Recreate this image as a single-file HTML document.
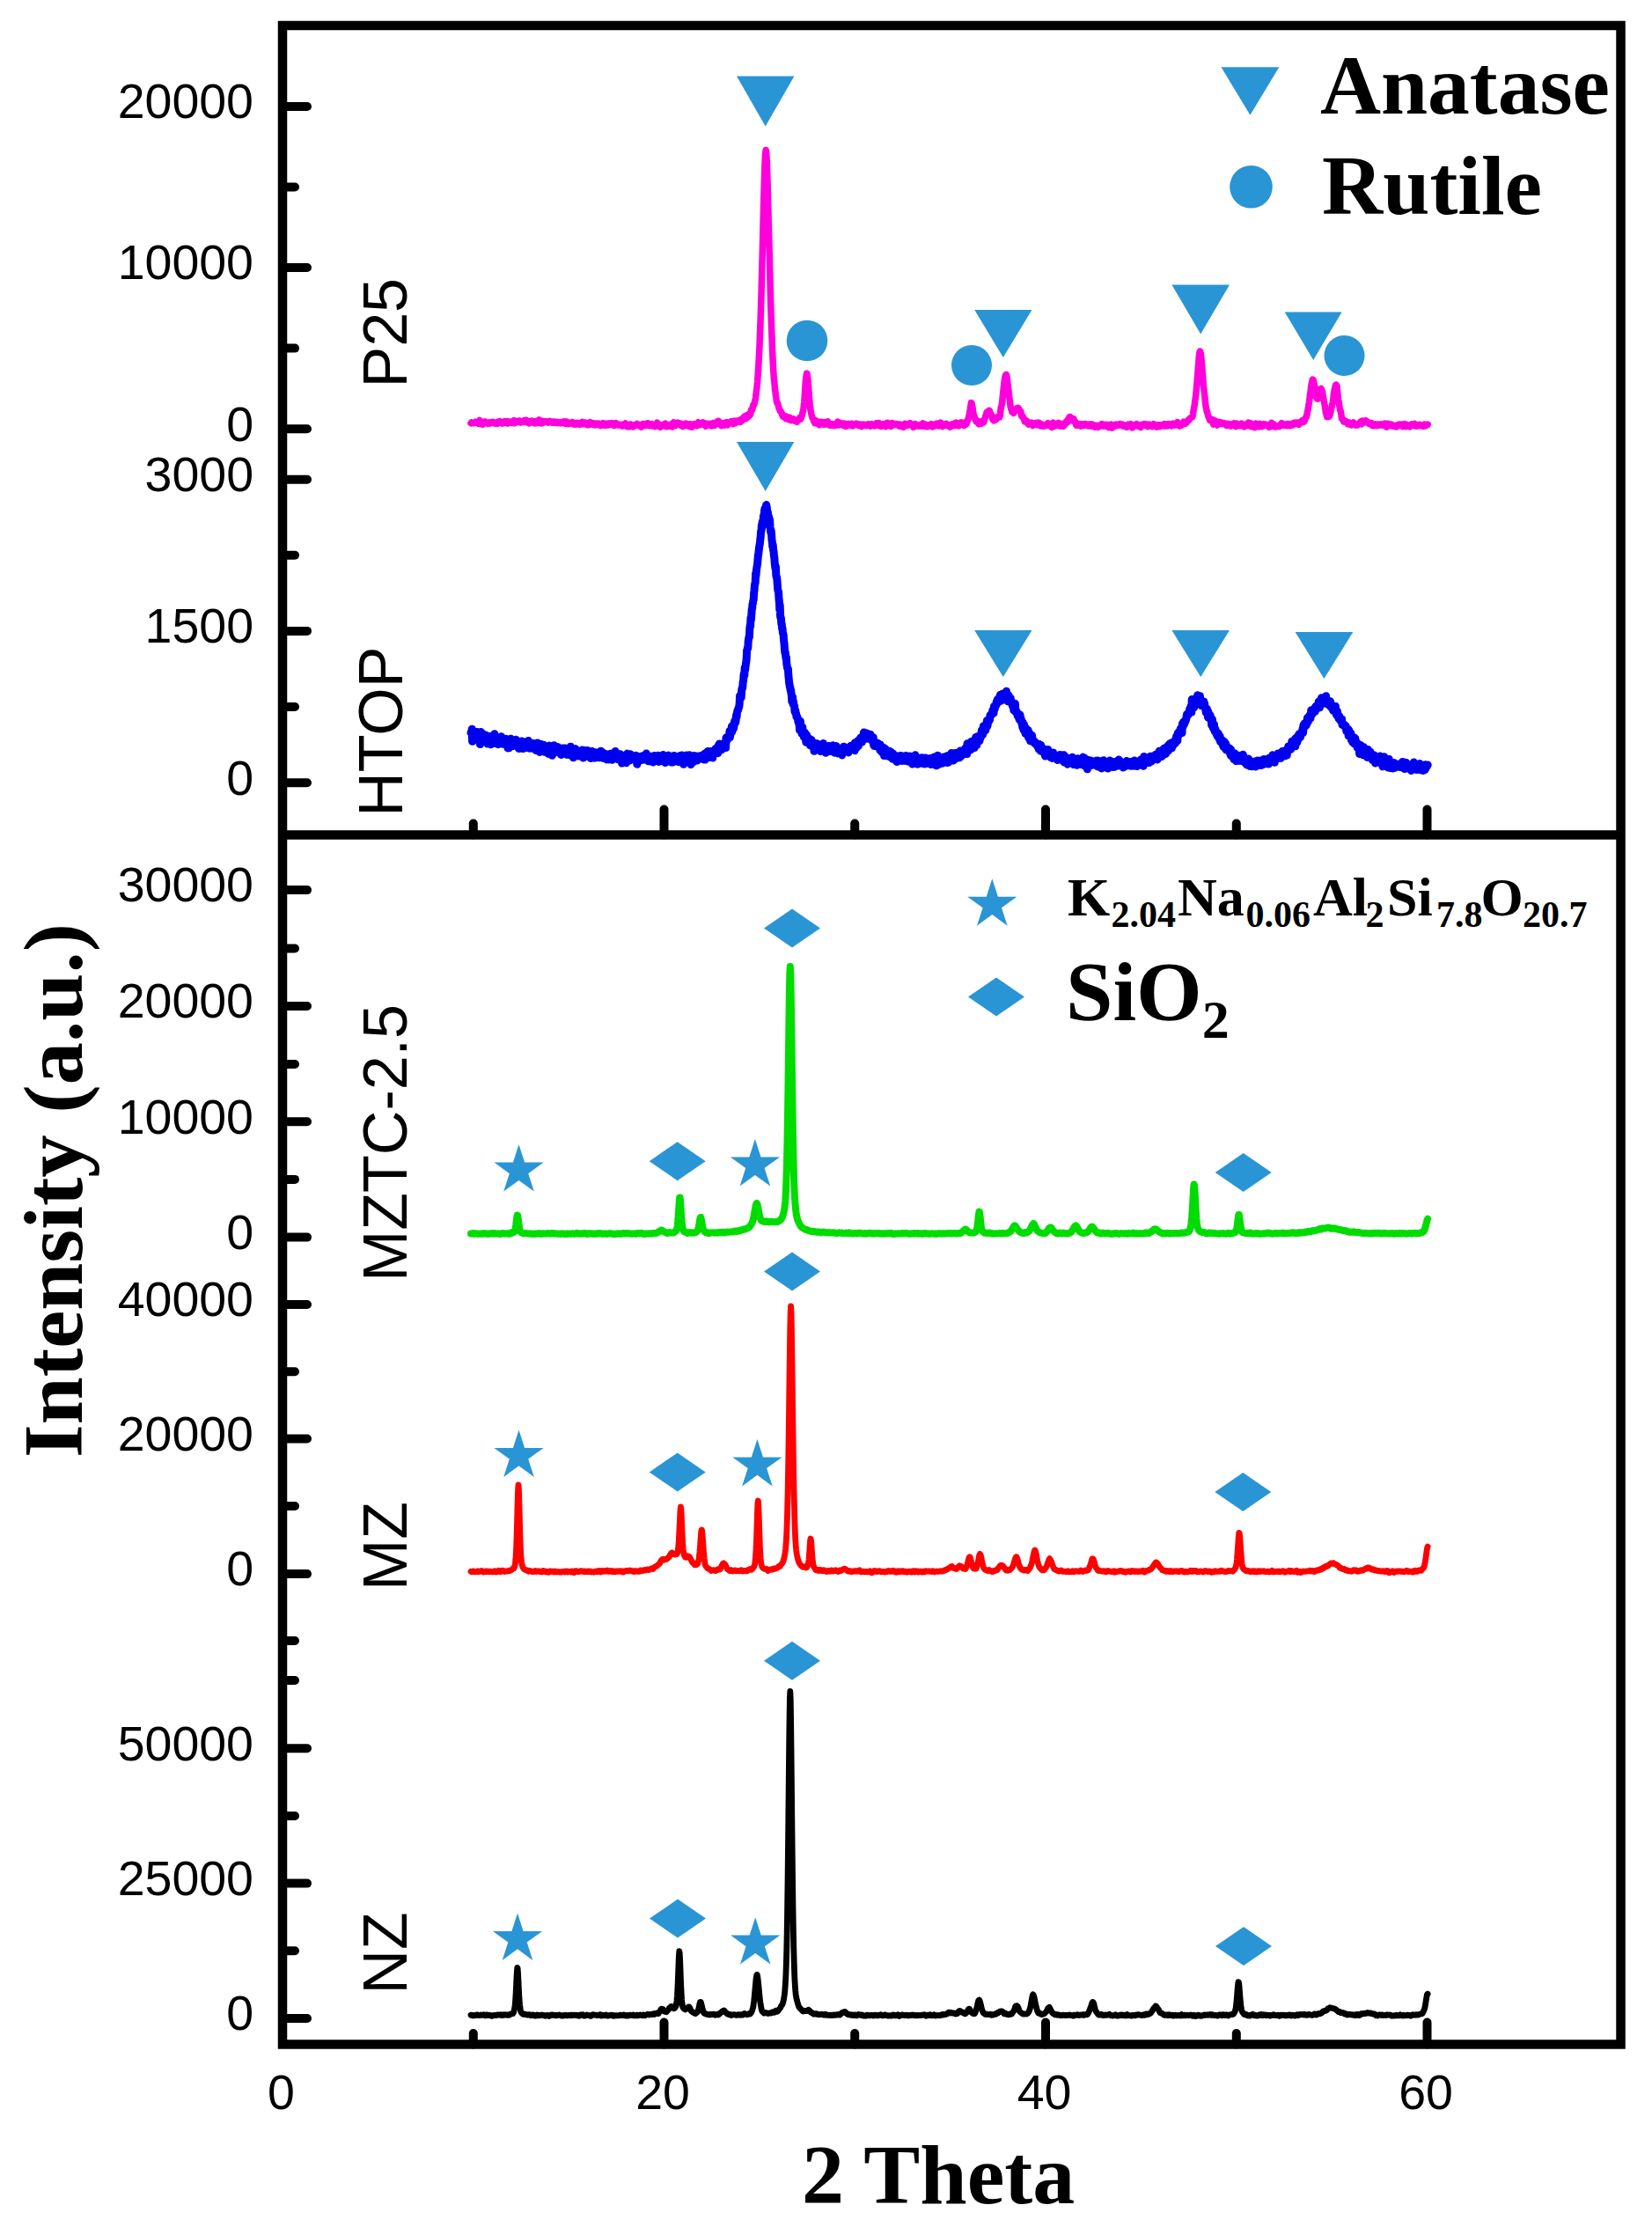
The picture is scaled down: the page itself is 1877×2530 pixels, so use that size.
<!DOCTYPE html>
<html lang="en"><head><meta charset="utf-8"><title>XRD patterns</title>
<style>html,body{margin:0;padding:0;background:#fff}svg{display:block}.tk{font-family:"Liberation Sans",Arial,sans-serif;font-size:55.5px;fill:#000}.sl{font-family:"Liberation Sans",Arial,sans-serif;font-size:70px;fill:#000}.bt{font-family:"Liberation Serif","Times New Roman",serif;font-weight:bold;fill:#000}</style></head><body>
<svg width="1877" height="2530" viewBox="0 0 1877 2530">
<rect x="0" y="0" width="1877" height="2530" fill="#fff"/>
<polyline fill="none" stroke="#FF00DC" stroke-width="7.5" stroke-linejoin="round" stroke-linecap="round" points="535.0,480.6 535.4,480.8 535.8,479.9 536.2,480.0 536.6,480.0 537.0,480.5 537.4,480.3 537.8,480.3 538.2,480.7 538.6,480.4 539.0,480.5 539.4,480.0 539.8,479.9 540.2,479.3 540.6,480.0 541.0,480.2 541.4,480.3 541.8,479.5 542.2,479.3 542.6,479.5 543.0,479.8 543.4,480.7 543.8,481.3 544.2,479.9 544.6,478.1 545.0,477.4 545.4,478.7 545.8,480.0 546.2,480.2 546.6,481.7 547.0,480.9 547.4,480.6 547.8,480.5 548.2,481.6 548.6,482.2 549.0,480.7 549.4,479.4 549.8,479.1 550.2,479.5 550.6,479.7 551.0,479.2 551.4,479.1 551.8,479.3 552.2,479.7 552.6,479.8 553.0,480.3 553.4,480.1 553.8,480.4 554.2,480.9 554.6,481.4 555.0,480.6 555.4,480.5 555.8,480.0 556.2,481.0 556.6,480.0 557.0,480.8 557.4,480.3 557.8,480.2 558.2,479.5 558.6,479.5 559.0,480.4 559.4,480.1 559.8,479.4 560.2,479.3 560.6,479.6 561.0,480.4 561.4,480.7 561.8,480.0 562.2,480.0 562.6,480.2 563.0,481.0 563.4,480.4 563.8,480.1 564.2,480.4 564.6,481.4 565.0,480.7 565.4,479.7 565.8,479.1 566.2,479.0 566.6,480.3 567.0,480.5 567.4,479.8 567.8,478.6 568.2,479.0 568.6,480.3 569.0,480.6 569.4,480.1 569.8,480.0 570.2,480.6 570.6,481.1 571.0,481.0 571.4,480.6 571.8,479.9 572.2,480.4 572.6,479.1 573.0,479.2 573.4,478.6 573.8,479.0 574.2,479.3 574.6,478.9 575.0,480.2 575.4,479.9 575.8,480.7 576.2,480.8 576.6,481.1 577.0,480.2 577.4,478.6 577.8,479.4 578.2,479.8 578.6,480.3 579.0,479.3 579.4,479.3 579.8,480.2 580.2,480.1 580.6,480.2 581.0,479.3 581.4,479.5 581.8,478.9 582.2,479.7 582.6,480.3 583.0,480.0 583.4,478.1 583.8,477.6 584.2,479.9 584.6,480.8 585.0,479.7 585.4,478.5 585.8,478.6 586.2,479.0 586.6,478.5 587.0,479.2 587.4,479.3 587.8,479.6 588.2,479.2 588.6,478.9 589.0,478.6 589.4,478.1 589.8,478.6 590.2,478.1 590.6,478.0 591.0,478.8 591.4,479.4 591.8,480.0 592.2,479.5 592.6,479.2 593.0,479.1 593.4,479.0 593.8,479.4 594.2,478.9 594.6,479.1 595.0,478.6 595.4,478.6 595.8,477.6 596.2,477.7 596.6,479.2 597.0,479.1 597.4,479.4 597.8,477.2 598.2,477.9 598.6,478.3 599.0,479.3 599.4,479.0 599.8,478.6 600.2,479.1 600.6,479.9 601.0,480.9 601.4,480.6 601.8,479.9 602.2,478.7 602.6,478.6 603.0,479.0 603.4,479.1 603.8,479.2 604.2,478.2 604.6,478.7 605.0,478.3 605.4,478.6 605.8,478.5 606.2,479.6 606.6,480.6 607.0,480.3 607.4,479.1 607.8,480.4 608.2,480.9 608.6,480.8 609.0,478.7 609.4,478.2 609.8,478.0 610.2,478.6 610.6,478.3 611.0,479.9 611.4,480.4 611.8,479.1 612.2,478.4 612.6,476.9 613.0,479.2 613.4,479.3 613.8,480.5 614.2,479.3 614.6,480.3 615.0,481.1 615.4,481.1 615.8,480.3 616.2,478.8 616.6,479.4 617.0,478.5 617.4,479.9 617.8,479.4 618.2,480.0 618.6,479.2 619.0,479.4 619.4,479.5 619.8,478.9 620.2,479.2 620.6,478.7 621.0,478.7 621.4,478.7 621.8,479.2 622.2,479.5 622.6,479.5 623.0,480.1 623.4,479.9 623.8,480.0 624.2,479.2 624.6,479.1 625.0,478.5 625.4,479.2 625.8,478.9 626.2,479.2 626.6,479.1 627.0,480.0 627.4,480.2 627.8,478.9 628.2,478.9 628.6,479.3 629.0,479.6 629.4,479.9 629.8,479.3 630.2,479.5 630.6,479.1 631.0,479.4 631.4,480.2 631.8,479.3 632.2,480.4 632.6,480.0 633.0,480.0 633.4,479.4 633.8,479.5 634.2,480.6 634.6,480.1 635.0,480.3 635.4,480.2 635.8,480.0 636.2,480.5 636.6,480.1 637.0,480.0 637.4,479.7 637.8,480.2 638.2,480.6 638.6,480.1 639.0,480.2 639.4,479.3 639.8,479.2 640.2,478.9 640.6,479.2 641.0,479.8 641.4,479.8 641.8,481.1 642.2,480.5 642.6,480.2 643.0,479.9 643.4,479.0 643.8,481.2 644.2,480.6 644.6,481.6 645.0,480.4 645.4,480.8 645.8,480.2 646.2,480.1 646.6,480.6 647.0,481.4 647.4,480.9 647.8,480.7 648.2,480.4 648.6,480.8 649.0,480.7 649.4,480.8 649.8,479.8 650.2,479.6 650.6,479.5 651.0,480.9 651.4,481.1 651.8,482.1 652.2,481.6 652.6,481.6 653.0,480.8 653.4,481.1 653.8,482.0 654.2,482.2 654.6,481.5 655.0,480.4 655.4,480.3 655.8,480.3 656.2,480.5 656.6,480.6 657.0,481.8 657.4,481.8 657.8,482.1 658.2,481.9 658.6,481.7 659.0,482.3 659.4,481.4 659.8,481.2 660.2,480.1 660.6,480.4 661.0,480.1 661.4,480.3 661.8,479.4 662.2,481.0 662.6,481.0 663.0,481.6 663.4,480.3 663.8,480.2 664.2,480.4 664.6,480.3 665.0,480.0 665.4,480.1 665.8,480.4 666.2,481.5 666.6,482.2 667.0,482.6 667.4,482.3 667.8,480.9 668.2,481.3 668.6,481.0 669.0,482.0 669.4,482.6 669.8,481.3 670.2,481.2 670.6,479.7 671.0,481.3 671.4,480.4 671.8,480.8 672.2,480.6 672.6,481.7 673.0,482.0 673.4,481.5 673.8,480.8 674.2,481.3 674.6,481.8 675.0,481.1 675.4,481.1 675.8,481.4 676.2,482.8 676.6,482.2 677.0,482.4 677.4,481.3 677.8,481.8 678.2,481.1 678.6,482.1 679.0,482.4 679.4,482.2 679.8,481.8 680.2,481.3 680.6,482.4 681.0,482.9 681.4,482.1 681.8,481.7 682.2,481.8 682.6,483.7 683.0,482.5 683.4,481.8 683.8,481.3 684.2,481.5 684.6,481.1 685.0,480.7 685.4,482.1 685.8,482.4 686.2,482.4 686.6,481.9 687.0,483.2 687.4,482.9 687.8,483.4 688.2,482.0 688.6,481.9 689.0,481.3 689.4,482.5 689.8,482.9 690.2,482.5 690.6,482.3 691.0,482.4 691.4,482.8 691.8,482.3 692.2,481.7 692.6,480.8 693.0,481.1 693.4,481.3 693.8,481.8 694.2,482.2 694.6,481.2 695.0,481.4 695.4,480.7 695.8,482.7 696.2,482.1 696.6,482.7 697.0,482.1 697.4,483.3 697.8,483.6 698.2,482.5 698.6,481.0 699.0,480.8 699.4,480.7 699.8,481.8 700.2,480.7 700.6,482.0 701.0,482.7 701.4,483.0 701.8,482.9 702.2,482.5 702.6,482.8 703.0,482.4 703.4,482.2 703.8,482.6 704.2,482.8 704.6,482.7 705.0,482.9 705.4,482.4 705.8,482.8 706.2,482.5 706.6,483.7 707.0,483.2 707.4,484.0 707.8,483.3 708.2,483.5 708.6,482.1 709.0,482.3 709.4,482.5 709.8,482.2 710.2,481.3 710.6,480.9 711.0,481.2 711.4,482.5 711.8,483.6 712.2,484.5 712.6,484.1 713.0,483.1 713.4,482.6 713.8,482.9 714.2,484.4 714.6,484.9 715.0,484.2 715.4,483.0 715.8,482.2 716.2,482.0 716.6,481.9 717.0,482.3 717.4,483.8 717.8,483.9 718.2,484.6 718.6,484.6 719.0,484.6 719.4,484.8 719.8,484.2 720.2,483.9 720.6,483.1 721.0,482.7 721.4,482.8 721.8,482.5 722.2,482.6 722.6,483.0 723.0,482.6 723.4,482.5 723.8,481.4 724.2,482.1 724.6,482.4 725.0,483.4 725.4,483.4 725.8,483.4 726.2,482.9 726.6,482.6 727.0,482.6 727.4,483.5 727.8,483.9 728.2,485.1 728.6,484.5 729.0,484.8 729.4,484.1 729.8,484.0 730.2,483.0 730.6,481.6 731.0,481.7 731.4,482.9 731.8,483.7 732.2,483.7 732.6,482.9 733.0,483.0 733.4,481.7 733.8,482.0 734.2,481.7 734.6,482.2 735.0,483.3 735.4,482.5 735.8,482.7 736.2,480.7 736.6,482.1 737.0,482.3 737.4,483.3 737.8,483.0 738.2,483.7 738.6,482.6 739.0,481.9 739.4,482.7 739.8,482.7 740.2,482.6 740.6,481.5 741.0,482.7 741.4,483.4 741.8,483.9 742.2,482.8 742.6,483.2 743.0,483.1 743.4,482.8 743.8,483.1 744.2,484.1 744.6,484.6 745.0,483.7 745.4,483.2 745.8,482.8 746.2,481.6 746.6,480.1 747.0,480.6 747.4,481.4 747.8,482.5 748.2,483.0 748.6,482.6 749.0,482.6 749.4,483.5 749.8,484.9 750.2,485.2 750.6,484.1 751.0,484.0 751.4,482.9 751.8,483.3 752.2,482.7 752.6,483.9 753.0,483.7 753.4,483.1 753.8,482.6 754.2,483.0 754.6,483.0 755.0,482.6 755.4,481.4 755.8,481.2 756.2,482.1 756.6,483.3 757.0,484.6 757.4,484.2 757.8,483.4 758.2,483.1 758.6,482.5 759.0,483.1 759.4,483.5 759.8,484.5 760.2,483.7 760.6,483.1 761.0,482.5 761.4,483.8 761.8,483.9 762.2,482.9 762.6,482.1 763.0,483.1 763.4,484.6 763.8,484.8 764.2,483.8 764.6,482.2 765.0,480.7 765.4,479.9 765.8,481.0 766.2,482.2 766.6,483.3 767.0,483.2 767.4,483.6 767.8,483.0 768.2,482.8 768.6,482.8 769.0,482.4 769.4,481.2 769.8,480.1 770.2,480.7 770.6,480.5 771.0,480.9 771.4,480.6 771.8,481.6 772.2,480.9 772.6,480.9 773.0,481.4 773.4,483.0 773.8,483.4 774.2,482.8 774.6,481.6 775.0,481.8 775.4,483.8 775.8,484.5 776.2,484.3 776.6,484.3 777.0,484.0 777.4,483.7 777.8,481.8 778.2,481.5 778.6,482.9 779.0,482.9 779.4,483.2 779.8,481.1 780.2,482.0 780.6,482.5 781.0,483.2 781.4,483.6 781.8,483.5 782.2,483.9 782.6,484.4 783.0,484.5 783.4,484.0 783.8,482.6 784.2,481.7 784.6,482.1 785.0,482.3 785.4,484.4 785.8,485.2 786.2,485.2 786.6,483.5 787.0,483.4 787.4,482.4 787.8,482.3 788.2,481.9 788.6,482.5 789.0,482.4 789.4,481.7 789.8,482.6 790.2,482.9 790.6,483.4 791.0,483.3 791.4,483.3 791.8,483.7 792.2,482.9 792.6,482.0 793.0,480.4 793.4,479.8 793.8,480.4 794.2,482.0 794.6,483.0 795.0,483.0 795.4,481.7 795.8,481.3 796.2,481.4 796.6,481.7 797.0,481.2 797.4,481.1 797.8,482.1 798.2,481.6 798.6,481.7 799.0,479.9 799.4,481.3 799.8,481.0 800.2,481.0 800.6,480.9 801.0,482.4 801.4,483.6 801.8,484.2 802.2,483.1 802.6,481.8 803.0,481.4 803.4,481.2 803.8,481.6 804.2,481.8 804.6,482.1 805.0,482.7 805.4,482.7 805.8,482.0 806.2,482.7 806.6,481.6 807.0,482.4 807.4,481.4 807.8,482.8 808.2,482.6 808.6,484.0 809.0,482.7 809.4,482.3 809.8,481.9 810.2,480.8 810.6,480.4 811.0,480.5 811.4,482.3 811.8,483.5 812.2,482.7 812.6,482.7 813.0,481.7 813.4,481.1 813.8,479.8 814.2,479.9 814.6,480.3 815.0,480.9 815.4,479.1 815.8,478.3 816.2,478.3 816.6,480.5 817.0,481.3 817.4,481.1 817.8,479.6 818.2,481.0 818.6,480.9 819.0,483.1 819.4,482.8 819.8,483.6 820.2,482.3 820.6,481.4 821.0,480.6 821.4,481.0 821.8,480.9 822.2,481.8 822.6,482.2 823.0,483.2 823.4,482.6 823.8,482.6 824.2,481.1 824.6,480.8 825.0,479.8 825.4,479.6 825.8,480.7 826.2,481.5 826.6,482.8 827.0,482.2 827.4,481.7 827.8,480.6 828.2,479.9 828.6,480.0 829.0,480.4 829.4,480.4 829.8,480.4 830.2,479.2 830.6,479.7 831.0,478.9 831.4,479.5 831.8,479.0 832.2,479.8 832.6,480.4 833.0,481.6 833.4,481.1 833.8,479.9 834.2,478.9 834.6,478.1 835.0,479.0 835.4,479.8 835.8,480.6 836.2,479.9 836.6,478.9 837.0,478.7 837.4,478.1 837.8,478.3 838.2,478.2 838.6,478.6 839.0,478.2 839.4,478.0 839.8,477.8 840.2,477.4 840.6,477.6 841.0,478.1 841.4,479.4 841.8,478.2 842.2,476.9 842.6,476.3 843.0,477.2 843.4,477.7 843.8,476.1 844.2,475.3 844.6,474.5 845.0,474.9 845.4,473.5 845.8,474.1 846.2,472.9 846.6,473.7 847.0,474.5 847.4,475.2 847.8,475.5 848.2,474.0 848.6,473.3 849.0,471.6 849.4,472.2 849.8,472.3 850.2,473.7 850.6,472.0 851.0,471.5 851.4,470.1 851.8,471.1 852.2,471.7 852.6,470.7 853.0,468.6 853.4,465.9 853.8,466.3 854.2,466.2 854.6,466.0 855.0,464.3 855.4,461.8 855.8,460.1 856.2,459.5 856.6,459.9 857.0,459.5 857.4,456.8 857.8,455.1 858.2,454.0 858.6,451.5 859.0,448.5 859.4,444.3 859.8,441.8 860.2,437.9 860.6,433.6 861.0,427.9 861.4,422.3 861.8,415.7 862.2,409.0 862.6,401.0 863.0,392.8 863.4,382.8 863.8,372.0 864.2,360.5 864.6,348.1 865.0,334.6 865.4,320.1 865.8,305.2 866.2,289.6 866.6,273.0 867.0,255.8 867.4,239.9 867.8,224.9 868.2,211.4 868.6,197.3 869.0,185.8 869.4,176.7 869.8,172.4 870.2,170.5 870.6,172.1 871.0,178.1 871.4,186.2 871.8,198.2 872.2,210.8 872.6,226.2 873.0,242.0 873.4,257.0 873.8,272.5 874.2,286.8 874.6,303.2 875.0,318.7 875.4,334.9 875.8,349.4 876.2,361.4 876.6,372.7 877.0,382.8 877.4,393.5 877.8,403.1 878.2,410.7 878.6,419.3 879.0,424.8 879.4,430.4 879.8,433.5 880.2,438.4 880.6,442.8 881.0,445.4 881.4,448.8 881.8,451.2 882.2,454.8 882.6,456.8 883.0,457.8 883.4,458.0 883.8,458.1 884.2,460.3 884.6,462.0 885.0,463.8 885.4,464.2 885.8,465.3 886.2,466.8 886.6,467.2 887.0,467.6 887.4,467.6 887.8,468.9 888.2,469.4 888.6,470.8 889.0,472.2 889.4,473.2 889.8,472.2 890.2,473.2 890.6,473.3 891.0,473.8 891.4,472.6 891.8,472.5 892.2,474.3 892.6,475.0 893.0,475.6 893.4,473.3 893.8,473.9 894.2,473.5 894.6,474.3 895.0,474.5 895.4,474.8 895.8,476.1 896.2,476.6 896.6,476.2 897.0,475.8 897.4,474.4 897.8,475.5 898.2,476.3 898.6,476.5 899.0,477.7 899.4,477.1 899.8,477.3 900.2,476.3 900.6,477.0 901.0,477.0 901.4,477.1 901.8,475.9 902.2,477.4 902.6,477.6 903.0,478.2 903.4,478.1 903.8,477.3 904.2,477.3 904.6,477.7 905.0,478.4 905.4,479.3 905.8,478.3 906.2,477.9 906.6,476.9 907.0,476.7 907.4,476.8 907.8,476.3 908.2,475.6 908.6,474.7 909.0,475.0 909.4,475.3 909.8,476.1 910.2,474.4 910.6,473.8 911.0,472.4 911.4,471.4 911.8,469.3 912.2,467.8 912.6,466.5 913.0,463.8 913.4,460.3 913.8,456.3 914.2,451.1 914.6,444.2 915.0,437.8 915.4,432.7 915.8,428.8 916.2,426.0 916.6,424.2 917.0,424.5 917.4,427.3 917.8,430.1 918.2,435.5 918.6,439.5 919.0,445.1 919.4,450.2 919.8,454.9 920.2,460.1 920.6,462.7 921.0,466.2 921.4,467.8 921.8,470.4 922.2,471.9 922.6,473.0 923.0,474.6 923.4,475.0 923.8,475.7 924.2,476.4 924.6,478.2 925.0,479.5 925.4,479.5 925.8,480.6 926.2,479.7 926.6,479.3 927.0,477.6 927.4,479.0 927.8,479.8 928.2,481.2 928.6,481.3 929.0,481.2 929.4,480.2 929.8,479.1 930.2,480.7 930.6,481.8 931.0,482.8 931.4,481.4 931.8,480.8 932.2,480.3 932.6,480.4 933.0,479.2 933.4,479.4 933.8,479.4 934.2,481.0 934.6,481.2 935.0,482.0 935.4,481.9 935.8,482.3 936.2,480.3 936.6,479.7 937.0,480.3 937.4,481.1 937.8,481.6 938.2,481.1 938.6,481.3 939.0,481.9 939.4,480.7 939.8,480.1 940.2,479.0 940.6,478.9 941.0,480.0 941.4,480.6 941.8,481.8 942.2,481.2 942.6,482.9 943.0,482.6 943.4,483.2 943.8,482.0 944.2,482.0 944.6,481.7 945.0,481.5 945.4,482.1 945.8,482.9 946.2,483.4 946.6,482.6 947.0,481.8 947.4,482.4 947.8,482.6 948.2,483.3 948.6,482.6 949.0,483.6 949.4,482.5 949.8,481.9 950.2,480.8 950.6,481.4 951.0,480.3 951.4,480.5 951.8,479.0 952.2,480.6 952.6,481.0 953.0,483.0 953.4,482.2 953.8,482.4 954.2,481.6 954.6,481.6 955.0,480.5 955.4,480.5 955.8,481.3 956.2,482.3 956.6,481.6 957.0,481.2 957.4,481.3 957.8,482.6 958.2,483.2 958.6,481.9 959.0,482.3 959.4,481.1 959.8,482.1 960.2,482.3 960.6,484.3 961.0,484.5 961.4,484.3 961.8,482.8 962.2,482.3 962.6,482.4 963.0,482.8 963.4,483.0 963.8,481.5 964.2,481.6 964.6,482.1 965.0,482.4 965.4,482.0 965.8,482.6 966.2,483.1 966.6,483.3 967.0,481.7 967.4,481.3 967.8,481.3 968.2,482.7 968.6,482.7 969.0,483.9 969.4,482.6 969.8,482.8 970.2,482.2 970.6,482.6 971.0,482.3 971.4,481.8 971.8,482.2 972.2,481.7 972.6,481.6 973.0,481.3 973.4,482.1 973.8,482.6 974.2,482.4 974.6,482.4 975.0,482.0 975.4,482.7 975.8,482.8 976.2,483.7 976.6,482.7 977.0,483.6 977.4,482.3 977.8,482.7 978.2,482.2 978.6,483.8 979.0,484.5 979.4,484.0 979.8,483.6 980.2,482.9 980.6,482.7 981.0,482.2 981.4,482.4 981.8,483.4 982.2,482.8 982.6,483.0 983.0,482.8 983.4,483.3 983.8,483.1 984.2,482.3 984.6,482.7 985.0,482.8 985.4,483.5 985.8,482.7 986.2,482.7 986.6,481.8 987.0,482.0 987.4,482.5 987.8,483.1 988.2,483.6 988.6,483.3 989.0,484.1 989.4,483.4 989.8,482.3 990.2,481.8 990.6,481.8 991.0,482.2 991.4,482.3 991.8,482.6 992.2,483.4 992.6,482.8 993.0,482.8 993.4,482.7 993.8,483.9 994.2,483.4 994.6,483.2 995.0,482.4 995.4,481.8 995.8,480.9 996.2,481.9 996.6,481.9 997.0,483.2 997.4,481.4 997.8,482.0 998.2,480.5 998.6,480.5 999.0,481.4 999.4,481.7 999.8,482.6 1000.2,482.3 1000.6,484.3 1001.0,483.7 1001.4,484.2 1001.8,483.6 1002.2,483.7 1002.6,482.0 1003.0,482.4 1003.4,481.8 1003.8,482.5 1004.2,482.1 1004.6,483.5 1005.0,483.3 1005.4,482.8 1005.8,482.0 1006.2,483.2 1006.6,484.6 1007.0,483.7 1007.4,483.6 1007.8,480.5 1008.2,481.6 1008.6,480.4 1009.0,483.2 1009.4,483.3 1009.8,483.5 1010.2,482.1 1010.6,481.6 1011.0,482.2 1011.4,482.4 1011.8,483.1 1012.2,483.9 1012.6,484.4 1013.0,483.3 1013.4,481.4 1013.8,480.6 1014.2,481.9 1014.6,482.7 1015.0,482.7 1015.4,482.2 1015.8,481.6 1016.2,481.3 1016.6,481.5 1017.0,482.2 1017.4,482.6 1017.8,482.5 1018.2,482.3 1018.6,482.2 1019.0,481.7 1019.4,482.4 1019.8,482.8 1020.2,482.4 1020.6,481.9 1021.0,482.2 1021.4,484.0 1021.8,483.5 1022.2,483.3 1022.6,482.1 1023.0,483.2 1023.4,483.3 1023.8,484.3 1024.2,484.1 1024.6,483.6 1025.0,482.4 1025.4,482.3 1025.8,482.9 1026.2,484.6 1026.6,485.3 1027.0,484.4 1027.4,483.2 1027.8,481.5 1028.2,481.2 1028.6,481.4 1029.0,482.5 1029.4,482.9 1029.8,483.4 1030.2,482.5 1030.6,482.5 1031.0,481.9 1031.4,482.6 1031.8,483.2 1032.2,482.7 1032.6,482.7 1033.0,482.8 1033.4,482.7 1033.8,481.5 1034.2,480.8 1034.6,481.2 1035.0,481.9 1035.4,483.0 1035.8,483.4 1036.2,483.6 1036.6,483.4 1037.0,483.9 1037.4,484.5 1037.8,485.4 1038.2,485.1 1038.6,485.1 1039.0,484.0 1039.4,482.6 1039.8,481.6 1040.2,481.9 1040.6,482.7 1041.0,483.2 1041.4,483.4 1041.8,482.8 1042.2,483.5 1042.6,483.1 1043.0,483.4 1043.4,482.8 1043.8,482.7 1044.2,484.1 1044.6,483.2 1045.0,483.4 1045.4,482.7 1045.8,484.0 1046.2,483.7 1046.6,484.0 1047.0,483.0 1047.4,482.4 1047.8,481.7 1048.2,481.5 1048.6,480.9 1049.0,481.1 1049.4,482.3 1049.8,484.1 1050.2,483.4 1050.6,483.0 1051.0,482.0 1051.4,483.3 1051.8,483.7 1052.2,484.7 1052.6,482.5 1053.0,482.5 1053.4,483.0 1053.8,484.8 1054.2,484.8 1054.6,483.9 1055.0,483.0 1055.4,482.9 1055.8,483.1 1056.2,483.5 1056.6,482.9 1057.0,483.7 1057.4,482.9 1057.8,483.1 1058.2,481.7 1058.6,483.0 1059.0,483.9 1059.4,484.9 1059.8,484.7 1060.2,483.1 1060.6,483.6 1061.0,483.5 1061.4,484.2 1061.8,483.0 1062.2,482.5 1062.6,482.8 1063.0,483.0 1063.4,483.0 1063.8,481.2 1064.2,481.0 1064.6,481.5 1065.0,483.3 1065.4,483.2 1065.8,483.2 1066.2,483.5 1066.6,483.3 1067.0,483.9 1067.4,482.2 1067.8,481.7 1068.2,480.4 1068.6,480.1 1069.0,480.2 1069.4,481.5 1069.8,483.6 1070.2,484.2 1070.6,484.5 1071.0,483.9 1071.4,483.6 1071.8,482.7 1072.2,482.5 1072.6,483.2 1073.0,482.2 1073.4,482.8 1073.8,482.1 1074.2,483.5 1074.6,482.0 1075.0,482.0 1075.4,481.6 1075.8,483.0 1076.2,482.5 1076.6,483.5 1077.0,483.2 1077.4,483.6 1077.8,483.3 1078.2,483.1 1078.6,484.1 1079.0,484.7 1079.4,485.1 1079.8,484.1 1080.2,482.5 1080.6,482.4 1081.0,482.9 1081.4,482.6 1081.8,481.9 1082.2,482.1 1082.6,483.9 1083.0,482.8 1083.4,482.8 1083.8,481.3 1084.2,483.3 1084.6,483.4 1085.0,483.5 1085.4,482.4 1085.8,481.1 1086.2,480.0 1086.6,481.3 1087.0,481.9 1087.4,482.7 1087.8,481.8 1088.2,481.1 1088.6,481.6 1089.0,482.5 1089.4,483.9 1089.8,482.8 1090.2,482.8 1090.6,481.7 1091.0,481.5 1091.4,479.9 1091.8,479.8 1092.2,480.8 1092.6,480.9 1093.0,480.5 1093.4,480.3 1093.8,482.0 1094.2,482.4 1094.6,482.8 1095.0,481.6 1095.4,483.5 1095.8,482.0 1096.2,482.5 1096.6,480.0 1097.0,480.6 1097.4,479.7 1097.8,482.0 1098.2,481.5 1098.6,480.0 1099.0,478.2 1099.4,477.3 1099.8,477.2 1100.2,475.1 1100.6,474.0 1101.0,472.1 1101.4,470.0 1101.8,467.7 1102.2,465.8 1102.6,462.9 1103.0,460.2 1103.4,457.6 1103.8,457.7 1104.2,458.6 1104.6,460.9 1105.0,463.0 1105.4,466.4 1105.8,468.7 1106.2,471.2 1106.6,471.7 1107.0,472.9 1107.4,473.9 1107.8,475.2 1108.2,477.3 1108.6,477.5 1109.0,478.8 1109.4,477.5 1109.8,477.9 1110.2,477.9 1110.6,479.4 1111.0,479.1 1111.4,479.4 1111.8,480.2 1112.2,481.6 1112.6,481.2 1113.0,480.3 1113.4,479.2 1113.8,479.9 1114.2,481.0 1114.6,481.2 1115.0,479.7 1115.4,478.8 1115.8,479.3 1116.2,478.4 1116.6,478.1 1117.0,478.5 1117.4,480.0 1117.8,479.7 1118.2,477.9 1118.6,477.3 1119.0,475.6 1119.4,473.9 1119.8,472.4 1120.2,471.5 1120.6,471.0 1121.0,468.6 1121.4,468.3 1121.8,467.8 1122.2,468.2 1122.6,467.4 1123.0,467.8 1123.4,467.3 1123.8,467.1 1124.2,466.3 1124.6,467.5 1125.0,468.4 1125.4,470.1 1125.8,470.9 1126.2,471.6 1126.6,471.6 1127.0,473.5 1127.4,475.0 1127.8,476.3 1128.2,476.1 1128.6,476.5 1129.0,477.4 1129.4,477.9 1129.8,477.7 1130.2,476.9 1130.6,475.9 1131.0,475.4 1131.4,476.6 1131.8,476.5 1132.2,475.7 1132.6,474.1 1133.0,473.8 1133.4,474.7 1133.8,474.1 1134.2,474.2 1134.6,473.4 1135.0,473.8 1135.4,473.6 1135.8,473.8 1136.2,472.4 1136.6,468.8 1137.0,465.1 1137.4,462.3 1137.8,461.8 1138.2,459.7 1138.6,457.3 1139.0,452.8 1139.4,449.3 1139.8,445.4 1140.2,441.5 1140.6,437.9 1141.0,434.5 1141.4,431.4 1141.8,428.8 1142.2,427.1 1142.6,426.2 1143.0,425.6 1143.4,425.5 1143.8,427.0 1144.2,429.7 1144.6,432.8 1145.0,436.5 1145.4,439.6 1145.8,442.6 1146.2,445.7 1146.6,449.6 1147.0,452.9 1147.4,455.8 1147.8,459.0 1148.2,462.5 1148.6,464.3 1149.0,465.2 1149.4,465.5 1149.8,467.8 1150.2,467.8 1150.6,468.7 1151.0,468.8 1151.4,468.8 1151.8,469.4 1152.2,467.8 1152.6,468.1 1153.0,466.6 1153.4,466.5 1153.8,465.8 1154.2,465.2 1154.6,464.0 1155.0,463.8 1155.4,463.7 1155.8,464.6 1156.2,464.7 1156.6,463.4 1157.0,463.6 1157.4,463.9 1157.8,465.0 1158.2,465.6 1158.6,466.6 1159.0,467.6 1159.4,467.2 1159.8,467.3 1160.2,470.3 1160.6,472.3 1161.0,472.9 1161.4,472.2 1161.8,472.4 1162.2,473.7 1162.6,474.8 1163.0,474.6 1163.4,475.7 1163.8,477.1 1164.2,479.0 1164.6,479.0 1165.0,479.2 1165.4,479.0 1165.8,478.8 1166.2,477.7 1166.6,478.5 1167.0,479.7 1167.4,480.6 1167.8,481.2 1168.2,481.6 1168.6,482.1 1169.0,481.4 1169.4,480.9 1169.8,481.4 1170.2,481.3 1170.6,481.4 1171.0,480.5 1171.4,481.1 1171.8,480.7 1172.2,480.2 1172.6,481.8 1173.0,483.0 1173.4,483.5 1173.8,482.0 1174.2,481.9 1174.6,482.1 1175.0,482.6 1175.4,481.8 1175.8,481.9 1176.2,481.5 1176.6,481.6 1177.0,480.4 1177.4,480.5 1177.8,481.0 1178.2,482.7 1178.6,482.1 1179.0,482.2 1179.4,482.1 1179.8,481.6 1180.2,480.2 1180.6,480.4 1181.0,480.8 1181.4,482.7 1181.8,483.7 1182.2,483.9 1182.6,483.0 1183.0,481.7 1183.4,482.5 1183.8,482.2 1184.2,483.0 1184.6,483.2 1185.0,484.2 1185.4,483.2 1185.8,483.2 1186.2,483.3 1186.6,482.9 1187.0,483.6 1187.4,483.0 1187.8,483.9 1188.2,482.4 1188.6,482.8 1189.0,483.2 1189.4,483.1 1189.8,481.9 1190.2,481.0 1190.6,480.7 1191.0,481.2 1191.4,481.4 1191.8,482.1 1192.2,483.3 1192.6,482.8 1193.0,483.1 1193.4,482.0 1193.8,483.4 1194.2,484.7 1194.6,485.1 1195.0,485.3 1195.4,483.6 1195.8,482.5 1196.2,480.8 1196.6,480.2 1197.0,480.5 1197.4,481.1 1197.8,482.7 1198.2,483.7 1198.6,484.1 1199.0,483.2 1199.4,482.3 1199.8,482.1 1200.2,482.4 1200.6,483.0 1201.0,483.1 1201.4,483.0 1201.8,481.7 1202.2,480.9 1202.6,480.4 1203.0,482.5 1203.4,482.9 1203.8,483.8 1204.2,483.6 1204.6,484.0 1205.0,483.4 1205.4,482.4 1205.8,481.5 1206.2,481.9 1206.6,482.7 1207.0,483.6 1207.4,483.8 1207.8,483.5 1208.2,484.2 1208.6,483.3 1209.0,482.9 1209.4,482.0 1209.8,482.9 1210.2,481.2 1210.6,480.3 1211.0,479.2 1211.4,479.7 1211.8,480.2 1212.2,480.0 1212.6,480.0 1213.0,478.1 1213.4,476.7 1213.8,475.9 1214.2,476.6 1214.6,476.2 1215.0,475.0 1215.4,473.5 1215.8,473.5 1216.2,475.3 1216.6,477.4 1217.0,477.4 1217.4,477.1 1217.8,476.6 1218.2,478.0 1218.6,477.7 1219.0,476.6 1219.4,476.1 1219.8,475.6 1220.2,477.0 1220.6,478.2 1221.0,478.7 1221.4,479.0 1221.8,479.1 1222.2,481.3 1222.6,482.5 1223.0,483.1 1223.4,482.2 1223.8,481.4 1224.2,481.9 1224.6,482.1 1225.0,482.4 1225.4,482.7 1225.8,483.3 1226.2,482.6 1226.6,481.6 1227.0,481.9 1227.4,482.7 1227.8,483.6 1228.2,484.0 1228.6,483.7 1229.0,482.8 1229.4,482.0 1229.8,481.7 1230.2,482.3 1230.6,482.3 1231.0,483.4 1231.4,482.9 1231.8,482.5 1232.2,483.1 1232.6,483.0 1233.0,483.1 1233.4,481.7 1233.8,482.0 1234.2,481.8 1234.6,482.2 1235.0,482.0 1235.4,482.3 1235.8,482.6 1236.2,483.4 1236.6,483.9 1237.0,483.3 1237.4,483.1 1237.8,482.8 1238.2,483.1 1238.6,481.9 1239.0,482.4 1239.4,482.4 1239.8,484.3 1240.2,484.3 1240.6,483.8 1241.0,482.0 1241.4,482.3 1241.8,482.4 1242.2,483.6 1242.6,482.8 1243.0,484.5 1243.4,484.2 1243.8,485.2 1244.2,484.8 1244.6,484.5 1245.0,483.4 1245.4,483.5 1245.8,483.8 1246.2,483.5 1246.6,483.3 1247.0,484.8 1247.4,485.3 1247.8,485.4 1248.2,483.9 1248.6,484.7 1249.0,483.7 1249.4,484.6 1249.8,484.1 1250.2,484.2 1250.6,483.6 1251.0,482.9 1251.4,482.4 1251.8,481.7 1252.2,481.9 1252.6,482.0 1253.0,482.9 1253.4,483.2 1253.8,484.1 1254.2,483.6 1254.6,483.3 1255.0,483.0 1255.4,484.1 1255.8,483.6 1256.2,483.4 1256.6,482.5 1257.0,482.8 1257.4,482.6 1257.8,482.4 1258.2,483.1 1258.6,483.1 1259.0,484.0 1259.4,484.6 1259.8,485.7 1260.2,484.2 1260.6,483.4 1261.0,483.0 1261.4,484.3 1261.8,483.0 1262.2,483.1 1262.6,482.2 1263.0,483.9 1263.4,484.0 1263.8,486.1 1264.2,485.2 1264.6,483.7 1265.0,482.8 1265.4,483.5 1265.8,484.2 1266.2,484.4 1266.6,484.3 1267.0,483.7 1267.4,482.8 1267.8,482.1 1268.2,482.8 1268.6,483.1 1269.0,482.9 1269.4,482.9 1269.8,483.1 1270.2,483.5 1270.6,483.4 1271.0,482.9 1271.4,482.9 1271.8,482.0 1272.2,482.2 1272.6,481.7 1273.0,482.9 1273.4,481.9 1273.8,483.0 1274.2,483.1 1274.6,483.2 1275.0,482.8 1275.4,482.2 1275.8,484.0 1276.2,484.2 1276.6,484.2 1277.0,483.3 1277.4,483.0 1277.8,484.1 1278.2,484.2 1278.6,484.5 1279.0,483.2 1279.4,483.4 1279.8,484.3 1280.2,485.3 1280.6,484.9 1281.0,483.7 1281.4,482.8 1281.8,483.0 1282.2,482.2 1282.6,482.8 1283.0,482.5 1283.4,482.6 1283.8,482.9 1284.2,482.3 1284.6,482.8 1285.0,481.7 1285.4,483.6 1285.8,484.7 1286.2,486.0 1286.6,486.0 1287.0,485.2 1287.4,485.1 1287.8,483.7 1288.2,482.9 1288.6,482.6 1289.0,482.5 1289.4,482.8 1289.8,483.2 1290.2,483.4 1290.6,482.7 1291.0,482.2 1291.4,481.8 1291.8,482.6 1292.2,482.0 1292.6,483.2 1293.0,484.4 1293.4,484.4 1293.8,484.1 1294.2,483.4 1294.6,483.4 1295.0,483.1 1295.4,483.5 1295.8,484.6 1296.2,485.5 1296.6,484.0 1297.0,483.1 1297.4,482.3 1297.8,483.2 1298.2,483.6 1298.6,483.2 1299.0,482.8 1299.4,482.4 1299.8,482.9 1300.2,481.5 1300.6,482.8 1301.0,482.2 1301.4,483.0 1301.8,482.4 1302.2,481.9 1302.6,482.9 1303.0,482.4 1303.4,483.5 1303.8,483.8 1304.2,484.7 1304.6,484.1 1305.0,483.5 1305.4,482.7 1305.8,482.2 1306.2,482.7 1306.6,482.7 1307.0,482.8 1307.4,483.1 1307.8,483.8 1308.2,483.9 1308.6,483.5 1309.0,483.4 1309.4,484.6 1309.8,483.7 1310.2,482.2 1310.6,481.7 1311.0,481.9 1311.4,482.7 1311.8,482.7 1312.2,483.3 1312.6,483.0 1313.0,482.9 1313.4,484.3 1313.8,484.6 1314.2,485.1 1314.6,483.5 1315.0,483.7 1315.4,482.8 1315.8,482.9 1316.2,482.7 1316.6,483.7 1317.0,484.6 1317.4,484.7 1317.8,484.7 1318.2,482.9 1318.6,482.8 1319.0,483.3 1319.4,483.8 1319.8,483.4 1320.2,482.6 1320.6,482.5 1321.0,482.7 1321.4,482.4 1321.8,483.6 1322.2,483.3 1322.6,483.2 1323.0,481.7 1323.4,482.9 1323.8,483.0 1324.2,484.1 1324.6,483.4 1325.0,483.6 1325.4,482.0 1325.8,482.6 1326.2,482.9 1326.6,483.9 1327.0,483.1 1327.4,482.6 1327.8,481.6 1328.2,482.2 1328.6,482.6 1329.0,483.1 1329.4,482.1 1329.8,482.0 1330.2,482.2 1330.6,483.5 1331.0,483.8 1331.4,483.5 1331.8,481.9 1332.2,481.3 1332.6,481.1 1333.0,481.7 1333.4,482.1 1333.8,482.9 1334.2,483.1 1334.6,482.7 1335.0,482.7 1335.4,481.9 1335.8,481.9 1336.2,482.0 1336.6,482.6 1337.0,481.9 1337.4,480.7 1337.8,479.6 1338.2,481.3 1338.6,481.0 1339.0,481.8 1339.4,481.8 1339.8,483.3 1340.2,484.0 1340.6,482.6 1341.0,482.4 1341.4,483.3 1341.8,483.5 1342.2,483.2 1342.6,481.2 1343.0,481.1 1343.4,481.0 1343.8,481.9 1344.2,481.3 1344.6,480.1 1345.0,479.2 1345.4,479.8 1345.8,481.3 1346.2,481.5 1346.6,480.9 1347.0,480.3 1347.4,480.3 1347.8,480.7 1348.2,480.0 1348.6,479.5 1349.0,478.9 1349.4,477.8 1349.8,477.9 1350.2,477.1 1350.6,477.6 1351.0,476.3 1351.4,476.5 1351.8,476.1 1352.2,475.0 1352.6,475.0 1353.0,474.6 1353.4,474.7 1353.8,474.3 1354.2,474.0 1354.6,473.8 1355.0,473.0 1355.4,471.3 1355.8,468.2 1356.2,465.5 1356.6,463.2 1357.0,461.9 1357.4,458.9 1357.8,455.5 1358.2,452.7 1358.6,450.0 1359.0,446.0 1359.4,441.6 1359.8,436.4 1360.2,432.0 1360.6,427.0 1361.0,422.0 1361.4,416.9 1361.8,411.8 1362.2,406.4 1362.6,402.9 1363.0,400.1 1363.4,399.1 1363.8,399.5 1364.2,401.3 1364.6,404.2 1365.0,407.5 1365.4,412.0 1365.8,417.7 1366.2,422.4 1366.6,427.3 1367.0,432.3 1367.4,437.5 1367.8,441.5 1368.2,444.7 1368.6,448.4 1369.0,451.8 1369.4,456.6 1369.8,459.3 1370.2,462.7 1370.6,463.9 1371.0,466.6 1371.4,467.9 1371.8,468.6 1372.2,470.5 1372.6,471.8 1373.0,473.6 1373.4,473.7 1373.8,475.2 1374.2,476.3 1374.6,477.4 1375.0,477.7 1375.4,477.8 1375.8,477.7 1376.2,477.2 1376.6,476.3 1377.0,476.4 1377.4,476.5 1377.8,479.3 1378.2,480.6 1378.6,482.1 1379.0,480.5 1379.4,481.0 1379.8,479.5 1380.2,479.3 1380.6,477.8 1381.0,478.4 1381.4,479.3 1381.8,480.0 1382.2,481.8 1382.6,482.4 1383.0,483.1 1383.4,482.3 1383.8,481.8 1384.2,480.8 1384.6,479.7 1385.0,479.4 1385.4,479.7 1385.8,481.0 1386.2,480.6 1386.6,480.1 1387.0,479.9 1387.4,480.3 1387.8,481.4 1388.2,481.0 1388.6,481.3 1389.0,480.3 1389.4,480.6 1389.8,480.6 1390.2,481.1 1390.6,480.8 1391.0,481.4 1391.4,481.9 1391.8,481.3 1392.2,481.1 1392.6,481.3 1393.0,482.9 1393.4,483.5 1393.8,483.4 1394.2,482.2 1394.6,481.3 1395.0,481.7 1395.4,482.0 1395.8,483.1 1396.2,483.3 1396.6,483.1 1397.0,482.8 1397.4,482.0 1397.8,483.8 1398.2,484.1 1398.6,483.9 1399.0,483.0 1399.4,482.0 1399.8,482.2 1400.2,482.1 1400.6,482.7 1401.0,483.0 1401.4,482.4 1401.8,481.2 1402.2,480.8 1402.6,480.9 1403.0,481.5 1403.4,483.0 1403.8,484.2 1404.2,484.5 1404.6,482.5 1405.0,481.1 1405.4,481.4 1405.8,482.8 1406.2,483.4 1406.6,483.3 1407.0,482.8 1407.4,483.6 1407.8,482.5 1408.2,482.4 1408.6,482.1 1409.0,483.7 1409.4,483.8 1409.8,483.0 1410.2,482.1 1410.6,481.0 1411.0,481.8 1411.4,482.2 1411.8,483.4 1412.2,482.7 1412.6,482.0 1413.0,482.6 1413.4,483.2 1413.8,484.9 1414.2,484.3 1414.6,483.3 1415.0,482.8 1415.4,483.3 1415.8,483.8 1416.2,482.3 1416.6,481.9 1417.0,482.1 1417.4,483.4 1417.8,481.5 1418.2,481.8 1418.6,480.1 1419.0,481.1 1419.4,481.4 1419.8,481.9 1420.2,481.3 1420.6,480.6 1421.0,482.6 1421.4,484.6 1421.8,484.5 1422.2,484.1 1422.6,483.5 1423.0,484.0 1423.4,483.7 1423.8,482.9 1424.2,483.2 1424.6,483.6 1425.0,485.6 1425.4,485.7 1425.8,483.7 1426.2,481.4 1426.6,481.1 1427.0,482.5 1427.4,482.2 1427.8,481.9 1428.2,481.6 1428.6,482.7 1429.0,482.7 1429.4,483.4 1429.8,484.3 1430.2,484.8 1430.6,483.6 1431.0,482.3 1431.4,481.5 1431.8,482.1 1432.2,482.3 1432.6,482.5 1433.0,482.0 1433.4,482.8 1433.8,483.5 1434.2,484.6 1434.6,484.0 1435.0,483.8 1435.4,482.7 1435.8,482.1 1436.2,481.6 1436.6,482.4 1437.0,482.9 1437.4,482.6 1437.8,482.3 1438.2,482.6 1438.6,483.4 1439.0,482.9 1439.4,482.7 1439.8,482.4 1440.2,482.6 1440.6,482.5 1441.0,483.2 1441.4,484.4 1441.8,485.4 1442.2,485.3 1442.6,484.0 1443.0,482.9 1443.4,482.4 1443.8,483.3 1444.2,481.9 1444.6,482.2 1445.0,480.3 1445.4,481.9 1445.8,482.5 1446.2,483.2 1446.6,481.8 1447.0,481.8 1447.4,483.2 1447.8,484.8 1448.2,484.8 1448.6,483.4 1449.0,483.8 1449.4,484.1 1449.8,484.9 1450.2,484.4 1450.6,484.1 1451.0,484.4 1451.4,483.8 1451.8,483.9 1452.2,483.6 1452.6,484.1 1453.0,484.1 1453.4,484.2 1453.8,484.5 1454.2,483.5 1454.6,483.4 1455.0,482.3 1455.4,482.5 1455.8,481.1 1456.2,480.7 1456.6,481.0 1457.0,481.9 1457.4,483.0 1457.8,483.0 1458.2,483.3 1458.6,482.7 1459.0,482.4 1459.4,482.1 1459.8,482.3 1460.2,482.2 1460.6,482.0 1461.0,481.9 1461.4,481.8 1461.8,482.1 1462.2,483.7 1462.6,483.4 1463.0,483.5 1463.4,481.5 1463.8,482.8 1464.2,482.3 1464.6,483.2 1465.0,483.0 1465.4,483.7 1465.8,482.8 1466.2,482.3 1466.6,481.6 1467.0,482.8 1467.4,482.5 1467.8,483.1 1468.2,482.8 1468.6,482.6 1469.0,482.8 1469.4,481.7 1469.8,481.5 1470.2,480.3 1470.6,481.0 1471.0,481.0 1471.4,481.4 1471.8,481.1 1472.2,481.0 1472.6,480.1 1473.0,480.3 1473.4,480.7 1473.8,481.2 1474.2,480.8 1474.6,480.2 1475.0,481.4 1475.4,481.8 1475.8,482.3 1476.2,481.0 1476.6,480.5 1477.0,479.7 1477.4,480.6 1477.8,479.8 1478.2,480.3 1478.6,479.2 1479.0,479.9 1479.4,478.6 1479.8,477.7 1480.2,478.1 1480.6,478.4 1481.0,479.3 1481.4,478.7 1481.8,479.0 1482.2,478.5 1482.6,476.8 1483.0,475.6 1483.4,474.8 1483.8,473.8 1484.2,474.0 1484.6,472.1 1485.0,471.4 1485.4,468.2 1485.8,466.9 1486.2,464.4 1486.6,462.6 1487.0,459.2 1487.4,457.5 1487.8,453.7 1488.2,451.4 1488.6,447.5 1489.0,445.3 1489.4,441.2 1489.8,438.5 1490.2,436.0 1490.6,434.4 1491.0,432.4 1491.4,431.0 1491.8,431.3 1492.2,431.5 1492.6,433.4 1493.0,435.4 1493.4,437.6 1493.8,438.4 1494.2,440.8 1494.6,444.2 1495.0,448.8 1495.4,450.9 1495.8,452.4 1496.2,452.2 1496.6,452.9 1497.0,453.2 1497.4,453.2 1497.8,452.6 1498.2,452.6 1498.6,452.0 1499.0,449.8 1499.4,447.6 1499.8,445.2 1500.2,443.2 1500.6,442.0 1501.0,441.4 1501.4,442.8 1501.8,443.1 1502.2,444.2 1502.6,445.4 1503.0,448.3 1503.4,451.2 1503.8,453.1 1504.2,454.7 1504.6,457.0 1505.0,459.4 1505.4,461.4 1505.8,464.1 1506.2,467.3 1506.6,469.4 1507.0,470.9 1507.4,471.8 1507.8,473.8 1508.2,473.8 1508.6,473.4 1509.0,472.9 1509.4,473.0 1509.8,473.2 1510.2,473.3 1510.6,472.4 1511.0,471.5 1511.4,469.2 1511.8,468.2 1512.2,466.2 1512.6,464.7 1513.0,462.8 1513.4,460.8 1513.8,459.2 1514.2,457.3 1514.6,454.1 1515.0,451.7 1515.4,447.2 1515.8,445.5 1516.2,442.8 1516.6,441.6 1517.0,439.7 1517.4,437.8 1517.8,438.3 1518.2,437.1 1518.6,438.1 1519.0,438.2 1519.4,442.5 1519.8,446.4 1520.2,451.0 1520.6,454.1 1521.0,456.4 1521.4,458.0 1521.8,461.0 1522.2,463.6 1522.6,465.8 1523.0,466.4 1523.4,467.5 1523.8,470.3 1524.2,473.2 1524.6,475.7 1525.0,475.7 1525.4,475.7 1525.8,476.4 1526.2,477.6 1526.6,478.9 1527.0,477.8 1527.4,477.9 1527.8,477.8 1528.2,478.7 1528.6,478.9 1529.0,478.2 1529.4,479.6 1529.8,480.1 1530.2,480.4 1530.6,480.2 1531.0,480.3 1531.4,481.7 1531.8,481.1 1532.2,480.7 1532.6,479.9 1533.0,480.3 1533.4,481.3 1533.8,482.1 1534.2,482.4 1534.6,482.7 1535.0,482.6 1535.4,482.9 1535.8,482.9 1536.2,482.9 1536.6,482.3 1537.0,481.5 1537.4,480.6 1537.8,479.8 1538.2,480.8 1538.6,481.5 1539.0,482.0 1539.4,482.2 1539.8,482.7 1540.2,483.0 1540.6,482.7 1541.0,481.9 1541.4,482.0 1541.8,482.4 1542.2,483.1 1542.6,482.6 1543.0,481.9 1543.4,481.8 1543.8,481.8 1544.2,481.0 1544.6,481.2 1545.0,481.0 1545.4,480.3 1545.8,479.1 1546.2,480.4 1546.6,481.4 1547.0,481.7 1547.4,478.9 1547.8,478.1 1548.2,478.1 1548.6,478.9 1549.0,479.9 1549.4,479.4 1549.8,479.7 1550.2,479.9 1550.6,479.3 1551.0,478.8 1551.4,478.0 1551.8,478.5 1552.2,477.9 1552.6,478.7 1553.0,478.8 1553.4,479.9 1553.8,479.7 1554.2,479.6 1554.6,480.6 1555.0,480.5 1555.4,481.3 1555.8,480.3 1556.2,480.4 1556.6,480.4 1557.0,480.5 1557.4,480.5 1557.8,480.4 1558.2,481.8 1558.6,482.7 1559.0,483.4 1559.4,483.1 1559.8,483.3 1560.2,483.8 1560.6,483.8 1561.0,483.6 1561.4,483.2 1561.8,482.0 1562.2,481.7 1562.6,481.7 1563.0,483.4 1563.4,483.3 1563.8,483.6 1564.2,482.9 1564.6,483.0 1565.0,483.4 1565.4,483.1 1565.8,483.1 1566.2,482.1 1566.6,482.8 1567.0,482.6 1567.4,483.1 1567.8,482.5 1568.2,482.1 1568.6,482.0 1569.0,481.9 1569.4,482.9 1569.8,482.7 1570.2,483.0 1570.6,482.6 1571.0,482.5 1571.4,483.2 1571.8,483.0 1572.2,483.0 1572.6,481.9 1573.0,482.1 1573.4,481.1 1573.8,481.9 1574.2,481.8 1574.6,484.1 1575.0,484.9 1575.4,485.1 1575.8,484.4 1576.2,483.8 1576.6,483.3 1577.0,481.3 1577.4,481.8 1577.8,482.7 1578.2,483.0 1578.6,482.7 1579.0,483.0 1579.4,483.7 1579.8,483.8 1580.2,482.3 1580.6,482.6 1581.0,482.1 1581.4,483.6 1581.8,483.9 1582.2,484.1 1582.6,483.9 1583.0,483.3 1583.4,484.1 1583.8,483.5 1584.2,484.4 1584.6,483.5 1585.0,483.6 1585.4,483.5 1585.8,483.7 1586.2,484.6 1586.6,484.9 1587.0,484.3 1587.4,483.9 1587.8,483.3 1588.2,483.2 1588.6,482.3 1589.0,482.3 1589.4,482.5 1589.8,482.3 1590.2,482.1 1590.6,482.6 1591.0,483.4 1591.4,482.8 1591.8,482.3 1592.2,483.1 1592.6,483.3 1593.0,483.5 1593.4,484.0 1593.8,484.7 1594.2,484.6 1594.6,482.1 1595.0,482.1 1595.4,481.6 1595.8,482.7 1596.2,482.0 1596.6,481.8 1597.0,482.8 1597.4,483.2 1597.8,484.7 1598.2,484.2 1598.6,483.9 1599.0,483.4 1599.4,482.7 1599.8,483.7 1600.2,483.9 1600.6,483.9 1601.0,484.3 1601.4,484.4 1601.8,484.8 1602.2,483.4 1602.6,483.4 1603.0,482.3 1603.4,483.0 1603.8,482.2 1604.2,483.2 1604.6,482.7 1605.0,483.4 1605.4,483.5 1605.8,483.6 1606.2,483.5 1606.6,482.4 1607.0,481.3 1607.4,482.1 1607.8,483.3 1608.2,483.5 1608.6,483.9 1609.0,483.2 1609.4,484.3 1609.8,483.5 1610.2,483.9 1610.6,484.0 1611.0,483.0 1611.4,482.9 1611.8,482.4 1612.2,483.2 1612.6,483.1 1613.0,482.9 1613.4,482.4 1613.8,483.1 1614.2,483.0 1614.6,483.6 1615.0,483.3 1615.4,483.7 1615.8,483.7 1616.2,483.9 1616.6,483.6 1617.0,483.6 1617.4,484.3 1617.8,484.0 1618.2,483.7 1618.6,482.1 1619.0,483.9 1619.4,483.3 1619.8,483.7 1620.2,483.1 1620.6,483.4 1621.0,483.3 1621.4,482.4 1621.8,482.1 1622.2,482.2"/>
<polyline fill="none" stroke="#0000F0" stroke-width="9.0" stroke-linejoin="round" stroke-linecap="round" points="535.0,832.6 535.4,831.4 535.8,831.4 536.2,828.2 536.6,842.2 537.0,834.6 537.4,836.4 537.8,839.7 538.2,835.4 538.6,832.9 539.0,838.8 539.4,837.4 539.8,839.3 540.2,835.8 540.6,840.2 541.0,834.9 541.4,835.6 541.8,831.4 542.2,834.3 542.6,833.6 543.0,838.8 543.4,834.4 543.8,838.9 544.2,837.4 544.6,833.2 545.0,837.2 545.4,845.5 545.8,833.6 546.2,831.4 546.6,831.9 547.0,842.6 547.4,836.6 547.8,842.1 548.2,841.8 548.6,833.8 549.0,840.8 549.4,837.0 549.8,837.9 550.2,834.4 550.6,838.0 551.0,839.3 551.4,843.1 551.8,835.2 552.2,838.1 552.6,839.8 553.0,843.9 553.4,839.8 553.8,845.0 554.2,838.0 554.6,842.6 555.0,842.8 555.4,836.7 555.8,840.4 556.2,843.4 556.6,836.6 557.0,841.1 557.4,845.7 557.8,836.7 558.2,836.6 558.6,840.5 559.0,839.5 559.4,838.6 559.8,840.1 560.2,839.0 560.6,840.2 561.0,836.9 561.4,836.0 561.8,833.8 562.2,843.4 562.6,843.1 563.0,844.6 563.4,843.1 563.8,840.1 564.2,843.2 564.6,841.6 565.0,837.6 565.4,839.6 565.8,845.7 566.2,840.4 566.6,843.4 567.0,841.6 567.4,840.4 567.8,842.8 568.2,837.6 568.6,842.1 569.0,841.4 569.4,836.7 569.8,843.3 570.2,843.7 570.6,841.1 571.0,845.3 571.4,842.3 571.8,843.0 572.2,840.9 572.6,842.2 573.0,844.3 573.4,839.9 573.8,842.6 574.2,842.1 574.6,840.2 575.0,839.3 575.4,841.8 575.8,844.0 576.2,846.4 576.6,843.8 577.0,849.9 577.4,845.3 577.8,843.2 578.2,849.7 578.6,841.1 579.0,846.7 579.4,844.5 579.8,844.6 580.2,839.2 580.6,846.0 581.0,844.3 581.4,841.1 581.8,847.7 582.2,843.9 582.6,843.2 583.0,841.5 583.4,843.0 583.8,843.6 584.2,847.0 584.6,846.1 585.0,841.7 585.4,843.8 585.8,843.8 586.2,840.3 586.6,843.8 587.0,843.7 587.4,846.1 587.8,847.5 588.2,844.3 588.6,845.8 589.0,844.1 589.4,850.5 589.8,846.5 590.2,848.0 590.6,842.6 591.0,845.1 591.4,846.6 591.8,846.2 592.2,847.8 592.6,842.0 593.0,847.7 593.4,843.9 593.8,850.6 594.2,847.2 594.6,849.0 595.0,842.7 595.4,849.8 595.8,843.7 596.2,845.6 596.6,846.8 597.0,845.1 597.4,848.2 597.8,849.6 598.2,848.5 598.6,847.0 599.0,844.0 599.4,844.0 599.8,847.1 600.2,841.6 600.6,848.5 601.0,847.4 601.4,847.8 601.8,849.3 602.2,850.2 602.6,849.7 603.0,845.8 603.4,848.7 603.8,849.0 604.2,845.9 604.6,850.0 605.0,849.9 605.4,844.4 605.8,848.4 606.2,845.4 606.6,850.8 607.0,850.1 607.4,845.6 607.8,845.8 608.2,849.7 608.6,848.2 609.0,852.6 609.4,851.9 609.8,848.2 610.2,850.9 610.6,843.9 611.0,849.7 611.4,851.9 611.8,849.0 612.2,847.2 612.6,850.1 613.0,854.4 613.4,849.8 613.8,847.7 614.2,853.4 614.6,845.5 615.0,851.2 615.4,849.2 615.8,852.4 616.2,847.9 616.6,853.6 617.0,851.0 617.4,846.5 617.8,846.3 618.2,850.1 618.6,854.2 619.0,851.0 619.4,850.9 619.8,850.3 620.2,852.9 620.6,851.6 621.0,851.6 621.4,848.6 621.8,853.7 622.2,854.3 622.6,849.1 623.0,856.5 623.4,853.2 623.8,850.4 624.2,847.1 624.6,853.1 625.0,853.5 625.4,850.2 625.8,848.0 626.2,854.5 626.6,850.2 627.0,850.6 627.4,858.3 627.8,856.6 628.2,854.4 628.6,851.1 629.0,853.7 629.4,846.7 629.8,852.5 630.2,850.4 630.6,849.8 631.0,848.7 631.4,853.6 631.8,852.7 632.2,852.8 632.6,854.4 633.0,850.6 633.4,849.9 633.8,848.5 634.2,851.9 634.6,854.5 635.0,852.4 635.4,854.2 635.8,850.1 636.2,851.8 636.6,851.2 637.0,850.2 637.4,857.4 637.8,855.1 638.2,851.4 638.6,851.5 639.0,853.1 639.4,850.0 639.8,854.4 640.2,850.4 640.6,852.6 641.0,851.1 641.4,852.4 641.8,850.5 642.2,850.0 642.6,851.5 643.0,852.2 643.4,853.1 643.8,854.0 644.2,857.4 644.6,855.8 645.0,853.4 645.4,855.7 645.8,852.5 646.2,857.4 646.6,855.4 647.0,851.1 647.4,856.0 647.8,856.2 648.2,848.2 648.6,852.7 649.0,853.4 649.4,850.1 649.8,852.1 650.2,852.4 650.6,855.8 651.0,855.4 651.4,860.8 651.8,853.9 652.2,857.5 652.6,855.0 653.0,855.5 653.4,852.3 653.8,850.6 654.2,853.3 654.6,856.8 655.0,858.8 655.4,856.6 655.8,856.4 656.2,853.4 656.6,858.9 657.0,858.5 657.4,854.2 657.8,855.4 658.2,853.2 658.6,858.9 659.0,856.5 659.4,855.4 659.8,856.6 660.2,856.8 660.6,854.8 661.0,853.0 661.4,852.9 661.8,851.9 662.2,857.0 662.6,861.1 663.0,852.2 663.4,856.4 663.8,857.1 664.2,853.9 664.6,856.7 665.0,853.8 665.4,859.1 665.8,855.0 666.2,856.7 666.6,858.1 667.0,855.5 667.4,852.5 667.8,855.4 668.2,858.4 668.6,856.5 669.0,857.3 669.4,854.3 669.8,857.2 670.2,858.6 670.6,857.0 671.0,861.4 671.4,856.6 671.8,854.7 672.2,853.4 672.6,859.8 673.0,857.1 673.4,859.6 673.8,858.4 674.2,861.1 674.6,860.3 675.0,856.6 675.4,858.1 675.8,860.0 676.2,854.7 676.6,861.0 677.0,860.5 677.4,860.0 677.8,857.3 678.2,858.5 678.6,855.3 679.0,858.0 679.4,856.6 679.8,858.2 680.2,856.9 680.6,858.7 681.0,860.8 681.4,855.1 681.8,860.3 682.2,853.6 682.6,853.2 683.0,858.0 683.4,858.3 683.8,859.3 684.2,854.5 684.6,858.2 685.0,858.7 685.4,861.3 685.8,858.2 686.2,859.7 686.6,856.3 687.0,858.1 687.4,857.6 687.8,860.2 688.2,856.4 688.6,856.8 689.0,860.0 689.4,862.9 689.8,859.7 690.2,859.5 690.6,858.1 691.0,861.4 691.4,860.2 691.8,862.9 692.2,859.7 692.6,856.8 693.0,857.7 693.4,856.8 693.8,856.2 694.2,862.0 694.6,861.0 695.0,856.3 695.4,863.3 695.8,859.8 696.2,857.1 696.6,860.2 697.0,859.2 697.4,857.6 697.8,854.9 698.2,859.5 698.6,860.1 699.0,853.6 699.4,860.8 699.8,861.0 700.2,858.5 700.6,859.9 701.0,859.0 701.4,857.8 701.8,858.9 702.2,862.8 702.6,856.4 703.0,860.3 703.4,860.2 703.8,858.2 704.2,858.9 704.6,856.7 705.0,858.0 705.4,860.0 705.8,860.8 706.2,858.0 706.6,867.1 707.0,858.8 707.4,860.4 707.8,859.6 708.2,859.3 708.6,863.2 709.0,859.1 709.4,863.3 709.8,862.9 710.2,857.9 710.6,862.7 711.0,858.9 711.4,866.7 711.8,859.5 712.2,858.3 712.6,856.1 713.0,857.5 713.4,859.2 713.8,858.3 714.2,857.8 714.6,859.0 715.0,860.2 715.4,864.0 715.8,856.8 716.2,859.5 716.6,858.6 717.0,857.3 717.4,857.9 717.8,858.8 718.2,862.5 718.6,860.5 719.0,859.7 719.4,862.4 719.8,861.6 720.2,860.5 720.6,861.9 721.0,859.1 721.4,862.5 721.8,862.2 722.2,860.1 722.6,858.3 723.0,864.6 723.4,861.4 723.8,868.2 724.2,859.7 724.6,863.2 725.0,860.2 725.4,861.8 725.8,863.2 726.2,859.4 726.6,861.1 727.0,861.7 727.4,861.6 727.8,862.7 728.2,863.7 728.6,863.3 729.0,862.0 729.4,860.6 729.8,858.8 730.2,859.7 730.6,860.2 731.0,863.0 731.4,860.6 731.8,858.6 732.2,862.9 732.6,859.7 733.0,859.8 733.4,861.0 733.8,862.7 734.2,856.0 734.6,859.0 735.0,862.0 735.4,860.8 735.8,859.6 736.2,860.4 736.6,864.8 737.0,860.6 737.4,863.3 737.8,863.5 738.2,860.7 738.6,862.7 739.0,860.7 739.4,860.3 739.8,859.2 740.2,863.8 740.6,860.9 741.0,860.5 741.4,859.2 741.8,866.0 742.2,863.6 742.6,861.6 743.0,860.3 743.4,858.4 743.8,862.6 744.2,862.6 744.6,858.7 745.0,864.6 745.4,863.7 745.8,859.8 746.2,860.7 746.6,861.0 747.0,862.4 747.4,861.7 747.8,858.3 748.2,865.4 748.6,862.8 749.0,865.0 749.4,865.0 749.8,861.6 750.2,862.9 750.6,863.8 751.0,863.9 751.4,861.8 751.8,860.7 752.2,862.2 752.6,860.3 753.0,860.9 753.4,857.5 753.8,862.4 754.2,859.9 754.6,860.9 755.0,862.1 755.4,863.0 755.8,866.6 756.2,862.7 756.6,859.0 757.0,862.6 757.4,860.9 757.8,863.2 758.2,860.7 758.6,860.7 759.0,861.1 759.4,860.9 759.8,858.1 760.2,860.8 760.6,862.3 761.0,865.1 761.4,861.7 761.8,861.5 762.2,863.7 762.6,863.6 763.0,866.0 763.4,863.7 763.8,862.3 764.2,865.4 764.6,865.9 765.0,861.3 765.4,862.7 765.8,858.5 766.2,861.5 766.6,860.3 767.0,861.9 767.4,861.3 767.8,862.0 768.2,862.1 768.6,863.5 769.0,862.9 769.4,861.1 769.8,859.4 770.2,865.2 770.6,865.6 771.0,861.3 771.4,863.6 771.8,858.8 772.2,858.7 772.6,861.7 773.0,865.7 773.4,859.9 773.8,860.4 774.2,866.0 774.6,857.9 775.0,863.8 775.4,863.4 775.8,861.8 776.2,862.7 776.6,868.3 777.0,859.6 777.4,861.5 777.8,861.6 778.2,860.6 778.6,859.1 779.0,865.8 779.4,862.6 779.8,858.1 780.2,860.5 780.6,863.0 781.0,863.0 781.4,858.7 781.8,861.8 782.2,862.6 782.6,862.9 783.0,862.9 783.4,857.8 783.8,866.2 784.2,862.4 784.6,866.0 785.0,868.5 785.4,861.5 785.8,859.0 786.2,863.8 786.6,861.3 787.0,860.7 787.4,859.3 787.8,865.6 788.2,860.6 788.6,858.4 789.0,860.6 789.4,858.9 789.8,861.9 790.2,860.5 790.6,858.9 791.0,862.7 791.4,859.7 791.8,862.8 792.2,863.9 792.6,860.1 793.0,859.3 793.4,861.2 793.8,862.7 794.2,860.5 794.6,860.8 795.0,860.3 795.4,861.0 795.8,861.6 796.2,858.4 796.6,858.8 797.0,859.9 797.4,858.2 797.8,859.9 798.2,860.7 798.6,859.3 799.0,857.9 799.4,857.4 799.8,863.1 800.2,860.9 800.6,856.2 801.0,856.8 801.4,862.9 801.8,861.9 802.2,858.6 802.6,860.8 803.0,854.6 803.4,857.9 803.8,859.5 804.2,853.4 804.6,855.7 805.0,859.2 805.4,859.8 805.8,855.7 806.2,857.6 806.6,860.4 807.0,855.7 807.4,853.4 807.8,856.1 808.2,855.2 808.6,858.9 809.0,856.1 809.4,853.7 809.8,860.9 810.2,854.1 810.6,856.1 811.0,856.4 811.4,856.4 811.8,854.8 812.2,855.6 812.6,853.8 813.0,850.5 813.4,853.0 813.8,852.9 814.2,852.7 814.6,853.1 815.0,851.1 815.4,855.4 815.8,855.6 816.2,846.7 816.6,851.5 817.0,849.6 817.4,844.9 817.8,851.5 818.2,848.8 818.6,849.1 819.0,848.1 819.4,851.7 819.8,851.7 820.2,849.1 820.6,849.7 821.0,847.4 821.4,847.6 821.8,845.1 822.2,846.5 822.6,844.3 823.0,846.3 823.4,846.9 823.8,845.2 824.2,846.6 824.6,849.6 825.0,838.0 825.4,842.2 825.8,840.3 826.2,839.9 826.6,837.2 827.0,839.8 827.4,838.3 827.8,836.7 828.2,836.9 828.6,835.3 829.0,830.5 829.4,837.5 829.8,833.4 830.2,831.1 830.6,833.0 831.0,829.8 831.4,825.3 831.8,831.3 832.2,824.4 832.6,826.6 833.0,826.3 833.4,827.9 833.8,826.3 834.2,822.7 834.6,819.3 835.0,818.7 835.4,820.8 835.8,820.9 836.2,816.6 836.6,812.3 837.0,814.6 837.4,809.8 837.8,808.0 838.2,806.6 838.6,806.8 839.0,804.3 839.4,804.1 839.8,802.8 840.2,799.1 840.6,790.5 841.0,789.9 841.4,792.0 841.8,789.3 842.2,792.2 842.6,784.8 843.0,782.2 843.4,782.3 843.8,780.1 844.2,774.6 844.6,773.6 845.0,767.3 845.4,765.0 845.8,767.3 846.2,758.4 846.6,760.9 847.0,757.5 847.4,754.7 847.8,752.0 848.2,748.2 848.6,738.8 849.0,738.3 849.4,736.0 849.8,736.3 850.2,728.3 850.6,725.9 851.0,723.3 851.4,723.8 851.8,714.0 852.2,710.7 852.6,711.8 853.0,701.9 853.4,704.0 853.8,698.6 854.2,692.4 854.6,691.4 855.0,686.4 855.4,685.5 855.8,682.3 856.2,681.2 856.6,674.1 857.0,670.7 857.4,665.5 857.8,663.1 858.2,662.0 858.6,651.5 859.0,653.9 859.4,647.6 859.8,645.5 860.2,642.6 860.6,640.4 861.0,635.6 861.4,630.8 861.8,629.1 862.2,625.2 862.6,621.5 863.0,619.2 863.4,617.6 863.8,612.8 864.2,609.8 864.6,603.5 865.0,603.2 865.4,596.3 865.8,599.3 866.2,592.7 866.6,595.2 867.0,596.5 867.4,586.3 867.8,588.0 868.2,583.8 868.6,579.8 869.0,577.6 869.4,579.6 869.8,580.7 870.2,577.9 870.6,573.6 871.0,575.0 871.4,577.7 871.8,582.5 872.2,581.5 872.6,583.4 873.0,587.4 873.4,586.4 873.8,589.1 874.2,591.4 874.6,590.4 875.0,598.3 875.4,601.0 875.8,605.1 876.2,603.1 876.6,606.9 877.0,614.0 877.4,615.6 877.8,621.1 878.2,619.1 878.6,624.8 879.0,626.0 879.4,631.5 879.8,633.0 880.2,638.7 880.6,643.3 881.0,645.8 881.4,643.6 881.8,653.4 882.2,655.8 882.6,655.9 883.0,659.8 883.4,665.5 883.8,670.4 884.2,671.6 884.6,672.6 885.0,680.6 885.4,683.9 885.8,692.8 886.2,687.8 886.6,700.1 887.0,701.9 887.4,702.1 887.8,708.8 888.2,708.7 888.6,714.2 889.0,713.7 889.4,719.0 889.8,719.8 890.2,721.9 890.6,728.1 891.0,730.5 891.4,736.5 891.8,741.3 892.2,741.1 892.6,744.7 893.0,748.0 893.4,746.7 893.8,754.1 894.2,756.4 894.6,759.0 895.0,759.4 895.4,760.0 895.8,766.7 896.2,770.6 896.6,775.5 897.0,777.5 897.4,780.6 897.8,780.5 898.2,784.6 898.6,783.8 899.0,787.9 899.4,790.7 899.8,796.9 900.2,793.3 900.6,791.8 901.0,799.8 901.4,796.7 901.8,800.2 902.2,801.5 902.6,801.8 903.0,808.6 903.4,808.5 903.8,807.3 904.2,810.4 904.6,810.8 905.0,814.6 905.4,813.7 905.8,814.2 906.2,815.8 906.6,817.5 907.0,820.4 907.4,818.8 907.8,821.8 908.2,824.2 908.6,829.6 909.0,827.2 909.4,819.4 909.8,826.0 910.2,827.2 910.6,829.7 911.0,833.5 911.4,832.4 911.8,826.2 912.2,833.0 912.6,833.2 913.0,834.6 913.4,837.5 913.8,832.5 914.2,838.2 914.6,832.5 915.0,837.0 915.4,838.3 915.8,843.2 916.2,836.9 916.6,835.1 917.0,841.1 917.4,838.5 917.8,844.0 918.2,839.2 918.6,839.3 919.0,844.5 919.4,842.3 919.8,844.7 920.2,839.5 920.6,846.9 921.0,842.1 921.4,845.7 921.8,841.8 922.2,840.8 922.6,844.1 923.0,845.3 923.4,848.8 923.8,846.3 924.2,847.4 924.6,847.5 925.0,853.3 925.4,844.5 925.8,849.5 926.2,846.5 926.6,847.6 927.0,846.0 927.4,850.1 927.8,844.7 928.2,844.7 928.6,847.4 929.0,845.4 929.4,849.8 929.8,850.5 930.2,846.8 930.6,850.5 931.0,847.3 931.4,848.8 931.8,849.1 932.2,853.5 932.6,849.3 933.0,847.3 933.4,847.4 933.8,852.4 934.2,845.9 934.6,848.8 935.0,849.1 935.4,844.4 935.8,849.1 936.2,852.6 936.6,850.9 937.0,848.4 937.4,852.1 937.8,851.8 938.2,855.3 938.6,849.0 939.0,849.9 939.4,851.0 939.8,850.6 940.2,851.2 940.6,850.8 941.0,849.5 941.4,847.5 941.8,850.0 942.2,848.1 942.6,849.0 943.0,850.2 943.4,852.6 943.8,853.5 944.2,849.2 944.6,852.3 945.0,853.5 945.4,851.6 945.8,847.9 946.2,846.8 946.6,853.6 947.0,853.9 947.4,852.5 947.8,849.4 948.2,855.2 948.6,854.7 949.0,851.8 949.4,851.4 949.8,847.4 950.2,853.7 950.6,848.3 951.0,853.7 951.4,853.8 951.8,852.4 952.2,855.9 952.6,851.6 953.0,853.7 953.4,854.2 953.8,853.0 954.2,851.5 954.6,855.3 955.0,853.5 955.4,852.1 955.8,852.2 956.2,852.9 956.6,857.9 957.0,852.9 957.4,852.1 957.8,850.2 958.2,849.8 958.6,848.2 959.0,853.1 959.4,852.6 959.8,850.2 960.2,849.1 960.6,851.7 961.0,851.2 961.4,849.3 961.8,853.0 962.2,852.5 962.6,852.0 963.0,853.8 963.4,850.4 963.8,854.9 964.2,849.4 964.6,852.7 965.0,852.9 965.4,850.7 965.8,851.9 966.2,848.0 966.6,847.3 967.0,850.1 967.4,848.7 967.8,851.5 968.2,850.0 968.6,851.1 969.0,850.2 969.4,849.7 969.8,849.1 970.2,847.8 970.6,847.3 971.0,852.7 971.4,843.7 971.8,847.0 972.2,849.4 972.6,847.7 973.0,849.7 973.4,847.3 973.8,842.8 974.2,844.6 974.6,841.7 975.0,846.8 975.4,847.5 975.8,842.8 976.2,844.6 976.6,842.0 977.0,839.3 977.4,841.1 977.8,838.1 978.2,840.1 978.6,841.5 979.0,842.3 979.4,843.2 979.8,839.1 980.2,840.0 980.6,840.1 981.0,840.1 981.4,832.0 981.8,836.4 982.2,839.8 982.6,835.1 983.0,838.1 983.4,839.2 983.8,832.8 984.2,836.6 984.6,837.5 985.0,836.9 985.4,833.3 985.8,837.7 986.2,835.6 986.6,838.9 987.0,838.1 987.4,836.0 987.8,837.8 988.2,836.1 988.6,836.3 989.0,834.5 989.4,837.9 989.8,840.7 990.2,839.4 990.6,839.5 991.0,838.5 991.4,839.1 991.8,842.5 992.2,837.8 992.6,846.4 993.0,842.0 993.4,847.6 993.8,845.8 994.2,842.7 994.6,845.8 995.0,845.2 995.4,846.2 995.8,847.4 996.2,844.8 996.6,845.1 997.0,846.1 997.4,844.4 997.8,847.4 998.2,849.0 998.6,849.5 999.0,849.8 999.4,848.9 999.8,852.1 1000.2,846.0 1000.6,850.2 1001.0,850.7 1001.4,853.9 1001.8,853.8 1002.2,854.5 1002.6,853.0 1003.0,855.5 1003.4,851.4 1003.8,854.2 1004.2,849.5 1004.6,858.6 1005.0,858.6 1005.4,853.9 1005.8,853.6 1006.2,851.0 1006.6,852.5 1007.0,856.6 1007.4,856.2 1007.8,853.4 1008.2,855.8 1008.6,855.7 1009.0,858.5 1009.4,859.2 1009.8,857.3 1010.2,858.2 1010.6,858.1 1011.0,853.5 1011.4,858.9 1011.8,858.5 1012.2,860.5 1012.6,854.7 1013.0,860.8 1013.4,857.7 1013.8,859.9 1014.2,862.2 1014.6,856.1 1015.0,856.6 1015.4,862.0 1015.8,857.2 1016.2,857.7 1016.6,861.4 1017.0,859.6 1017.4,862.0 1017.8,861.0 1018.2,860.3 1018.6,862.7 1019.0,865.5 1019.4,860.4 1019.8,864.1 1020.2,863.3 1020.6,861.1 1021.0,862.0 1021.4,858.8 1021.8,859.7 1022.2,861.8 1022.6,861.1 1023.0,864.3 1023.4,858.4 1023.8,860.8 1024.2,860.1 1024.6,861.3 1025.0,864.4 1025.4,859.0 1025.8,863.8 1026.2,860.5 1026.6,861.2 1027.0,864.3 1027.4,861.4 1027.8,863.7 1028.2,862.5 1028.6,861.9 1029.0,861.5 1029.4,858.4 1029.8,860.7 1030.2,862.9 1030.6,863.1 1031.0,859.2 1031.4,865.0 1031.8,864.1 1032.2,859.8 1032.6,860.5 1033.0,864.1 1033.4,858.9 1033.8,861.3 1034.2,863.0 1034.6,862.9 1035.0,863.1 1035.4,864.2 1035.8,861.5 1036.2,862.2 1036.6,868.1 1037.0,860.2 1037.4,862.5 1037.8,863.8 1038.2,862.1 1038.6,866.5 1039.0,863.9 1039.4,865.5 1039.8,857.8 1040.2,866.6 1040.6,866.5 1041.0,862.2 1041.4,867.0 1041.8,864.6 1042.2,866.2 1042.6,868.2 1043.0,864.3 1043.4,861.8 1043.8,864.2 1044.2,861.3 1044.6,862.4 1045.0,862.6 1045.4,862.7 1045.8,867.1 1046.2,866.3 1046.6,862.4 1047.0,867.1 1047.4,860.7 1047.8,863.0 1048.2,864.3 1048.6,867.4 1049.0,866.3 1049.4,865.7 1049.8,867.7 1050.2,866.4 1050.6,867.9 1051.0,863.0 1051.4,860.9 1051.8,863.9 1052.2,866.8 1052.6,865.5 1053.0,867.0 1053.4,866.6 1053.8,866.2 1054.2,866.9 1054.6,863.4 1055.0,867.6 1055.4,862.7 1055.8,864.8 1056.2,861.8 1056.6,866.3 1057.0,861.5 1057.4,868.4 1057.8,862.0 1058.2,865.7 1058.6,864.8 1059.0,863.0 1059.4,867.9 1059.8,864.0 1060.2,868.3 1060.6,862.5 1061.0,862.9 1061.4,860.1 1061.8,866.0 1062.2,866.7 1062.6,865.1 1063.0,864.1 1063.4,862.3 1063.8,869.8 1064.2,866.1 1064.6,860.0 1065.0,863.5 1065.4,858.2 1065.8,867.7 1066.2,868.6 1066.6,867.3 1067.0,863.8 1067.4,862.5 1067.8,860.5 1068.2,864.9 1068.6,861.9 1069.0,862.7 1069.4,862.0 1069.8,862.7 1070.2,865.4 1070.6,867.2 1071.0,863.5 1071.4,863.1 1071.8,860.5 1072.2,860.1 1072.6,860.4 1073.0,864.8 1073.4,863.2 1073.8,864.8 1074.2,863.5 1074.6,861.5 1075.0,859.4 1075.4,861.4 1075.8,858.8 1076.2,866.6 1076.6,862.5 1077.0,861.0 1077.4,866.3 1077.8,860.7 1078.2,862.8 1078.6,861.0 1079.0,862.1 1079.4,860.3 1079.8,862.2 1080.2,864.2 1080.6,857.9 1081.0,855.5 1081.4,863.7 1081.8,860.8 1082.2,862.3 1082.6,859.5 1083.0,863.6 1083.4,864.1 1083.8,857.0 1084.2,861.2 1084.6,858.0 1085.0,855.6 1085.4,858.4 1085.8,860.3 1086.2,855.6 1086.6,855.7 1087.0,861.4 1087.4,858.4 1087.8,859.1 1088.2,855.3 1088.6,856.3 1089.0,857.9 1089.4,857.8 1089.8,857.6 1090.2,860.7 1090.6,857.2 1091.0,853.1 1091.4,854.4 1091.8,856.1 1092.2,858.9 1092.6,854.2 1093.0,854.6 1093.4,855.2 1093.8,853.4 1094.2,852.9 1094.6,854.0 1095.0,856.6 1095.4,855.2 1095.8,853.2 1096.2,854.5 1096.6,850.3 1097.0,855.4 1097.4,854.5 1097.8,853.2 1098.2,848.4 1098.6,856.6 1099.0,844.8 1099.4,849.0 1099.8,848.9 1100.2,852.3 1100.6,846.9 1101.0,850.6 1101.4,849.4 1101.8,848.7 1102.2,851.0 1102.6,852.0 1103.0,849.3 1103.4,847.3 1103.8,842.3 1104.2,850.6 1104.6,846.1 1105.0,842.1 1105.4,846.4 1105.8,849.0 1106.2,844.9 1106.6,842.1 1107.0,849.6 1107.4,845.4 1107.8,844.3 1108.2,845.4 1108.6,837.5 1109.0,841.9 1109.4,841.2 1109.8,846.4 1110.2,839.3 1110.6,838.8 1111.0,836.4 1111.4,837.1 1111.8,838.0 1112.2,838.6 1112.6,836.9 1113.0,841.5 1113.4,837.4 1113.8,837.2 1114.2,838.3 1114.6,835.9 1115.0,832.6 1115.4,829.6 1115.8,833.4 1116.2,830.0 1116.6,834.3 1117.0,828.8 1117.4,824.7 1117.8,829.3 1118.2,831.0 1118.6,827.3 1119.0,827.5 1119.4,826.7 1119.8,829.6 1120.2,825.5 1120.6,823.9 1121.0,821.8 1121.4,818.6 1121.8,825.0 1122.2,823.6 1122.6,817.8 1123.0,820.7 1123.4,819.2 1123.8,816.7 1124.2,816.0 1124.6,817.7 1125.0,812.3 1125.4,813.0 1125.8,813.2 1126.2,812.5 1126.6,811.2 1127.0,811.3 1127.4,811.2 1127.8,807.0 1128.2,808.4 1128.6,806.2 1129.0,810.1 1129.4,802.4 1129.8,804.3 1130.2,805.7 1130.6,802.5 1131.0,801.6 1131.4,800.4 1131.8,801.6 1132.2,797.3 1132.6,799.1 1133.0,798.3 1133.4,794.5 1133.8,797.8 1134.2,795.4 1134.6,796.6 1135.0,797.3 1135.4,795.5 1135.8,791.3 1136.2,794.3 1136.6,789.3 1137.0,790.8 1137.4,796.0 1137.8,791.8 1138.2,795.0 1138.6,790.6 1139.0,790.8 1139.4,787.9 1139.8,792.5 1140.2,789.7 1140.6,791.5 1141.0,790.9 1141.4,791.1 1141.8,790.6 1142.2,789.8 1142.6,790.0 1143.0,788.5 1143.4,785.3 1143.8,791.6 1144.2,795.6 1144.6,793.5 1145.0,796.8 1145.4,792.8 1145.8,789.8 1146.2,790.2 1146.6,794.7 1147.0,794.3 1147.4,793.6 1147.8,796.3 1148.2,793.1 1148.6,797.0 1149.0,795.8 1149.4,797.5 1149.8,800.5 1150.2,798.2 1150.6,802.4 1151.0,803.1 1151.4,799.0 1151.8,806.9 1152.2,799.4 1152.6,802.9 1153.0,805.7 1153.4,799.5 1153.8,808.0 1154.2,809.1 1154.6,807.1 1155.0,808.8 1155.4,809.5 1155.8,809.4 1156.2,813.3 1156.6,810.8 1157.0,812.4 1157.4,814.2 1157.8,816.2 1158.2,817.6 1158.6,812.5 1159.0,812.0 1159.4,817.3 1159.8,818.3 1160.2,816.7 1160.6,820.8 1161.0,822.4 1161.4,822.6 1161.8,826.3 1162.2,820.9 1162.6,824.1 1163.0,829.3 1163.4,827.2 1163.8,823.7 1164.2,827.6 1164.6,830.6 1165.0,833.4 1165.4,830.8 1165.8,832.7 1166.2,828.1 1166.6,830.8 1167.0,834.8 1167.4,830.4 1167.8,833.2 1168.2,829.6 1168.6,838.1 1169.0,834.9 1169.4,837.2 1169.8,832.9 1170.2,834.0 1170.6,841.8 1171.0,837.4 1171.4,837.5 1171.8,840.5 1172.2,841.1 1172.6,835.8 1173.0,838.6 1173.4,841.5 1173.8,841.9 1174.2,843.2 1174.6,841.9 1175.0,842.7 1175.4,844.3 1175.8,842.7 1176.2,842.8 1176.6,843.9 1177.0,845.6 1177.4,845.7 1177.8,845.3 1178.2,846.2 1178.6,847.1 1179.0,848.4 1179.4,848.8 1179.8,845.4 1180.2,851.0 1180.6,845.4 1181.0,850.7 1181.4,848.2 1181.8,851.5 1182.2,853.0 1182.6,846.4 1183.0,852.5 1183.4,852.1 1183.8,850.7 1184.2,853.0 1184.6,851.2 1185.0,852.9 1185.4,850.5 1185.8,855.0 1186.2,854.9 1186.6,855.5 1187.0,852.5 1187.4,858.6 1187.8,859.1 1188.2,854.6 1188.6,854.1 1189.0,854.3 1189.4,857.1 1189.8,858.1 1190.2,854.2 1190.6,851.5 1191.0,857.5 1191.4,856.5 1191.8,857.2 1192.2,858.2 1192.6,854.7 1193.0,857.6 1193.4,856.9 1193.8,858.7 1194.2,860.8 1194.6,858.2 1195.0,856.4 1195.4,861.4 1195.8,860.4 1196.2,858.4 1196.6,854.9 1197.0,857.2 1197.4,859.7 1197.8,860.8 1198.2,858.4 1198.6,860.8 1199.0,858.5 1199.4,859.1 1199.8,861.5 1200.2,859.8 1200.6,860.9 1201.0,862.7 1201.4,863.4 1201.8,859.6 1202.2,860.5 1202.6,858.1 1203.0,858.3 1203.4,862.1 1203.8,860.3 1204.2,857.4 1204.6,863.0 1205.0,859.9 1205.4,861.3 1205.8,863.1 1206.2,863.1 1206.6,862.2 1207.0,857.8 1207.4,863.8 1207.8,861.2 1208.2,859.4 1208.6,857.7 1209.0,866.0 1209.4,863.3 1209.8,863.4 1210.2,864.6 1210.6,863.1 1211.0,860.0 1211.4,865.0 1211.8,865.8 1212.2,864.8 1212.6,867.3 1213.0,868.2 1213.4,862.0 1213.8,862.9 1214.2,866.1 1214.6,864.5 1215.0,864.7 1215.4,866.4 1215.8,866.0 1216.2,863.4 1216.6,864.7 1217.0,862.9 1217.4,864.1 1217.8,862.1 1218.2,860.2 1218.6,863.6 1219.0,863.5 1219.4,867.0 1219.8,868.6 1220.2,865.1 1220.6,866.2 1221.0,863.7 1221.4,863.1 1221.8,864.6 1222.2,864.7 1222.6,866.1 1223.0,865.7 1223.4,869.3 1223.8,865.0 1224.2,861.8 1224.6,865.9 1225.0,864.2 1225.4,866.2 1225.8,868.4 1226.2,864.3 1226.6,865.7 1227.0,867.1 1227.4,863.8 1227.8,866.5 1228.2,867.3 1228.6,867.9 1229.0,868.6 1229.4,867.4 1229.8,867.1 1230.2,863.0 1230.6,860.1 1231.0,864.1 1231.4,869.6 1231.8,866.6 1232.2,861.2 1232.6,865.5 1233.0,867.3 1233.4,862.3 1233.8,867.9 1234.2,863.9 1234.6,869.0 1235.0,866.7 1235.4,873.8 1235.8,863.6 1236.2,867.4 1236.6,863.4 1237.0,869.4 1237.4,867.1 1237.8,868.9 1238.2,867.1 1238.6,864.2 1239.0,865.4 1239.4,864.1 1239.8,864.5 1240.2,867.3 1240.6,869.4 1241.0,869.0 1241.4,868.2 1241.8,865.7 1242.2,868.2 1242.6,865.1 1243.0,867.6 1243.4,869.0 1243.8,866.7 1244.2,866.1 1244.6,866.2 1245.0,868.7 1245.4,866.6 1245.8,864.1 1246.2,866.4 1246.6,865.0 1247.0,870.9 1247.4,867.5 1247.8,864.1 1248.2,868.1 1248.6,869.2 1249.0,868.4 1249.4,866.8 1249.8,868.0 1250.2,868.3 1250.6,870.0 1251.0,868.5 1251.4,872.9 1251.8,867.3 1252.2,871.3 1252.6,867.9 1253.0,863.9 1253.4,865.2 1253.8,863.7 1254.2,864.0 1254.6,870.7 1255.0,866.4 1255.4,869.3 1255.8,865.9 1256.2,868.0 1256.6,865.6 1257.0,870.0 1257.4,867.5 1257.8,867.0 1258.2,867.7 1258.6,873.1 1259.0,869.1 1259.4,870.0 1259.8,865.3 1260.2,866.7 1260.6,868.8 1261.0,863.9 1261.4,871.3 1261.8,868.8 1262.2,868.2 1262.6,867.8 1263.0,867.7 1263.4,867.1 1263.8,871.4 1264.2,869.8 1264.6,871.1 1265.0,867.6 1265.4,866.3 1265.8,871.4 1266.2,865.5 1266.6,866.9 1267.0,869.9 1267.4,870.8 1267.8,865.3 1268.2,867.7 1268.6,868.4 1269.0,868.0 1269.4,866.3 1269.8,869.8 1270.2,867.1 1270.6,867.7 1271.0,863.1 1271.4,868.0 1271.8,863.8 1272.2,869.9 1272.6,869.4 1273.0,867.1 1273.4,868.6 1273.8,868.5 1274.2,867.9 1274.6,869.1 1275.0,867.9 1275.4,867.1 1275.8,866.4 1276.2,872.0 1276.6,868.6 1277.0,868.1 1277.4,869.8 1277.8,867.2 1278.2,867.2 1278.6,869.6 1279.0,870.4 1279.4,869.6 1279.8,864.6 1280.2,868.1 1280.6,867.9 1281.0,869.0 1281.4,865.9 1281.8,865.5 1282.2,867.6 1282.6,865.8 1283.0,865.4 1283.4,867.6 1283.8,869.9 1284.2,868.1 1284.6,870.3 1285.0,865.4 1285.4,869.3 1285.8,867.6 1286.2,865.6 1286.6,866.6 1287.0,865.5 1287.4,867.0 1287.8,865.7 1288.2,870.2 1288.6,866.5 1289.0,864.0 1289.4,866.8 1289.8,868.1 1290.2,866.4 1290.6,869.1 1291.0,865.0 1291.4,865.1 1291.8,870.6 1292.2,866.9 1292.6,868.1 1293.0,867.9 1293.4,868.0 1293.8,866.8 1294.2,866.2 1294.6,869.0 1295.0,865.3 1295.4,866.7 1295.8,867.9 1296.2,865.4 1296.6,862.7 1297.0,867.2 1297.4,868.5 1297.8,866.5 1298.2,862.1 1298.6,867.3 1299.0,870.2 1299.4,862.1 1299.8,859.4 1300.2,864.9 1300.6,865.5 1301.0,867.0 1301.4,867.0 1301.8,865.3 1302.2,866.2 1302.6,865.6 1303.0,865.1 1303.4,864.5 1303.8,864.2 1304.2,866.0 1304.6,865.2 1305.0,863.3 1305.4,866.6 1305.8,862.3 1306.2,863.3 1306.6,864.0 1307.0,859.3 1307.4,862.6 1307.8,865.2 1308.2,865.0 1308.6,860.3 1309.0,861.0 1309.4,860.3 1309.8,862.0 1310.2,862.3 1310.6,858.7 1311.0,862.8 1311.4,862.1 1311.8,861.6 1312.2,860.0 1312.6,861.0 1313.0,857.2 1313.4,861.5 1313.8,861.3 1314.2,860.4 1314.6,857.7 1315.0,863.0 1315.4,862.5 1315.8,855.5 1316.2,860.5 1316.6,859.6 1317.0,853.3 1317.4,860.0 1317.8,860.0 1318.2,859.9 1318.6,858.4 1319.0,856.3 1319.4,856.4 1319.8,858.4 1320.2,859.6 1320.6,855.6 1321.0,855.8 1321.4,857.7 1321.8,851.0 1322.2,856.5 1322.6,854.7 1323.0,849.9 1323.4,856.2 1323.8,852.1 1324.2,855.6 1324.6,856.5 1325.0,850.3 1325.4,850.0 1325.8,852.3 1326.2,848.0 1326.6,853.2 1327.0,851.6 1327.4,852.9 1327.8,846.2 1328.2,850.3 1328.6,850.5 1329.0,844.9 1329.4,850.5 1329.8,844.9 1330.2,848.0 1330.6,844.1 1331.0,848.3 1331.4,849.9 1331.8,845.7 1332.2,845.1 1332.6,847.4 1333.0,842.9 1333.4,843.4 1333.8,844.6 1334.2,843.1 1334.6,845.1 1335.0,843.6 1335.4,844.6 1335.8,839.7 1336.2,841.6 1336.6,836.6 1337.0,839.8 1337.4,841.0 1337.8,841.7 1338.2,832.9 1338.6,834.6 1339.0,835.8 1339.4,831.5 1339.8,834.0 1340.2,833.2 1340.6,830.1 1341.0,829.2 1341.4,827.5 1341.8,829.5 1342.2,830.8 1342.6,827.8 1343.0,832.5 1343.4,822.1 1343.8,823.3 1344.2,825.2 1344.6,820.3 1345.0,822.7 1345.4,822.9 1345.8,820.6 1346.2,818.7 1346.6,820.5 1347.0,818.4 1347.4,818.2 1347.8,816.8 1348.2,813.2 1348.6,811.3 1349.0,812.0 1349.4,812.4 1349.8,810.7 1350.2,812.3 1350.6,809.9 1351.0,810.6 1351.4,807.9 1351.8,805.1 1352.2,807.8 1352.6,806.2 1353.0,802.4 1353.4,802.6 1353.8,809.1 1354.2,794.4 1354.6,803.9 1355.0,800.8 1355.4,799.9 1355.8,798.8 1356.2,797.7 1356.6,803.7 1357.0,796.8 1357.4,796.7 1357.8,798.7 1358.2,797.4 1358.6,795.8 1359.0,795.3 1359.4,792.6 1359.8,797.9 1360.2,792.9 1360.6,789.7 1361.0,797.5 1361.4,796.8 1361.8,795.9 1362.2,794.0 1362.6,798.0 1363.0,793.0 1363.4,790.7 1363.8,796.4 1364.2,798.1 1364.6,798.1 1365.0,801.8 1365.4,799.4 1365.8,797.4 1366.2,798.0 1366.6,801.1 1367.0,799.5 1367.4,799.9 1367.8,796.9 1368.2,800.9 1368.6,799.4 1369.0,803.6 1369.4,804.1 1369.8,806.2 1370.2,809.5 1370.6,805.8 1371.0,810.4 1371.4,805.4 1371.8,809.2 1372.2,811.9 1372.6,815.1 1373.0,809.0 1373.4,811.8 1373.8,813.7 1374.2,814.0 1374.6,813.0 1375.0,812.4 1375.4,814.3 1375.8,817.8 1376.2,815.8 1376.6,823.9 1377.0,823.6 1377.4,817.3 1377.8,821.5 1378.2,826.5 1378.6,827.7 1379.0,827.8 1379.4,822.9 1379.8,826.2 1380.2,830.8 1380.6,829.0 1381.0,828.5 1381.4,831.6 1381.8,833.5 1382.2,832.4 1382.6,833.4 1383.0,836.1 1383.4,833.1 1383.8,833.1 1384.2,837.7 1384.6,833.9 1385.0,838.5 1385.4,836.4 1385.8,840.7 1386.2,836.8 1386.6,842.8 1387.0,841.5 1387.4,840.8 1387.8,840.1 1388.2,842.4 1388.6,841.2 1389.0,841.2 1389.4,847.0 1389.8,846.5 1390.2,848.6 1390.6,843.2 1391.0,842.4 1391.4,843.7 1391.8,849.4 1392.2,850.3 1392.6,844.7 1393.0,851.8 1393.4,848.9 1393.8,847.6 1394.2,850.6 1394.6,852.6 1395.0,851.2 1395.4,851.8 1395.8,850.7 1396.2,849.7 1396.6,852.5 1397.0,850.1 1397.4,855.6 1397.8,852.6 1398.2,858.0 1398.6,851.7 1399.0,858.9 1399.4,854.0 1399.8,854.3 1400.2,857.4 1400.6,859.1 1401.0,857.2 1401.4,856.8 1401.8,862.5 1402.2,859.4 1402.6,855.8 1403.0,858.2 1403.4,863.0 1403.8,860.1 1404.2,861.5 1404.6,864.6 1405.0,858.8 1405.4,861.3 1405.8,859.1 1406.2,860.8 1406.6,862.3 1407.0,858.2 1407.4,861.9 1407.8,862.1 1408.2,864.4 1408.6,860.8 1409.0,859.4 1409.4,863.4 1409.8,860.1 1410.2,863.3 1410.6,864.4 1411.0,861.2 1411.4,863.1 1411.8,861.2 1412.2,857.2 1412.6,860.5 1413.0,859.2 1413.4,864.2 1413.8,861.8 1414.2,864.1 1414.6,864.4 1415.0,867.1 1415.4,864.0 1415.8,864.0 1416.2,866.2 1416.6,868.9 1417.0,865.1 1417.4,866.2 1417.8,865.0 1418.2,864.0 1418.6,862.1 1419.0,865.6 1419.4,865.2 1419.8,865.4 1420.2,870.6 1420.6,865.3 1421.0,866.9 1421.4,865.4 1421.8,869.0 1422.2,865.7 1422.6,870.7 1423.0,865.9 1423.4,868.3 1423.8,868.9 1424.2,866.1 1424.6,868.7 1425.0,866.9 1425.4,865.0 1425.8,865.3 1426.2,867.6 1426.6,871.0 1427.0,865.8 1427.4,868.2 1427.8,865.1 1428.2,867.6 1428.6,864.0 1429.0,865.2 1429.4,867.0 1429.8,865.3 1430.2,866.4 1430.6,869.3 1431.0,866.7 1431.4,865.3 1431.8,864.1 1432.2,865.7 1432.6,869.6 1433.0,866.6 1433.4,866.4 1433.8,868.4 1434.2,868.6 1434.6,868.9 1435.0,865.7 1435.4,864.3 1435.8,862.5 1436.2,864.7 1436.6,865.3 1437.0,867.7 1437.4,866.7 1437.8,864.5 1438.2,867.8 1438.6,862.7 1439.0,863.1 1439.4,862.7 1439.8,862.8 1440.2,864.6 1440.6,863.1 1441.0,863.2 1441.4,867.9 1441.8,861.3 1442.2,862.2 1442.6,863.8 1443.0,865.3 1443.4,865.2 1443.8,863.3 1444.2,863.0 1444.6,863.0 1445.0,865.2 1445.4,861.2 1445.8,857.7 1446.2,863.4 1446.6,860.1 1447.0,862.5 1447.4,865.6 1447.8,862.5 1448.2,866.3 1448.6,858.2 1449.0,862.2 1449.4,862.3 1449.8,863.1 1450.2,859.3 1450.6,861.2 1451.0,860.9 1451.4,860.6 1451.8,857.0 1452.2,855.9 1452.6,860.9 1453.0,860.2 1453.4,859.2 1453.8,860.4 1454.2,861.1 1454.6,855.7 1455.0,859.9 1455.4,861.3 1455.8,859.9 1456.2,858.7 1456.6,858.6 1457.0,853.4 1457.4,855.3 1457.8,858.5 1458.2,859.2 1458.6,856.6 1459.0,854.1 1459.4,854.5 1459.8,856.5 1460.2,858.8 1460.6,855.7 1461.0,852.3 1461.4,854.6 1461.8,853.8 1462.2,857.9 1462.6,853.4 1463.0,851.8 1463.4,851.1 1463.8,848.1 1464.2,848.1 1464.6,849.0 1465.0,847.8 1465.4,849.7 1465.8,849.1 1466.2,850.6 1466.6,851.5 1467.0,847.9 1467.4,846.6 1467.8,842.3 1468.2,847.0 1468.6,847.2 1469.0,843.4 1469.4,843.8 1469.8,842.6 1470.2,846.2 1470.6,844.6 1471.0,845.5 1471.4,839.4 1471.8,847.8 1472.2,839.1 1472.6,838.2 1473.0,840.5 1473.4,838.2 1473.8,843.1 1474.2,837.4 1474.6,836.2 1475.0,839.4 1475.4,839.4 1475.8,834.0 1476.2,834.3 1476.6,833.9 1477.0,833.8 1477.4,837.5 1477.8,835.8 1478.2,834.7 1478.6,834.5 1479.0,831.0 1479.4,832.3 1479.8,829.5 1480.2,827.3 1480.6,832.2 1481.0,823.6 1481.4,827.0 1481.8,825.0 1482.2,821.8 1482.6,824.0 1483.0,824.4 1483.4,824.6 1483.8,820.9 1484.2,823.9 1484.6,822.1 1485.0,822.6 1485.4,815.6 1485.8,818.3 1486.2,817.2 1486.6,819.2 1487.0,815.5 1487.4,815.3 1487.8,813.1 1488.2,812.3 1488.6,812.2 1489.0,815.9 1489.4,810.5 1489.8,806.7 1490.2,812.3 1490.6,809.9 1491.0,811.5 1491.4,810.8 1491.8,808.2 1492.2,807.3 1492.6,806.4 1493.0,807.0 1493.4,804.6 1493.8,806.3 1494.2,808.4 1494.6,803.1 1495.0,802.6 1495.4,802.1 1495.8,804.4 1496.2,804.0 1496.6,805.3 1497.0,803.1 1497.4,801.3 1497.8,801.6 1498.2,797.2 1498.6,801.1 1499.0,799.8 1499.4,803.8 1499.8,801.8 1500.2,796.5 1500.6,796.8 1501.0,799.8 1501.4,792.8 1501.8,795.2 1502.2,798.0 1502.6,798.4 1503.0,797.2 1503.4,799.4 1503.8,796.0 1504.2,796.8 1504.6,796.1 1505.0,794.0 1505.4,796.6 1505.8,795.3 1506.2,796.8 1506.6,790.7 1507.0,797.1 1507.4,795.7 1507.8,795.7 1508.2,797.4 1508.6,796.5 1509.0,799.9 1509.4,800.9 1509.8,800.4 1510.2,800.9 1510.6,799.9 1511.0,799.5 1511.4,796.8 1511.8,799.3 1512.2,803.4 1512.6,802.8 1513.0,800.4 1513.4,802.2 1513.8,804.9 1514.2,802.6 1514.6,807.2 1515.0,802.3 1515.4,806.4 1515.8,806.8 1516.2,806.2 1516.6,807.1 1517.0,808.2 1517.4,802.4 1517.8,809.3 1518.2,811.5 1518.6,810.4 1519.0,812.8 1519.4,808.1 1519.8,811.3 1520.2,812.9 1520.6,812.2 1521.0,816.3 1521.4,815.3 1521.8,813.7 1522.2,817.5 1522.6,818.2 1523.0,816.0 1523.4,819.1 1523.8,819.2 1524.2,819.9 1524.6,816.9 1525.0,823.4 1525.4,822.6 1525.8,821.7 1526.2,823.3 1526.6,823.9 1527.0,823.2 1527.4,823.2 1527.8,825.4 1528.2,824.5 1528.6,825.4 1529.0,824.5 1529.4,827.2 1529.8,830.8 1530.2,829.7 1530.6,829.9 1531.0,829.7 1531.4,830.1 1531.8,828.3 1532.2,836.1 1532.6,831.3 1533.0,830.1 1533.4,835.1 1533.8,835.3 1534.2,834.1 1534.6,832.5 1535.0,833.3 1535.4,840.7 1535.8,837.4 1536.2,836.7 1536.6,843.0 1537.0,838.0 1537.4,837.7 1537.8,841.6 1538.2,841.7 1538.6,845.0 1539.0,838.3 1539.4,843.1 1539.8,839.0 1540.2,844.5 1540.6,842.4 1541.0,843.3 1541.4,843.2 1541.8,847.2 1542.2,849.5 1542.6,846.0 1543.0,846.1 1543.4,846.0 1543.8,848.7 1544.2,845.6 1544.6,856.5 1545.0,848.3 1545.4,853.2 1545.8,850.0 1546.2,846.9 1546.6,846.8 1547.0,849.8 1547.4,849.5 1547.8,851.0 1548.2,849.2 1548.6,857.7 1549.0,857.5 1549.4,848.8 1549.8,854.4 1550.2,856.4 1550.6,853.2 1551.0,853.8 1551.4,857.1 1551.8,856.2 1552.2,852.4 1552.6,858.4 1553.0,854.7 1553.4,860.4 1553.8,854.2 1554.2,851.4 1554.6,857.2 1555.0,860.1 1555.4,858.8 1555.8,858.2 1556.2,856.0 1556.6,860.5 1557.0,854.3 1557.4,860.7 1557.8,856.3 1558.2,857.9 1558.6,856.5 1559.0,857.7 1559.4,863.5 1559.8,857.5 1560.2,860.9 1560.6,858.8 1561.0,863.3 1561.4,858.0 1561.8,861.3 1562.2,863.6 1562.6,867.0 1563.0,859.2 1563.4,860.1 1563.8,862.2 1564.2,865.9 1564.6,860.3 1565.0,864.8 1565.4,861.6 1565.8,860.8 1566.2,859.7 1566.6,863.9 1567.0,866.0 1567.4,863.6 1567.8,859.1 1568.2,862.9 1568.6,866.6 1569.0,866.5 1569.4,865.3 1569.8,868.2 1570.2,862.0 1570.6,862.2 1571.0,870.8 1571.4,866.9 1571.8,865.0 1572.2,864.5 1572.6,859.8 1573.0,867.9 1573.4,861.2 1573.8,861.6 1574.2,866.2 1574.6,869.9 1575.0,865.6 1575.4,867.5 1575.8,865.7 1576.2,867.8 1576.6,863.1 1577.0,872.0 1577.4,864.9 1577.8,868.6 1578.2,862.6 1578.6,871.7 1579.0,868.6 1579.4,872.4 1579.8,866.3 1580.2,870.3 1580.6,867.6 1581.0,868.0 1581.4,871.2 1581.8,866.2 1582.2,870.1 1582.6,873.0 1583.0,872.7 1583.4,871.1 1583.8,869.5 1584.2,866.6 1584.6,872.3 1585.0,867.4 1585.4,871.9 1585.8,868.4 1586.2,869.3 1586.6,869.3 1587.0,870.8 1587.4,868.4 1587.8,869.9 1588.2,868.4 1588.6,870.9 1589.0,870.4 1589.4,870.8 1589.8,867.9 1590.2,870.7 1590.6,870.1 1591.0,871.4 1591.4,870.2 1591.8,867.8 1592.2,871.8 1592.6,868.6 1593.0,870.8 1593.4,865.4 1593.8,871.4 1594.2,871.8 1594.6,868.1 1595.0,871.7 1595.4,869.5 1595.8,873.6 1596.2,872.0 1596.6,867.5 1597.0,870.0 1597.4,866.3 1597.8,869.8 1598.2,871.8 1598.6,872.5 1599.0,870.3 1599.4,870.0 1599.8,871.0 1600.2,869.2 1600.6,871.4 1601.0,873.3 1601.4,871.2 1601.8,872.7 1602.2,868.9 1602.6,869.6 1603.0,871.6 1603.4,875.5 1603.8,873.2 1604.2,874.8 1604.6,871.0 1605.0,873.8 1605.4,867.0 1605.8,872.1 1606.2,866.1 1606.6,873.8 1607.0,872.1 1607.4,873.7 1607.8,871.9 1608.2,869.8 1608.6,869.3 1609.0,871.5 1609.4,874.5 1609.8,872.5 1610.2,869.8 1610.6,869.7 1611.0,869.4 1611.4,870.6 1611.8,870.9 1612.2,869.9 1612.6,871.1 1613.0,867.4 1613.4,874.7 1613.8,871.7 1614.2,874.6 1614.6,871.8 1615.0,870.6 1615.4,871.3 1615.8,871.6 1616.2,869.6 1616.6,870.2 1617.0,875.5 1617.4,873.3 1617.8,869.9 1618.2,872.3 1618.6,869.2 1619.0,874.4 1619.4,868.7 1619.8,873.2 1620.2,871.2 1620.6,871.2 1621.0,869.2 1621.4,870.5 1621.8,869.3 1622.2,869.1"/>
<polyline fill="none" stroke="#00DC00" stroke-width="8.0" stroke-linejoin="round" stroke-linecap="round" points="535.0,1401.5 535.4,1401.5 535.8,1401.4 536.2,1401.2 536.6,1401.2 537.0,1401.2 537.4,1401.1 537.8,1401.5 538.2,1401.6 538.6,1401.8 539.0,1401.8 539.4,1401.8 539.8,1401.3 540.2,1401.2 540.6,1401.3 541.0,1401.3 541.4,1401.5 541.8,1401.6 542.2,1401.7 542.6,1401.8 543.0,1401.9 543.4,1401.7 543.8,1401.7 544.2,1401.8 544.6,1401.8 545.0,1401.7 545.4,1401.7 545.8,1401.9 546.2,1401.7 546.6,1401.5 547.0,1401.6 547.4,1401.7 547.8,1401.6 548.2,1401.8 548.6,1401.5 549.0,1401.5 549.4,1401.3 549.8,1401.1 550.2,1401.1 550.6,1401.5 551.0,1401.3 551.4,1401.3 551.8,1401.5 552.2,1401.4 552.6,1401.5 553.0,1401.6 553.4,1401.8 553.8,1401.9 554.2,1401.9 554.6,1401.6 555.0,1401.6 555.4,1401.7 555.8,1401.5 556.2,1401.4 556.6,1401.6 557.0,1401.2 557.4,1401.2 557.8,1401.3 558.2,1401.2 558.6,1401.2 559.0,1401.4 559.4,1401.4 559.8,1401.1 560.2,1401.2 560.6,1401.2 561.0,1401.5 561.4,1401.1 561.8,1401.3 562.2,1401.5 562.6,1401.3 563.0,1401.4 563.4,1401.5 563.8,1401.6 564.2,1401.4 564.6,1401.6 565.0,1401.4 565.4,1401.5 565.8,1401.3 566.2,1401.6 566.6,1401.5 567.0,1401.6 567.4,1401.8 567.8,1402.0 568.2,1401.7 568.6,1401.6 569.0,1401.4 569.4,1401.4 569.8,1401.2 570.2,1401.2 570.6,1401.2 571.0,1401.4 571.4,1401.3 571.8,1401.3 572.2,1401.1 572.6,1401.2 573.0,1401.3 573.4,1401.3 573.8,1401.5 574.2,1401.6 574.6,1401.6 575.0,1401.5 575.4,1401.4 575.8,1401.3 576.2,1401.4 576.6,1401.3 577.0,1401.4 577.4,1401.3 577.8,1401.6 578.2,1401.8 578.6,1401.9 579.0,1401.6 579.4,1401.5 579.8,1401.1 580.2,1401.0 580.6,1400.5 581.0,1400.8 581.4,1400.9 581.8,1400.7 582.2,1400.5 582.6,1400.5 583.0,1400.2 583.4,1400.0 583.8,1400.0 584.2,1399.6 584.6,1399.1 585.0,1398.1 585.4,1396.7 585.8,1394.4 586.2,1391.8 586.6,1388.4 587.0,1385.0 587.4,1381.9 587.8,1380.5 588.2,1380.9 588.6,1383.3 589.0,1386.4 589.4,1389.9 589.8,1392.7 590.2,1395.0 590.6,1396.9 591.0,1398.5 591.4,1399.3 591.8,1399.8 592.2,1400.2 592.6,1400.2 593.0,1400.2 593.4,1400.5 593.8,1400.6 594.2,1400.9 594.6,1401.1 595.0,1401.2 595.4,1400.9 595.8,1400.9 596.2,1400.9 596.6,1400.9 597.0,1400.8 597.4,1401.0 597.8,1401.0 598.2,1401.1 598.6,1401.2 599.0,1401.2 599.4,1401.4 599.8,1401.5 600.2,1401.6 600.6,1401.5 601.0,1401.6 601.4,1401.4 601.8,1401.4 602.2,1401.3 602.6,1401.7 603.0,1401.7 603.4,1401.8 603.8,1401.9 604.2,1401.8 604.6,1401.7 605.0,1401.7 605.4,1401.6 605.8,1401.7 606.2,1401.8 606.6,1402.1 607.0,1402.0 607.4,1402.0 607.8,1401.8 608.2,1401.8 608.6,1401.4 609.0,1401.5 609.4,1401.5 609.8,1401.7 610.2,1401.5 610.6,1401.7 611.0,1401.6 611.4,1401.5 611.8,1401.3 612.2,1401.2 612.6,1401.1 613.0,1401.3 613.4,1401.4 613.8,1401.6 614.2,1401.9 614.6,1401.9 615.0,1401.8 615.4,1401.8 615.8,1401.5 616.2,1401.4 616.6,1401.2 617.0,1401.2 617.4,1401.3 617.8,1401.6 618.2,1401.5 618.6,1401.6 619.0,1401.6 619.4,1401.5 619.8,1401.3 620.2,1401.4 620.6,1401.4 621.0,1401.4 621.4,1401.3 621.8,1401.3 622.2,1401.1 622.6,1401.1 623.0,1401.0 623.4,1401.2 623.8,1401.4 624.2,1401.4 624.6,1401.4 625.0,1401.5 625.4,1401.3 625.8,1401.2 626.2,1401.4 626.6,1401.2 627.0,1401.2 627.4,1401.3 627.8,1401.2 628.2,1401.1 628.6,1401.4 629.0,1401.5 629.4,1401.4 629.8,1401.3 630.2,1401.4 630.6,1401.3 631.0,1401.4 631.4,1401.6 631.8,1401.5 632.2,1401.5 632.6,1401.5 633.0,1401.6 633.4,1401.5 633.8,1401.7 634.2,1401.8 634.6,1401.8 635.0,1401.8 635.4,1401.8 635.8,1401.8 636.2,1401.8 636.6,1401.9 637.0,1401.5 637.4,1401.7 637.8,1401.6 638.2,1401.6 638.6,1401.4 639.0,1401.5 639.4,1401.4 639.8,1401.5 640.2,1401.6 640.6,1401.8 641.0,1402.0 641.4,1401.9 641.8,1401.9 642.2,1401.9 642.6,1401.7 643.0,1401.7 643.4,1401.9 643.8,1401.8 644.2,1401.7 644.6,1401.8 645.0,1401.9 645.4,1401.7 645.8,1401.7 646.2,1401.7 646.6,1401.8 647.0,1401.4 647.4,1401.4 647.8,1401.6 648.2,1401.5 648.6,1401.5 649.0,1401.8 649.4,1401.7 649.8,1401.6 650.2,1401.5 650.6,1401.3 651.0,1401.4 651.4,1401.4 651.8,1401.6 652.2,1401.7 652.6,1401.9 653.0,1401.7 653.4,1401.5 653.8,1401.3 654.2,1401.3 654.6,1401.1 655.0,1400.9 655.4,1401.2 655.8,1401.2 656.2,1401.0 656.6,1401.0 657.0,1401.3 657.4,1401.2 657.8,1401.4 658.2,1401.7 658.6,1401.8 659.0,1401.6 659.4,1401.5 659.8,1401.4 660.2,1401.3 660.6,1401.3 661.0,1401.5 661.4,1401.6 661.8,1401.7 662.2,1401.5 662.6,1401.4 663.0,1401.2 663.4,1401.1 663.8,1401.0 664.2,1400.9 664.6,1400.9 665.0,1401.1 665.4,1401.3 665.8,1401.6 666.2,1401.9 666.6,1401.9 667.0,1401.9 667.4,1402.0 667.8,1401.6 668.2,1401.6 668.6,1401.6 669.0,1401.1 669.4,1401.2 669.8,1401.2 670.2,1401.2 670.6,1401.2 671.0,1401.5 671.4,1401.5 671.8,1401.5 672.2,1401.3 672.6,1401.6 673.0,1401.7 673.4,1401.5 673.8,1401.7 674.2,1401.7 674.6,1401.5 675.0,1401.5 675.4,1401.6 675.8,1401.9 676.2,1401.7 676.6,1401.7 677.0,1401.7 677.4,1401.6 677.8,1401.4 678.2,1401.4 678.6,1401.7 679.0,1401.5 679.4,1401.6 679.8,1401.2 680.2,1401.1 680.6,1401.2 681.0,1401.2 681.4,1401.1 681.8,1401.2 682.2,1401.4 682.6,1401.2 683.0,1401.2 683.4,1401.3 683.8,1401.5 684.2,1401.5 684.6,1401.4 685.0,1401.8 685.4,1401.7 685.8,1401.7 686.2,1401.5 686.6,1401.6 687.0,1401.5 687.4,1401.4 687.8,1401.5 688.2,1401.7 688.6,1401.8 689.0,1401.8 689.4,1401.9 689.8,1401.5 690.2,1401.5 690.6,1401.4 691.0,1401.4 691.4,1401.4 691.8,1401.6 692.2,1401.5 692.6,1401.3 693.0,1401.5 693.4,1401.4 693.8,1401.4 694.2,1401.3 694.6,1401.4 695.0,1401.4 695.4,1401.4 695.8,1401.4 696.2,1401.7 696.6,1401.9 697.0,1401.8 697.4,1401.9 697.8,1402.1 698.2,1402.0 698.6,1401.9 699.0,1401.7 699.4,1401.8 699.8,1401.7 700.2,1401.8 700.6,1401.5 701.0,1401.7 701.4,1401.6 701.8,1401.6 702.2,1401.4 702.6,1401.7 703.0,1401.7 703.4,1401.5 703.8,1401.5 704.2,1401.6 704.6,1401.7 705.0,1401.6 705.4,1401.7 705.8,1401.7 706.2,1401.7 706.6,1401.4 707.0,1401.3 707.4,1401.3 707.8,1401.1 708.2,1401.0 708.6,1401.1 709.0,1401.3 709.4,1401.2 709.8,1401.4 710.2,1401.2 710.6,1401.3 711.0,1401.1 711.4,1401.0 711.8,1401.0 712.2,1401.2 712.6,1401.0 713.0,1401.1 713.4,1401.3 713.8,1401.2 714.2,1401.3 714.6,1401.5 715.0,1401.5 715.4,1401.4 715.8,1401.3 716.2,1401.4 716.6,1401.4 717.0,1401.6 717.4,1401.7 717.8,1401.7 718.2,1401.7 718.6,1401.5 719.0,1401.5 719.4,1401.6 719.8,1401.5 720.2,1401.4 720.6,1401.4 721.0,1401.5 721.4,1401.7 721.8,1401.8 722.2,1401.8 722.6,1401.6 723.0,1401.4 723.4,1401.1 723.8,1401.0 724.2,1401.1 724.6,1401.2 725.0,1401.1 725.4,1401.1 725.8,1401.1 726.2,1401.1 726.6,1401.4 727.0,1401.3 727.4,1401.1 727.8,1401.3 728.2,1401.2 728.6,1400.9 729.0,1401.1 729.4,1401.2 729.8,1401.1 730.2,1401.2 730.6,1401.4 731.0,1401.6 731.4,1401.8 731.8,1401.9 732.2,1401.9 732.6,1402.0 733.0,1401.9 733.4,1401.6 733.8,1401.6 734.2,1401.5 734.6,1401.5 735.0,1401.4 735.4,1401.6 735.8,1401.5 736.2,1401.7 736.6,1401.5 737.0,1401.5 737.4,1401.5 737.8,1401.4 738.2,1401.2 738.6,1401.2 739.0,1401.2 739.4,1401.4 739.8,1401.4 740.2,1401.4 740.6,1401.3 741.0,1401.4 741.4,1401.0 741.8,1401.0 742.2,1400.9 742.6,1401.0 743.0,1400.9 743.4,1400.9 743.8,1400.9 744.2,1400.9 744.6,1401.0 745.0,1401.0 745.4,1401.0 745.8,1401.0 746.2,1400.7 746.6,1400.4 747.0,1400.2 747.4,1400.0 747.8,1399.7 748.2,1399.4 748.6,1399.3 749.0,1399.2 749.4,1398.8 749.8,1398.5 750.2,1398.4 750.6,1398.1 751.0,1397.6 751.4,1397.7 751.8,1397.6 752.2,1397.8 752.6,1398.0 753.0,1398.4 753.4,1398.5 753.8,1398.9 754.2,1399.0 754.6,1399.2 755.0,1399.5 755.4,1399.5 755.8,1399.8 756.2,1400.1 756.6,1400.3 757.0,1400.6 757.4,1400.7 757.8,1400.6 758.2,1400.8 758.6,1401.0 759.0,1400.6 759.4,1400.3 759.8,1400.2 760.2,1400.2 760.6,1400.0 761.0,1400.2 761.4,1400.6 761.8,1400.6 762.2,1400.5 762.6,1400.6 763.0,1400.6 763.4,1400.5 763.8,1400.5 764.2,1400.5 764.6,1400.3 765.0,1400.3 765.4,1400.4 765.8,1400.3 766.2,1399.8 766.6,1399.6 767.0,1399.3 767.4,1398.8 767.8,1398.7 768.2,1398.3 768.6,1397.4 769.0,1396.3 769.4,1394.2 769.8,1391.5 770.2,1387.7 770.6,1382.8 771.0,1376.7 771.4,1370.3 771.8,1364.3 772.2,1360.5 772.6,1360.5 773.0,1364.1 773.4,1370.0 773.8,1376.6 774.2,1382.8 774.6,1387.7 775.0,1391.4 775.4,1394.1 775.8,1395.9 776.2,1397.0 776.6,1398.1 777.0,1398.7 777.4,1399.1 777.8,1399.1 778.2,1399.5 778.6,1399.6 779.0,1399.5 779.4,1399.8 779.8,1400.2 780.2,1400.3 780.6,1400.4 781.0,1400.9 781.4,1401.0 781.8,1400.7 782.2,1400.7 782.6,1400.7 783.0,1400.4 783.4,1400.0 783.8,1400.2 784.2,1400.2 784.6,1400.2 785.0,1400.2 785.4,1400.6 785.8,1400.4 786.2,1400.4 786.6,1400.4 787.0,1400.6 787.4,1400.4 787.8,1400.6 788.2,1400.7 788.6,1400.5 789.0,1400.5 789.4,1400.4 789.8,1400.2 790.2,1400.1 790.6,1400.0 791.0,1399.6 791.4,1399.3 791.8,1399.0 792.2,1398.6 792.6,1397.9 793.0,1397.0 793.4,1395.9 793.8,1393.9 794.2,1391.7 794.6,1389.3 795.0,1386.8 795.4,1384.5 795.8,1383.1 796.2,1382.9 796.6,1383.9 797.0,1386.1 797.4,1388.6 797.8,1391.2 798.2,1393.4 798.6,1395.3 799.0,1396.4 799.4,1397.4 799.8,1397.8 800.2,1398.3 800.6,1398.8 801.0,1399.5 801.4,1399.8 801.8,1400.1 802.2,1400.3 802.6,1400.2 803.0,1400.2 803.4,1400.1 803.8,1400.4 804.2,1400.6 804.6,1400.9 805.0,1401.1 805.4,1401.1 805.8,1401.0 806.2,1400.9 806.6,1401.0 807.0,1400.7 807.4,1400.7 807.8,1400.5 808.2,1400.4 808.6,1400.3 809.0,1400.3 809.4,1400.3 809.8,1400.3 810.2,1400.3 810.6,1400.3 811.0,1400.4 811.4,1400.5 811.8,1400.5 812.2,1400.7 812.6,1400.6 813.0,1400.5 813.4,1400.5 813.8,1400.4 814.2,1400.2 814.6,1400.2 815.0,1400.2 815.4,1400.3 815.8,1400.6 816.2,1400.3 816.6,1400.3 817.0,1400.3 817.4,1400.1 817.8,1399.9 818.2,1399.9 818.6,1400.0 819.0,1400.0 819.4,1400.0 819.8,1399.9 820.2,1400.3 820.6,1399.9 821.0,1399.8 821.4,1400.0 821.8,1400.2 822.2,1400.0 822.6,1400.1 823.0,1400.3 823.4,1399.9 823.8,1399.9 824.2,1399.9 824.6,1399.9 825.0,1399.8 825.4,1399.8 825.8,1399.6 826.2,1399.6 826.6,1399.6 827.0,1399.6 827.4,1399.8 827.8,1399.8 828.2,1399.7 828.6,1399.7 829.0,1399.5 829.4,1399.5 829.8,1399.5 830.2,1399.5 830.6,1399.5 831.0,1399.5 831.4,1399.4 831.8,1399.3 832.2,1399.2 832.6,1399.3 833.0,1399.3 833.4,1399.1 833.8,1399.0 834.2,1398.9 834.6,1398.5 835.0,1398.5 835.4,1398.4 835.8,1398.6 836.2,1398.7 836.6,1398.9 837.0,1398.9 837.4,1398.9 837.8,1398.8 838.2,1398.5 838.6,1398.2 839.0,1398.0 839.4,1398.1 839.8,1398.1 840.2,1398.1 840.6,1398.4 841.0,1398.2 841.4,1397.9 841.8,1397.6 842.2,1397.5 842.6,1397.2 843.0,1397.3 843.4,1397.3 843.8,1397.2 844.2,1397.1 844.6,1397.0 845.0,1396.5 845.4,1396.4 845.8,1396.4 846.2,1396.4 846.6,1396.4 847.0,1396.3 847.4,1395.9 847.8,1395.8 848.2,1395.8 848.6,1395.3 849.0,1395.3 849.4,1395.3 849.8,1395.0 850.2,1394.7 850.6,1394.6 851.0,1394.4 851.4,1394.1 851.8,1393.7 852.2,1393.1 852.6,1392.4 853.0,1391.8 853.4,1391.0 853.8,1390.4 854.2,1389.8 854.6,1389.2 855.0,1388.0 855.4,1386.8 855.8,1385.2 856.2,1383.2 856.6,1381.2 857.0,1379.1 857.4,1376.8 857.8,1374.4 858.2,1372.2 858.6,1370.2 859.0,1368.5 859.4,1367.5 859.8,1367.0 860.2,1367.7 860.6,1368.7 861.0,1370.5 861.4,1372.4 861.8,1374.7 862.2,1376.9 862.6,1378.9 863.0,1380.9 863.4,1382.6 863.8,1384.1 864.2,1385.0 864.6,1385.7 865.0,1386.4 865.4,1386.9 865.8,1387.0 866.2,1387.2 866.6,1387.4 867.0,1387.4 867.4,1387.4 867.8,1387.7 868.2,1387.9 868.6,1388.0 869.0,1387.8 869.4,1387.9 869.8,1387.5 870.2,1387.4 870.6,1387.6 871.0,1387.6 871.4,1387.6 871.8,1387.9 872.2,1388.1 872.6,1388.2 873.0,1388.3 873.4,1388.5 873.8,1388.3 874.2,1388.2 874.6,1388.0 875.0,1388.1 875.4,1387.9 875.8,1387.8 876.2,1387.8 876.6,1388.0 877.0,1387.8 877.4,1387.9 877.8,1388.0 878.2,1388.1 878.6,1387.9 879.0,1388.1 879.4,1388.2 879.8,1388.3 880.2,1388.3 880.6,1388.3 881.0,1388.0 881.4,1388.0 881.8,1387.9 882.2,1387.9 882.6,1388.0 883.0,1388.2 883.4,1387.9 883.8,1387.7 884.2,1387.6 884.6,1387.4 885.0,1387.1 885.4,1387.0 885.8,1386.6 886.2,1386.4 886.6,1385.9 887.0,1385.6 887.4,1385.0 887.8,1384.7 888.2,1384.0 888.6,1383.2 889.0,1382.3 889.4,1381.3 889.8,1380.1 890.2,1378.5 890.6,1376.8 891.0,1374.9 891.4,1372.4 891.8,1368.8 892.2,1364.5 892.6,1358.7 893.0,1350.9 893.4,1340.6 893.8,1327.8 894.2,1311.3 894.6,1291.4 895.0,1267.5 895.4,1240.4 895.8,1210.2 896.2,1178.8 896.6,1148.3 897.0,1122.3 897.4,1104.3 897.8,1097.9 898.2,1104.9 898.6,1122.9 899.0,1149.2 899.4,1179.7 899.8,1211.3 900.2,1241.2 900.6,1268.6 901.0,1292.9 901.4,1313.1 901.8,1329.6 902.2,1342.8 902.6,1353.2 903.0,1360.9 903.4,1366.6 903.8,1371.3 904.2,1374.9 904.6,1377.9 905.0,1380.4 905.4,1382.6 905.8,1384.1 906.2,1385.6 906.6,1386.5 907.0,1387.5 907.4,1388.5 907.8,1389.5 908.2,1390.2 908.6,1391.0 909.0,1391.8 909.4,1392.5 909.8,1392.9 910.2,1393.6 910.6,1394.0 911.0,1394.4 911.4,1394.5 911.8,1395.0 912.2,1395.1 912.6,1395.4 913.0,1395.6 913.4,1396.0 913.8,1396.1 914.2,1396.3 914.6,1396.5 915.0,1396.7 915.4,1396.8 915.8,1397.0 916.2,1397.2 916.6,1397.1 917.0,1397.1 917.4,1397.4 917.8,1397.5 918.2,1397.7 918.6,1397.8 919.0,1398.2 919.4,1398.3 919.8,1398.5 920.2,1398.6 920.6,1398.7 921.0,1398.8 921.4,1398.8 921.8,1398.8 922.2,1399.0 922.6,1399.2 923.0,1399.1 923.4,1399.1 923.8,1399.2 924.2,1399.0 924.6,1399.1 925.0,1399.1 925.4,1399.0 925.8,1399.4 926.2,1399.5 926.6,1399.4 927.0,1399.4 927.4,1399.6 927.8,1399.5 928.2,1399.6 928.6,1399.8 929.0,1399.8 929.4,1399.7 929.8,1399.6 930.2,1399.6 930.6,1399.6 931.0,1399.5 931.4,1400.0 931.8,1400.0 932.2,1400.0 932.6,1400.1 933.0,1400.4 933.4,1400.1 933.8,1399.9 934.2,1399.8 934.6,1399.8 935.0,1399.7 935.4,1399.5 935.8,1399.6 936.2,1399.9 936.6,1399.9 937.0,1399.9 937.4,1400.0 937.8,1400.3 938.2,1400.1 938.6,1400.0 939.0,1400.1 939.4,1400.2 939.8,1400.4 940.2,1400.6 940.6,1400.5 941.0,1400.6 941.4,1400.5 941.8,1400.2 942.2,1400.3 942.6,1400.4 943.0,1400.3 943.4,1400.5 943.8,1400.5 944.2,1400.5 944.6,1400.6 945.0,1400.6 945.4,1400.6 945.8,1400.6 946.2,1400.3 946.6,1400.3 947.0,1400.2 947.4,1400.2 947.8,1400.4 948.2,1400.6 948.6,1400.6 949.0,1400.9 949.4,1400.9 949.8,1400.9 950.2,1401.1 950.6,1401.0 951.0,1400.9 951.4,1400.8 951.8,1400.8 952.2,1400.8 952.6,1400.7 953.0,1400.5 953.4,1400.3 953.8,1400.3 954.2,1400.4 954.6,1400.6 955.0,1400.7 955.4,1400.7 955.8,1400.9 956.2,1400.8 956.6,1400.5 957.0,1400.8 957.4,1401.0 957.8,1401.0 958.2,1401.0 958.6,1401.3 959.0,1401.2 959.4,1401.1 959.8,1400.9 960.2,1400.8 960.6,1400.8 961.0,1400.7 961.4,1400.6 961.8,1400.7 962.2,1400.9 962.6,1401.0 963.0,1401.3 963.4,1401.3 963.8,1401.1 964.2,1400.9 964.6,1400.8 965.0,1400.4 965.4,1400.6 965.8,1400.7 966.2,1400.7 966.6,1400.7 967.0,1401.1 967.4,1401.1 967.8,1401.2 968.2,1401.4 968.6,1401.4 969.0,1401.3 969.4,1401.3 969.8,1401.3 970.2,1401.2 970.6,1401.0 971.0,1401.1 971.4,1401.0 971.8,1401.0 972.2,1401.1 972.6,1401.2 973.0,1401.2 973.4,1401.4 973.8,1401.4 974.2,1401.1 974.6,1401.0 975.0,1401.1 975.4,1401.0 975.8,1400.7 976.2,1400.8 976.6,1400.9 977.0,1400.7 977.4,1400.7 977.8,1400.9 978.2,1401.1 978.6,1401.0 979.0,1401.2 979.4,1401.3 979.8,1401.3 980.2,1401.3 980.6,1401.6 981.0,1401.6 981.4,1401.4 981.8,1401.3 982.2,1401.1 982.6,1401.1 983.0,1401.1 983.4,1401.3 983.8,1401.5 984.2,1401.7 984.6,1401.6 985.0,1401.3 985.4,1401.2 985.8,1401.2 986.2,1401.1 986.6,1401.0 987.0,1401.0 987.4,1400.9 987.8,1400.8 988.2,1400.7 988.6,1400.9 989.0,1401.0 989.4,1401.1 989.8,1401.3 990.2,1401.3 990.6,1401.0 991.0,1401.1 991.4,1401.3 991.8,1401.3 992.2,1401.4 992.6,1401.7 993.0,1401.6 993.4,1401.3 993.8,1401.1 994.2,1401.2 994.6,1401.0 995.0,1401.2 995.4,1401.2 995.8,1401.2 996.2,1401.3 996.6,1401.3 997.0,1401.0 997.4,1401.0 997.8,1400.9 998.2,1401.0 998.6,1401.1 999.0,1401.3 999.4,1401.4 999.8,1401.6 1000.2,1401.4 1000.6,1401.3 1001.0,1401.2 1001.4,1401.2 1001.8,1401.3 1002.2,1401.3 1002.6,1401.4 1003.0,1401.7 1003.4,1401.6 1003.8,1401.3 1004.2,1401.4 1004.6,1401.4 1005.0,1401.2 1005.4,1401.3 1005.8,1401.4 1006.2,1401.4 1006.6,1401.3 1007.0,1401.4 1007.4,1401.2 1007.8,1401.2 1008.2,1401.1 1008.6,1401.1 1009.0,1401.1 1009.4,1401.2 1009.8,1401.3 1010.2,1401.3 1010.6,1401.3 1011.0,1401.0 1011.4,1400.9 1011.8,1400.9 1012.2,1400.8 1012.6,1400.9 1013.0,1401.2 1013.4,1401.4 1013.8,1401.6 1014.2,1401.8 1014.6,1401.8 1015.0,1401.9 1015.4,1402.0 1015.8,1401.7 1016.2,1401.6 1016.6,1401.8 1017.0,1401.6 1017.4,1401.6 1017.8,1401.7 1018.2,1401.7 1018.6,1401.6 1019.0,1401.6 1019.4,1401.4 1019.8,1401.5 1020.2,1401.2 1020.6,1401.3 1021.0,1401.4 1021.4,1401.5 1021.8,1401.4 1022.2,1401.6 1022.6,1401.5 1023.0,1401.3 1023.4,1401.2 1023.8,1401.2 1024.2,1401.2 1024.6,1401.2 1025.0,1401.4 1025.4,1401.3 1025.8,1401.2 1026.2,1401.1 1026.6,1401.3 1027.0,1401.2 1027.4,1401.1 1027.8,1401.2 1028.2,1401.2 1028.6,1401.0 1029.0,1400.9 1029.4,1401.1 1029.8,1401.1 1030.2,1401.1 1030.6,1401.1 1031.0,1401.5 1031.4,1401.5 1031.8,1401.5 1032.2,1401.5 1032.6,1401.7 1033.0,1401.7 1033.4,1401.8 1033.8,1401.8 1034.2,1401.7 1034.6,1401.6 1035.0,1401.3 1035.4,1401.3 1035.8,1401.2 1036.2,1401.5 1036.6,1401.5 1037.0,1401.5 1037.4,1401.6 1037.8,1401.4 1038.2,1401.1 1038.6,1401.2 1039.0,1401.2 1039.4,1401.1 1039.8,1401.4 1040.2,1401.4 1040.6,1401.3 1041.0,1401.2 1041.4,1401.0 1041.8,1401.1 1042.2,1401.0 1042.6,1401.0 1043.0,1401.3 1043.4,1401.6 1043.8,1401.4 1044.2,1401.5 1044.6,1401.5 1045.0,1401.3 1045.4,1401.2 1045.8,1401.3 1046.2,1401.4 1046.6,1401.5 1047.0,1401.6 1047.4,1401.8 1047.8,1401.9 1048.2,1401.7 1048.6,1401.8 1049.0,1401.5 1049.4,1401.2 1049.8,1401.1 1050.2,1401.2 1050.6,1401.1 1051.0,1401.3 1051.4,1401.4 1051.8,1401.2 1052.2,1401.3 1052.6,1401.5 1053.0,1401.4 1053.4,1401.4 1053.8,1401.4 1054.2,1401.3 1054.6,1401.4 1055.0,1401.4 1055.4,1401.7 1055.8,1401.9 1056.2,1401.9 1056.6,1401.7 1057.0,1401.7 1057.4,1401.5 1057.8,1401.4 1058.2,1401.5 1058.6,1401.3 1059.0,1401.3 1059.4,1401.5 1059.8,1401.6 1060.2,1401.5 1060.6,1401.6 1061.0,1401.7 1061.4,1401.7 1061.8,1401.5 1062.2,1401.6 1062.6,1401.7 1063.0,1401.6 1063.4,1401.5 1063.8,1401.9 1064.2,1401.9 1064.6,1401.7 1065.0,1401.6 1065.4,1401.5 1065.8,1401.4 1066.2,1401.3 1066.6,1401.2 1067.0,1401.2 1067.4,1401.3 1067.8,1401.2 1068.2,1401.2 1068.6,1401.4 1069.0,1401.4 1069.4,1401.4 1069.8,1401.4 1070.2,1401.6 1070.6,1401.4 1071.0,1401.5 1071.4,1401.5 1071.8,1401.3 1072.2,1401.2 1072.6,1401.3 1073.0,1401.5 1073.4,1401.4 1073.8,1401.5 1074.2,1401.5 1074.6,1401.4 1075.0,1401.2 1075.4,1401.3 1075.8,1401.3 1076.2,1401.2 1076.6,1401.2 1077.0,1401.0 1077.4,1401.1 1077.8,1401.0 1078.2,1401.1 1078.6,1401.0 1079.0,1401.2 1079.4,1401.2 1079.8,1401.4 1080.2,1401.2 1080.6,1401.4 1081.0,1401.4 1081.4,1401.2 1081.8,1401.2 1082.2,1401.3 1082.6,1401.2 1083.0,1401.1 1083.4,1401.2 1083.8,1401.1 1084.2,1401.1 1084.6,1401.1 1085.0,1401.1 1085.4,1401.1 1085.8,1401.2 1086.2,1401.2 1086.6,1401.5 1087.0,1401.5 1087.4,1401.3 1087.8,1401.2 1088.2,1401.1 1088.6,1401.0 1089.0,1401.1 1089.4,1401.1 1089.8,1401.0 1090.2,1401.3 1090.6,1401.2 1091.0,1401.0 1091.4,1401.0 1091.8,1400.9 1092.2,1400.4 1092.6,1400.2 1093.0,1399.7 1093.4,1399.5 1093.8,1399.1 1094.2,1398.6 1094.6,1398.2 1095.0,1398.1 1095.4,1397.5 1095.8,1397.3 1096.2,1397.0 1096.6,1396.7 1097.0,1396.5 1097.4,1396.6 1097.8,1396.9 1098.2,1397.3 1098.6,1397.7 1099.0,1398.4 1099.4,1398.8 1099.8,1399.1 1100.2,1399.3 1100.6,1399.8 1101.0,1399.9 1101.4,1400.2 1101.8,1400.4 1102.2,1400.6 1102.6,1400.5 1103.0,1400.6 1103.4,1400.6 1103.8,1400.6 1104.2,1400.5 1104.6,1400.5 1105.0,1400.5 1105.4,1400.6 1105.8,1400.7 1106.2,1400.6 1106.6,1400.5 1107.0,1400.4 1107.4,1400.0 1107.8,1399.9 1108.2,1399.9 1108.6,1399.6 1109.0,1398.9 1109.4,1398.1 1109.8,1396.9 1110.2,1394.9 1110.6,1392.2 1111.0,1389.0 1111.4,1385.3 1111.8,1381.2 1112.2,1378.0 1112.6,1376.5 1113.0,1377.3 1113.4,1380.1 1113.8,1384.0 1114.2,1388.0 1114.6,1391.4 1115.0,1394.3 1115.4,1396.2 1115.8,1397.8 1116.2,1398.5 1116.6,1399.1 1117.0,1399.5 1117.4,1399.8 1117.8,1400.0 1118.2,1400.4 1118.6,1400.6 1119.0,1400.7 1119.4,1400.8 1119.8,1400.8 1120.2,1400.6 1120.6,1400.6 1121.0,1400.7 1121.4,1400.9 1121.8,1401.0 1122.2,1401.1 1122.6,1401.1 1123.0,1401.0 1123.4,1400.7 1123.8,1400.6 1124.2,1400.7 1124.6,1400.5 1125.0,1400.8 1125.4,1401.0 1125.8,1401.1 1126.2,1401.1 1126.6,1401.4 1127.0,1401.1 1127.4,1401.2 1127.8,1401.3 1128.2,1401.6 1128.6,1401.4 1129.0,1401.5 1129.4,1401.5 1129.8,1401.4 1130.2,1401.4 1130.6,1401.3 1131.0,1401.6 1131.4,1401.5 1131.8,1401.6 1132.2,1401.4 1132.6,1401.4 1133.0,1401.2 1133.4,1401.2 1133.8,1401.3 1134.2,1401.3 1134.6,1401.2 1135.0,1401.3 1135.4,1401.2 1135.8,1401.0 1136.2,1401.2 1136.6,1401.4 1137.0,1401.0 1137.4,1400.9 1137.8,1401.1 1138.2,1401.1 1138.6,1400.9 1139.0,1401.4 1139.4,1401.3 1139.8,1401.2 1140.2,1401.1 1140.6,1401.1 1141.0,1401.0 1141.4,1401.2 1141.8,1401.2 1142.2,1401.3 1142.6,1401.2 1143.0,1401.0 1143.4,1401.1 1143.8,1401.0 1144.2,1400.9 1144.6,1400.9 1145.0,1400.8 1145.4,1400.5 1145.8,1400.3 1146.2,1400.0 1146.6,1399.9 1147.0,1399.7 1147.4,1399.6 1147.8,1399.2 1148.2,1399.0 1148.6,1398.6 1149.0,1397.9 1149.4,1397.0 1149.8,1396.6 1150.2,1396.0 1150.6,1395.3 1151.0,1394.8 1151.4,1394.2 1151.8,1393.4 1152.2,1392.8 1152.6,1392.4 1153.0,1392.3 1153.4,1392.5 1153.8,1392.9 1154.2,1393.5 1154.6,1394.4 1155.0,1394.9 1155.4,1395.7 1155.8,1396.2 1156.2,1396.6 1156.6,1397.0 1157.0,1397.8 1157.4,1398.1 1157.8,1398.7 1158.2,1399.1 1158.6,1399.3 1159.0,1399.4 1159.4,1399.9 1159.8,1400.0 1160.2,1400.2 1160.6,1400.5 1161.0,1400.6 1161.4,1400.6 1161.8,1400.8 1162.2,1401.0 1162.6,1401.1 1163.0,1401.1 1163.4,1400.9 1163.8,1400.7 1164.2,1400.4 1164.6,1400.1 1165.0,1400.3 1165.4,1400.5 1165.8,1400.5 1166.2,1400.6 1166.6,1400.4 1167.0,1400.2 1167.4,1399.8 1167.8,1399.5 1168.2,1399.2 1168.6,1399.1 1169.0,1398.7 1169.4,1398.3 1169.8,1397.9 1170.2,1397.2 1170.6,1396.4 1171.0,1395.7 1171.4,1394.7 1171.8,1393.9 1172.2,1393.0 1172.6,1392.2 1173.0,1391.5 1173.4,1391.0 1173.8,1390.5 1174.2,1390.1 1174.6,1390.2 1175.0,1390.8 1175.4,1391.7 1175.8,1392.4 1176.2,1393.5 1176.6,1394.4 1177.0,1395.1 1177.4,1395.8 1177.8,1396.9 1178.2,1397.6 1178.6,1398.2 1179.0,1398.6 1179.4,1398.9 1179.8,1399.1 1180.2,1399.5 1180.6,1399.5 1181.0,1399.8 1181.4,1400.2 1181.8,1400.3 1182.2,1400.4 1182.6,1400.6 1183.0,1400.7 1183.4,1400.7 1183.8,1401.0 1184.2,1401.0 1184.6,1401.2 1185.0,1401.2 1185.4,1401.1 1185.8,1401.0 1186.2,1400.9 1186.6,1400.8 1187.0,1400.8 1187.4,1400.9 1187.8,1400.9 1188.2,1400.5 1188.6,1400.3 1189.0,1400.0 1189.4,1399.4 1189.8,1398.7 1190.2,1398.4 1190.6,1397.5 1191.0,1396.8 1191.4,1396.0 1191.8,1395.5 1192.2,1395.0 1192.6,1394.8 1193.0,1394.6 1193.4,1394.5 1193.8,1394.4 1194.2,1394.6 1194.6,1395.0 1195.0,1395.6 1195.4,1396.4 1195.8,1397.2 1196.2,1397.7 1196.6,1398.0 1197.0,1398.5 1197.4,1398.8 1197.8,1399.1 1198.2,1399.5 1198.6,1399.9 1199.0,1400.0 1199.4,1400.4 1199.8,1400.7 1200.2,1400.9 1200.6,1401.1 1201.0,1401.3 1201.4,1401.2 1201.8,1401.4 1202.2,1401.3 1202.6,1401.4 1203.0,1401.3 1203.4,1401.3 1203.8,1400.7 1204.2,1400.5 1204.6,1400.7 1205.0,1400.9 1205.4,1400.9 1205.8,1401.1 1206.2,1401.4 1206.6,1401.1 1207.0,1401.2 1207.4,1401.1 1207.8,1401.0 1208.2,1400.6 1208.6,1400.9 1209.0,1400.7 1209.4,1401.0 1209.8,1401.0 1210.2,1401.3 1210.6,1401.1 1211.0,1401.1 1211.4,1401.2 1211.8,1401.5 1212.2,1401.6 1212.6,1401.5 1213.0,1401.6 1213.4,1401.5 1213.8,1401.2 1214.2,1401.1 1214.6,1401.1 1215.0,1400.8 1215.4,1400.6 1215.8,1400.6 1216.2,1400.2 1216.6,1400.0 1217.0,1399.9 1217.4,1399.4 1217.8,1398.8 1218.2,1398.2 1218.6,1397.6 1219.0,1396.7 1219.4,1396.1 1219.8,1395.3 1220.2,1394.7 1220.6,1394.0 1221.0,1393.2 1221.4,1392.9 1221.8,1392.6 1222.2,1392.3 1222.6,1392.4 1223.0,1393.1 1223.4,1393.3 1223.8,1394.0 1224.2,1394.8 1224.6,1395.7 1225.0,1396.3 1225.4,1397.2 1225.8,1397.9 1226.2,1398.5 1226.6,1399.0 1227.0,1399.5 1227.4,1399.6 1227.8,1399.9 1228.2,1400.1 1228.6,1400.1 1229.0,1400.3 1229.4,1400.8 1229.8,1400.8 1230.2,1400.9 1230.6,1400.9 1231.0,1401.1 1231.4,1400.8 1231.8,1400.7 1232.2,1400.5 1232.6,1400.6 1233.0,1400.5 1233.4,1400.2 1233.8,1400.2 1234.2,1400.3 1234.6,1400.2 1235.0,1399.8 1235.4,1399.8 1235.8,1399.7 1236.2,1399.2 1236.6,1398.7 1237.0,1398.3 1237.4,1397.6 1237.8,1397.0 1238.2,1396.4 1238.6,1395.6 1239.0,1395.0 1239.4,1394.6 1239.8,1394.0 1240.2,1393.7 1240.6,1393.5 1241.0,1393.7 1241.4,1393.7 1241.8,1394.3 1242.2,1394.8 1242.6,1395.4 1243.0,1395.9 1243.4,1396.6 1243.8,1397.0 1244.2,1397.6 1244.6,1398.2 1245.0,1398.8 1245.4,1399.4 1245.8,1399.7 1246.2,1400.2 1246.6,1400.4 1247.0,1400.4 1247.4,1400.3 1247.8,1400.5 1248.2,1400.3 1248.6,1400.3 1249.0,1400.6 1249.4,1401.0 1249.8,1401.1 1250.2,1401.2 1250.6,1401.4 1251.0,1401.3 1251.4,1401.2 1251.8,1400.9 1252.2,1401.0 1252.6,1400.8 1253.0,1400.6 1253.4,1400.9 1253.8,1401.1 1254.2,1401.0 1254.6,1401.1 1255.0,1401.3 1255.4,1401.0 1255.8,1401.0 1256.2,1401.1 1256.6,1401.2 1257.0,1401.2 1257.4,1401.2 1257.8,1400.9 1258.2,1400.8 1258.6,1400.8 1259.0,1400.7 1259.4,1400.8 1259.8,1401.1 1260.2,1401.3 1260.6,1401.2 1261.0,1401.4 1261.4,1401.7 1261.8,1401.7 1262.2,1401.7 1262.6,1401.9 1263.0,1401.8 1263.4,1401.6 1263.8,1401.6 1264.2,1401.5 1264.6,1401.2 1265.0,1401.2 1265.4,1401.3 1265.8,1401.2 1266.2,1401.3 1266.6,1401.5 1267.0,1401.3 1267.4,1401.1 1267.8,1401.2 1268.2,1401.0 1268.6,1401.0 1269.0,1401.0 1269.4,1401.3 1269.8,1401.4 1270.2,1401.6 1270.6,1401.6 1271.0,1401.9 1271.4,1401.8 1271.8,1401.7 1272.2,1401.7 1272.6,1401.6 1273.0,1401.4 1273.4,1401.2 1273.8,1401.1 1274.2,1401.3 1274.6,1401.2 1275.0,1401.2 1275.4,1401.3 1275.8,1401.4 1276.2,1401.4 1276.6,1401.5 1277.0,1401.4 1277.4,1401.4 1277.8,1401.3 1278.2,1401.1 1278.6,1401.2 1279.0,1401.4 1279.4,1401.3 1279.8,1401.2 1280.2,1401.4 1280.6,1401.7 1281.0,1401.6 1281.4,1401.7 1281.8,1401.6 1282.2,1401.4 1282.6,1401.0 1283.0,1400.9 1283.4,1401.1 1283.8,1401.3 1284.2,1401.3 1284.6,1401.3 1285.0,1401.2 1285.4,1401.2 1285.8,1401.0 1286.2,1401.1 1286.6,1401.0 1287.0,1401.0 1287.4,1400.7 1287.8,1401.0 1288.2,1401.0 1288.6,1401.5 1289.0,1401.5 1289.4,1401.5 1289.8,1401.5 1290.2,1401.5 1290.6,1401.2 1291.0,1401.1 1291.4,1401.4 1291.8,1401.4 1292.2,1401.3 1292.6,1401.3 1293.0,1401.6 1293.4,1401.4 1293.8,1401.3 1294.2,1401.2 1294.6,1401.4 1295.0,1401.3 1295.4,1401.3 1295.8,1401.4 1296.2,1401.5 1296.6,1401.3 1297.0,1401.3 1297.4,1401.5 1297.8,1401.3 1298.2,1401.3 1298.6,1401.5 1299.0,1401.6 1299.4,1401.4 1299.8,1401.3 1300.2,1401.3 1300.6,1400.9 1301.0,1400.6 1301.4,1400.6 1301.8,1400.6 1302.2,1400.7 1302.6,1400.6 1303.0,1401.0 1303.4,1400.9 1303.8,1401.0 1304.2,1401.0 1304.6,1401.1 1305.0,1401.0 1305.4,1400.9 1305.8,1400.5 1306.2,1400.3 1306.6,1399.9 1307.0,1399.6 1307.4,1399.6 1307.8,1399.7 1308.2,1399.4 1308.6,1399.1 1309.0,1398.8 1309.4,1398.4 1309.8,1397.8 1310.2,1397.5 1310.6,1397.1 1311.0,1396.8 1311.4,1396.4 1311.8,1396.4 1312.2,1396.2 1312.6,1396.3 1313.0,1396.2 1313.4,1396.4 1313.8,1396.7 1314.2,1397.0 1314.6,1397.4 1315.0,1397.8 1315.4,1398.3 1315.8,1398.4 1316.2,1398.7 1316.6,1399.0 1317.0,1399.4 1317.4,1399.5 1317.8,1399.9 1318.2,1399.9 1318.6,1400.2 1319.0,1400.3 1319.4,1400.7 1319.8,1400.7 1320.2,1400.8 1320.6,1401.3 1321.0,1401.4 1321.4,1401.3 1321.8,1401.5 1322.2,1401.3 1322.6,1401.1 1323.0,1401.0 1323.4,1400.9 1323.8,1401.0 1324.2,1401.2 1324.6,1400.9 1325.0,1401.0 1325.4,1401.2 1325.8,1401.0 1326.2,1401.1 1326.6,1401.1 1327.0,1400.8 1327.4,1400.9 1327.8,1401.1 1328.2,1401.2 1328.6,1401.4 1329.0,1401.5 1329.4,1401.4 1329.8,1401.1 1330.2,1401.3 1330.6,1401.1 1331.0,1401.2 1331.4,1401.2 1331.8,1401.2 1332.2,1401.2 1332.6,1401.2 1333.0,1401.1 1333.4,1401.1 1333.8,1401.2 1334.2,1400.9 1334.6,1400.9 1335.0,1401.0 1335.4,1401.0 1335.8,1400.9 1336.2,1401.0 1336.6,1401.2 1337.0,1401.0 1337.4,1401.0 1337.8,1401.2 1338.2,1401.2 1338.6,1401.1 1339.0,1401.3 1339.4,1401.3 1339.8,1401.3 1340.2,1401.0 1340.6,1401.1 1341.0,1401.0 1341.4,1400.9 1341.8,1400.5 1342.2,1400.5 1342.6,1400.5 1343.0,1400.4 1343.4,1400.5 1343.8,1400.7 1344.2,1400.8 1344.6,1400.8 1345.0,1400.7 1345.4,1400.7 1345.8,1400.7 1346.2,1400.5 1346.6,1400.5 1347.0,1400.3 1347.4,1400.0 1347.8,1399.8 1348.2,1399.8 1348.6,1399.6 1349.0,1399.6 1349.4,1399.7 1349.8,1399.7 1350.2,1399.3 1350.6,1399.1 1351.0,1398.7 1351.4,1398.0 1351.8,1397.2 1352.2,1396.3 1352.6,1395.0 1353.0,1393.1 1353.4,1390.5 1353.8,1387.0 1354.2,1382.5 1354.6,1376.8 1355.0,1370.0 1355.4,1362.5 1355.8,1355.0 1356.2,1348.7 1356.6,1345.4 1357.0,1346.5 1357.4,1351.3 1357.8,1358.1 1358.2,1366.0 1358.6,1373.3 1359.0,1379.5 1359.4,1384.8 1359.8,1388.7 1360.2,1391.6 1360.6,1393.6 1361.0,1395.3 1361.4,1396.2 1361.8,1397.1 1362.2,1397.7 1362.6,1398.2 1363.0,1398.5 1363.4,1398.8 1363.8,1399.2 1364.2,1399.4 1364.6,1399.5 1365.0,1399.8 1365.4,1399.8 1365.8,1399.9 1366.2,1400.1 1366.6,1400.0 1367.0,1399.9 1367.4,1399.9 1367.8,1399.9 1368.2,1399.8 1368.6,1400.0 1369.0,1400.4 1369.4,1400.5 1369.8,1400.9 1370.2,1401.1 1370.6,1401.3 1371.0,1401.3 1371.4,1401.5 1371.8,1401.4 1372.2,1401.2 1372.6,1401.0 1373.0,1400.8 1373.4,1400.8 1373.8,1400.5 1374.2,1400.6 1374.6,1400.6 1375.0,1400.9 1375.4,1400.9 1375.8,1401.1 1376.2,1401.0 1376.6,1400.9 1377.0,1400.8 1377.4,1400.9 1377.8,1400.8 1378.2,1400.9 1378.6,1401.1 1379.0,1401.1 1379.4,1400.9 1379.8,1401.2 1380.2,1401.2 1380.6,1401.2 1381.0,1401.1 1381.4,1401.3 1381.8,1401.4 1382.2,1401.4 1382.6,1401.5 1383.0,1401.6 1383.4,1401.5 1383.8,1401.4 1384.2,1401.4 1384.6,1401.6 1385.0,1401.7 1385.4,1401.6 1385.8,1401.7 1386.2,1401.5 1386.6,1401.3 1387.0,1401.3 1387.4,1401.3 1387.8,1401.2 1388.2,1401.2 1388.6,1401.2 1389.0,1401.0 1389.4,1401.3 1389.8,1401.4 1390.2,1401.5 1390.6,1401.3 1391.0,1401.6 1391.4,1401.5 1391.8,1401.5 1392.2,1401.5 1392.6,1401.7 1393.0,1401.4 1393.4,1401.5 1393.8,1401.5 1394.2,1401.3 1394.6,1401.2 1395.0,1400.9 1395.4,1400.8 1395.8,1400.8 1396.2,1401.2 1396.6,1401.5 1397.0,1401.7 1397.4,1401.6 1397.8,1401.6 1398.2,1401.5 1398.6,1401.2 1399.0,1401.3 1399.4,1401.3 1399.8,1401.3 1400.2,1401.1 1400.6,1401.1 1401.0,1400.9 1401.4,1400.7 1401.8,1400.4 1402.2,1400.2 1402.6,1400.2 1403.0,1400.1 1403.4,1400.0 1403.8,1399.8 1404.2,1399.3 1404.6,1398.2 1405.0,1396.8 1405.4,1394.8 1405.8,1392.0 1406.2,1388.7 1406.6,1385.4 1407.0,1382.1 1407.4,1380.1 1407.8,1380.1 1408.2,1382.2 1408.6,1385.2 1409.0,1388.6 1409.4,1391.7 1409.8,1394.3 1410.2,1396.3 1410.6,1397.8 1411.0,1398.8 1411.4,1399.5 1411.8,1400.1 1412.2,1400.3 1412.6,1400.5 1413.0,1400.4 1413.4,1400.6 1413.8,1400.7 1414.2,1400.7 1414.6,1400.8 1415.0,1401.1 1415.4,1401.1 1415.8,1400.9 1416.2,1400.9 1416.6,1401.0 1417.0,1400.9 1417.4,1400.8 1417.8,1401.2 1418.2,1401.3 1418.6,1401.2 1419.0,1401.2 1419.4,1401.1 1419.8,1400.7 1420.2,1400.6 1420.6,1400.8 1421.0,1400.6 1421.4,1400.9 1421.8,1401.3 1422.2,1401.4 1422.6,1401.3 1423.0,1401.6 1423.4,1401.7 1423.8,1401.5 1424.2,1401.5 1424.6,1401.5 1425.0,1401.3 1425.4,1401.5 1425.8,1401.3 1426.2,1401.2 1426.6,1401.4 1427.0,1401.5 1427.4,1401.4 1427.8,1401.5 1428.2,1401.5 1428.6,1401.1 1429.0,1401.1 1429.4,1401.1 1429.8,1401.4 1430.2,1401.5 1430.6,1401.8 1431.0,1401.8 1431.4,1401.9 1431.8,1401.7 1432.2,1401.8 1432.6,1401.6 1433.0,1401.6 1433.4,1401.6 1433.8,1401.6 1434.2,1401.5 1434.6,1401.4 1435.0,1401.4 1435.4,1401.3 1435.8,1401.4 1436.2,1401.3 1436.6,1401.3 1437.0,1401.4 1437.4,1401.2 1437.8,1401.2 1438.2,1401.3 1438.6,1401.3 1439.0,1401.0 1439.4,1400.9 1439.8,1400.7 1440.2,1400.6 1440.6,1400.5 1441.0,1400.8 1441.4,1401.0 1441.8,1401.1 1442.2,1400.9 1442.6,1401.2 1443.0,1401.1 1443.4,1401.2 1443.8,1401.1 1444.2,1401.4 1444.6,1401.3 1445.0,1401.3 1445.4,1401.4 1445.8,1401.4 1446.2,1401.6 1446.6,1401.3 1447.0,1401.3 1447.4,1401.3 1447.8,1401.2 1448.2,1401.0 1448.6,1401.0 1449.0,1401.2 1449.4,1400.8 1449.8,1400.9 1450.2,1401.0 1450.6,1401.3 1451.0,1401.3 1451.4,1401.4 1451.8,1401.3 1452.2,1401.2 1452.6,1400.9 1453.0,1400.9 1453.4,1400.9 1453.8,1401.0 1454.2,1400.9 1454.6,1401.1 1455.0,1400.9 1455.4,1401.0 1455.8,1400.8 1456.2,1401.0 1456.6,1401.0 1457.0,1400.7 1457.4,1400.8 1457.8,1400.9 1458.2,1400.7 1458.6,1401.0 1459.0,1401.3 1459.4,1401.1 1459.8,1401.0 1460.2,1401.2 1460.6,1400.9 1461.0,1401.0 1461.4,1401.3 1461.8,1401.2 1462.2,1401.2 1462.6,1401.3 1463.0,1401.1 1463.4,1400.9 1463.8,1401.1 1464.2,1401.1 1464.6,1400.9 1465.0,1400.8 1465.4,1400.8 1465.8,1400.7 1466.2,1400.6 1466.6,1400.9 1467.0,1400.8 1467.4,1400.7 1467.8,1400.8 1468.2,1400.6 1468.6,1400.3 1469.0,1400.5 1469.4,1400.4 1469.8,1400.3 1470.2,1400.6 1470.6,1400.8 1471.0,1400.7 1471.4,1400.9 1471.8,1400.9 1472.2,1400.8 1472.6,1400.7 1473.0,1400.9 1473.4,1400.9 1473.8,1400.9 1474.2,1400.9 1474.6,1400.9 1475.0,1400.4 1475.4,1400.3 1475.8,1400.4 1476.2,1400.3 1476.6,1400.2 1477.0,1400.4 1477.4,1400.6 1477.8,1400.3 1478.2,1400.6 1478.6,1400.6 1479.0,1400.6 1479.4,1400.5 1479.8,1400.5 1480.2,1400.4 1480.6,1400.5 1481.0,1400.1 1481.4,1400.3 1481.8,1400.2 1482.2,1400.2 1482.6,1400.1 1483.0,1399.9 1483.4,1399.5 1483.8,1399.4 1484.2,1399.3 1484.6,1399.5 1485.0,1399.7 1485.4,1399.7 1485.8,1399.5 1486.2,1399.4 1486.6,1399.2 1487.0,1398.8 1487.4,1399.0 1487.8,1399.2 1488.2,1399.3 1488.6,1399.1 1489.0,1399.3 1489.4,1399.1 1489.8,1398.7 1490.2,1398.3 1490.6,1398.2 1491.0,1398.2 1491.4,1398.2 1491.8,1398.4 1492.2,1398.3 1492.6,1398.2 1493.0,1398.1 1493.4,1398.0 1493.8,1397.9 1494.2,1397.9 1494.6,1397.9 1495.0,1397.9 1495.4,1397.6 1495.8,1397.5 1496.2,1397.3 1496.6,1397.3 1497.0,1397.1 1497.4,1397.0 1497.8,1396.8 1498.2,1396.7 1498.6,1396.5 1499.0,1396.2 1499.4,1396.6 1499.8,1396.6 1500.2,1396.4 1500.6,1396.3 1501.0,1396.5 1501.4,1395.8 1501.8,1395.6 1502.2,1395.7 1502.6,1395.7 1503.0,1395.5 1503.4,1395.6 1503.8,1395.6 1504.2,1395.4 1504.6,1395.4 1505.0,1395.3 1505.4,1395.4 1505.8,1395.5 1506.2,1395.4 1506.6,1395.3 1507.0,1395.2 1507.4,1395.1 1507.8,1394.8 1508.2,1394.6 1508.6,1394.5 1509.0,1394.5 1509.4,1394.5 1509.8,1394.6 1510.2,1395.1 1510.6,1395.4 1511.0,1395.3 1511.4,1395.4 1511.8,1395.6 1512.2,1395.2 1512.6,1395.2 1513.0,1395.4 1513.4,1395.6 1513.8,1395.4 1514.2,1395.7 1514.6,1395.4 1515.0,1395.4 1515.4,1395.4 1515.8,1395.6 1516.2,1395.4 1516.6,1395.7 1517.0,1395.9 1517.4,1395.8 1517.8,1395.8 1518.2,1396.0 1518.6,1395.9 1519.0,1396.1 1519.4,1396.2 1519.8,1396.5 1520.2,1396.7 1520.6,1396.7 1521.0,1396.7 1521.4,1397.0 1521.8,1396.9 1522.2,1396.9 1522.6,1397.1 1523.0,1397.0 1523.4,1396.9 1523.8,1397.2 1524.2,1397.4 1524.6,1397.6 1525.0,1397.9 1525.4,1397.8 1525.8,1397.9 1526.2,1397.9 1526.6,1397.9 1527.0,1397.9 1527.4,1398.1 1527.8,1398.2 1528.2,1398.2 1528.6,1398.1 1529.0,1398.2 1529.4,1398.3 1529.8,1398.3 1530.2,1398.6 1530.6,1398.8 1531.0,1398.9 1531.4,1399.3 1531.8,1399.2 1532.2,1399.2 1532.6,1399.4 1533.0,1399.6 1533.4,1399.7 1533.8,1399.8 1534.2,1399.9 1534.6,1399.8 1535.0,1399.7 1535.4,1399.4 1535.8,1399.4 1536.2,1399.4 1536.6,1399.5 1537.0,1399.5 1537.4,1399.7 1537.8,1399.9 1538.2,1399.8 1538.6,1399.4 1539.0,1399.7 1539.4,1399.8 1539.8,1399.8 1540.2,1400.0 1540.6,1400.1 1541.0,1400.1 1541.4,1400.1 1541.8,1400.2 1542.2,1400.3 1542.6,1400.3 1543.0,1400.1 1543.4,1400.2 1543.8,1400.0 1544.2,1400.0 1544.6,1400.3 1545.0,1400.4 1545.4,1400.4 1545.8,1400.6 1546.2,1400.7 1546.6,1400.5 1547.0,1400.7 1547.4,1400.7 1547.8,1400.9 1548.2,1401.0 1548.6,1401.1 1549.0,1401.0 1549.4,1401.0 1549.8,1400.7 1550.2,1400.7 1550.6,1400.7 1551.0,1400.9 1551.4,1401.0 1551.8,1401.1 1552.2,1401.1 1552.6,1401.2 1553.0,1401.0 1553.4,1401.0 1553.8,1401.1 1554.2,1401.1 1554.6,1401.1 1555.0,1401.3 1555.4,1401.5 1555.8,1401.5 1556.2,1401.4 1556.6,1401.3 1557.0,1401.2 1557.4,1401.1 1557.8,1401.0 1558.2,1401.4 1558.6,1401.5 1559.0,1401.4 1559.4,1401.2 1559.8,1401.0 1560.2,1400.9 1560.6,1400.8 1561.0,1400.9 1561.4,1400.8 1561.8,1401.0 1562.2,1400.9 1562.6,1400.8 1563.0,1400.8 1563.4,1400.9 1563.8,1401.2 1564.2,1401.1 1564.6,1401.0 1565.0,1401.0 1565.4,1401.0 1565.8,1400.7 1566.2,1400.8 1566.6,1400.8 1567.0,1400.9 1567.4,1400.9 1567.8,1400.8 1568.2,1401.0 1568.6,1401.4 1569.0,1401.2 1569.4,1401.1 1569.8,1401.4 1570.2,1401.3 1570.6,1401.3 1571.0,1401.3 1571.4,1401.2 1571.8,1401.1 1572.2,1401.0 1572.6,1400.7 1573.0,1400.9 1573.4,1401.1 1573.8,1401.3 1574.2,1401.0 1574.6,1401.2 1575.0,1401.2 1575.4,1401.1 1575.8,1401.1 1576.2,1401.2 1576.6,1401.4 1577.0,1401.3 1577.4,1401.6 1577.8,1401.6 1578.2,1401.6 1578.6,1401.4 1579.0,1401.5 1579.4,1401.2 1579.8,1401.1 1580.2,1401.3 1580.6,1401.2 1581.0,1401.2 1581.4,1401.4 1581.8,1401.3 1582.2,1401.1 1582.6,1401.4 1583.0,1401.3 1583.4,1401.2 1583.8,1401.4 1584.2,1401.6 1584.6,1401.2 1585.0,1401.2 1585.4,1401.2 1585.8,1401.0 1586.2,1401.0 1586.6,1401.3 1587.0,1401.4 1587.4,1401.4 1587.8,1401.5 1588.2,1401.6 1588.6,1401.3 1589.0,1401.6 1589.4,1401.5 1589.8,1401.5 1590.2,1401.1 1590.6,1401.3 1591.0,1400.9 1591.4,1401.1 1591.8,1401.1 1592.2,1401.3 1592.6,1401.3 1593.0,1401.5 1593.4,1401.3 1593.8,1401.1 1594.2,1401.0 1594.6,1401.1 1595.0,1401.1 1595.4,1401.1 1595.8,1401.2 1596.2,1401.3 1596.6,1401.4 1597.0,1401.3 1597.4,1401.5 1597.8,1401.7 1598.2,1401.6 1598.6,1401.4 1599.0,1401.5 1599.4,1401.4 1599.8,1401.2 1600.2,1401.2 1600.6,1401.1 1601.0,1401.1 1601.4,1401.2 1601.8,1401.0 1602.2,1401.1 1602.6,1401.1 1603.0,1401.1 1603.4,1401.2 1603.8,1401.5 1604.2,1401.4 1604.6,1401.4 1605.0,1401.1 1605.4,1401.0 1605.8,1400.9 1606.2,1400.9 1606.6,1400.9 1607.0,1400.9 1607.4,1400.7 1607.8,1400.7 1608.2,1401.0 1608.6,1401.0 1609.0,1401.3 1609.4,1401.4 1609.8,1401.1 1610.2,1401.0 1610.6,1401.2 1611.0,1401.0 1611.4,1401.0 1611.8,1401.3 1612.2,1401.1 1612.6,1401.1 1613.0,1401.1 1613.4,1401.0 1613.8,1400.5 1614.2,1400.3 1614.6,1400.1 1615.0,1400.0 1615.4,1399.8 1615.8,1399.7 1616.2,1399.9 1616.6,1399.5 1617.0,1399.2 1617.4,1399.1 1617.8,1398.7 1618.2,1397.7 1618.6,1397.1 1619.0,1395.8 1619.4,1394.6 1619.8,1393.0 1620.2,1391.5 1620.6,1389.7 1621.0,1388.2 1621.4,1386.4 1621.8,1385.4 1622.2,1384.8"/>
<polyline fill="none" stroke="#FF0000" stroke-width="6.8" stroke-linejoin="round" stroke-linecap="round" points="535.0,1785.3 535.4,1785.6 535.8,1785.7 536.2,1785.5 536.6,1785.6 537.0,1785.1 537.4,1785.0 537.8,1785.0 538.2,1785.0 538.6,1785.2 539.0,1785.5 539.4,1785.9 539.8,1785.9 540.2,1785.6 540.6,1785.7 541.0,1785.3 541.4,1785.4 541.8,1785.6 542.2,1785.0 542.6,1785.3 543.0,1784.9 543.4,1785.0 543.8,1785.2 544.2,1785.6 544.6,1785.4 545.0,1785.3 545.4,1785.1 545.8,1785.0 546.2,1784.9 546.6,1784.9 547.0,1785.1 547.4,1784.6 547.8,1785.3 548.2,1785.4 548.6,1785.5 549.0,1786.0 549.4,1785.6 549.8,1785.4 550.2,1785.2 550.6,1785.1 551.0,1785.5 551.4,1785.5 551.8,1785.4 552.2,1785.1 552.6,1784.8 553.0,1784.9 553.4,1785.0 553.8,1785.6 554.2,1785.6 554.6,1785.6 555.0,1785.7 555.4,1785.1 555.8,1785.1 556.2,1785.2 556.6,1785.2 557.0,1785.2 557.4,1785.5 557.8,1785.4 558.2,1785.3 558.6,1785.7 559.0,1785.6 559.4,1785.9 559.8,1785.9 560.2,1785.7 560.6,1785.6 561.0,1785.2 561.4,1785.4 561.8,1785.2 562.2,1784.9 562.6,1785.5 563.0,1785.2 563.4,1785.2 563.8,1785.8 564.2,1785.3 564.6,1785.5 565.0,1785.6 565.4,1785.2 565.8,1784.9 566.2,1784.3 566.6,1784.2 567.0,1784.3 567.4,1784.7 567.8,1785.6 568.2,1785.6 568.6,1785.8 569.0,1785.5 569.4,1785.0 569.8,1784.9 570.2,1784.3 570.6,1784.3 571.0,1784.1 571.4,1784.3 571.8,1784.5 572.2,1784.9 572.6,1785.1 573.0,1785.1 573.4,1785.5 573.8,1785.3 574.2,1785.2 574.6,1785.1 575.0,1784.8 575.4,1784.9 575.8,1785.0 576.2,1785.1 576.6,1785.2 577.0,1784.8 577.4,1784.7 577.8,1784.3 578.2,1784.3 578.6,1784.4 579.0,1784.2 579.4,1784.5 579.8,1784.1 580.2,1783.9 580.6,1783.9 581.0,1783.7 581.4,1783.3 581.8,1783.2 582.2,1782.3 582.6,1782.3 583.0,1782.0 583.4,1781.5 583.8,1781.7 584.2,1781.0 584.6,1779.9 585.0,1778.5 585.4,1775.9 585.8,1772.2 586.2,1766.7 586.6,1758.8 587.0,1748.3 587.4,1734.7 587.8,1719.5 588.2,1704.3 588.6,1691.7 589.0,1686.8 589.4,1690.8 589.8,1702.7 590.2,1718.6 590.6,1733.8 591.0,1747.9 591.4,1758.8 591.8,1766.3 592.2,1771.9 592.6,1775.3 593.0,1777.3 593.4,1778.8 593.8,1779.9 594.2,1780.8 594.6,1781.7 595.0,1782.1 595.4,1782.7 595.8,1782.7 596.2,1782.8 596.6,1783.3 597.0,1783.3 597.4,1783.6 597.8,1783.9 598.2,1783.8 598.6,1783.8 599.0,1783.9 599.4,1784.1 599.8,1784.3 600.2,1784.9 600.6,1785.1 601.0,1784.3 601.4,1784.3 601.8,1784.3 602.2,1784.3 602.6,1784.9 603.0,1784.8 603.4,1784.8 603.8,1785.0 604.2,1785.3 604.6,1785.6 605.0,1785.6 605.4,1785.6 605.8,1785.3 606.2,1785.4 606.6,1785.1 607.0,1784.9 607.4,1785.4 607.8,1785.2 608.2,1784.6 608.6,1785.0 609.0,1785.0 609.4,1785.0 609.8,1785.5 610.2,1785.3 610.6,1784.8 611.0,1784.9 611.4,1785.0 611.8,1784.9 612.2,1784.9 612.6,1784.8 613.0,1785.0 613.4,1785.4 613.8,1785.7 614.2,1785.8 614.6,1785.4 615.0,1785.3 615.4,1785.5 615.8,1785.2 616.2,1785.6 616.6,1785.1 617.0,1784.7 617.4,1785.1 617.8,1784.6 618.2,1784.7 618.6,1784.8 619.0,1784.9 619.4,1785.1 619.8,1785.7 620.2,1785.5 620.6,1785.7 621.0,1785.8 621.4,1785.6 621.8,1785.8 622.2,1785.6 622.6,1785.9 623.0,1786.3 623.4,1786.3 623.8,1786.2 624.2,1785.6 624.6,1785.0 625.0,1784.9 625.4,1784.9 625.8,1785.1 626.2,1785.3 626.6,1785.4 627.0,1785.2 627.4,1785.0 627.8,1785.2 628.2,1785.3 628.6,1785.4 629.0,1785.9 629.4,1785.5 629.8,1785.3 630.2,1785.1 630.6,1785.0 631.0,1785.1 631.4,1785.4 631.8,1785.9 632.2,1785.7 632.6,1785.8 633.0,1785.8 633.4,1785.6 633.8,1785.6 634.2,1785.5 634.6,1785.5 635.0,1785.7 635.4,1786.1 635.8,1786.1 636.2,1786.2 636.6,1785.9 637.0,1785.6 637.4,1785.6 637.8,1785.7 638.2,1786.0 638.6,1785.8 639.0,1785.9 639.4,1785.6 639.8,1785.4 640.2,1785.5 640.6,1785.2 641.0,1785.6 641.4,1785.7 641.8,1786.0 642.2,1785.9 642.6,1785.2 643.0,1785.1 643.4,1784.9 643.8,1785.3 644.2,1785.3 644.6,1785.4 645.0,1785.8 645.4,1785.4 645.8,1785.8 646.2,1785.5 646.6,1785.3 647.0,1785.5 647.4,1785.7 647.8,1785.8 648.2,1785.7 648.6,1785.9 649.0,1785.3 649.4,1785.4 649.8,1785.2 650.2,1784.9 650.6,1785.2 651.0,1785.4 651.4,1786.1 651.8,1786.5 652.2,1786.6 652.6,1786.4 653.0,1785.8 653.4,1785.6 653.8,1784.9 654.2,1785.2 654.6,1785.2 655.0,1784.9 655.4,1785.3 655.8,1785.1 656.2,1785.5 656.6,1785.6 657.0,1785.8 657.4,1785.6 657.8,1785.2 658.2,1785.3 658.6,1785.2 659.0,1784.9 659.4,1785.3 659.8,1785.0 660.2,1785.0 660.6,1785.1 661.0,1784.7 661.4,1784.9 661.8,1785.0 662.2,1785.0 662.6,1785.1 663.0,1785.5 663.4,1785.2 663.8,1785.5 664.2,1785.7 664.6,1785.2 665.0,1785.5 665.4,1785.3 665.8,1785.3 666.2,1785.5 666.6,1785.2 667.0,1785.6 667.4,1785.4 667.8,1785.4 668.2,1785.4 668.6,1785.0 669.0,1785.0 669.4,1785.1 669.8,1785.5 670.2,1785.3 670.6,1785.3 671.0,1785.5 671.4,1785.3 671.8,1785.6 672.2,1786.0 672.6,1785.8 673.0,1785.9 673.4,1785.8 673.8,1785.8 674.2,1786.0 674.6,1785.7 675.0,1785.9 675.4,1785.3 675.8,1785.3 676.2,1785.6 676.6,1785.4 677.0,1785.6 677.4,1785.0 677.8,1785.0 678.2,1785.0 678.6,1785.0 679.0,1785.5 679.4,1785.2 679.8,1785.1 680.2,1785.1 680.6,1784.7 681.0,1785.3 681.4,1785.3 681.8,1785.4 682.2,1785.9 682.6,1784.7 683.0,1784.8 683.4,1784.8 683.8,1784.5 684.2,1785.2 684.6,1784.8 685.0,1784.8 685.4,1785.1 685.8,1784.6 686.2,1784.7 686.6,1784.7 687.0,1784.5 687.4,1784.8 687.8,1785.1 688.2,1785.2 688.6,1784.9 689.0,1785.0 689.4,1784.7 689.8,1784.2 690.2,1784.0 690.6,1784.2 691.0,1784.4 691.4,1785.2 691.8,1785.4 692.2,1785.1 692.6,1785.2 693.0,1784.8 693.4,1785.2 693.8,1785.3 694.2,1785.1 694.6,1784.7 695.0,1784.4 695.4,1784.7 695.8,1785.0 696.2,1785.7 696.6,1785.8 697.0,1785.4 697.4,1785.1 697.8,1784.9 698.2,1785.0 698.6,1785.1 699.0,1785.7 699.4,1785.4 699.8,1785.5 700.2,1785.2 700.6,1785.0 701.0,1785.1 701.4,1784.9 701.8,1785.3 702.2,1785.4 702.6,1785.4 703.0,1785.4 703.4,1785.1 703.8,1784.8 704.2,1784.6 704.6,1784.6 705.0,1784.9 705.4,1784.9 705.8,1785.0 706.2,1785.2 706.6,1785.6 707.0,1785.1 707.4,1785.5 707.8,1785.8 708.2,1785.3 708.6,1785.8 709.0,1785.2 709.4,1784.8 709.8,1784.9 710.2,1784.8 710.6,1784.9 711.0,1784.7 711.4,1784.6 711.8,1784.4 712.2,1784.5 712.6,1784.6 713.0,1784.5 713.4,1784.6 713.8,1784.8 714.2,1784.3 714.6,1784.6 715.0,1784.5 715.4,1784.1 715.8,1784.3 716.2,1784.1 716.6,1784.1 717.0,1784.4 717.4,1784.4 717.8,1784.7 718.2,1784.7 718.6,1784.8 719.0,1785.2 719.4,1784.8 719.8,1785.1 720.2,1785.4 720.6,1785.1 721.0,1785.5 721.4,1785.2 721.8,1784.8 722.2,1784.8 722.6,1784.6 723.0,1784.8 723.4,1784.9 723.8,1785.0 724.2,1785.3 724.6,1785.4 725.0,1785.3 725.4,1785.2 725.8,1785.2 726.2,1785.3 726.6,1784.7 727.0,1784.6 727.4,1784.0 727.8,1783.9 728.2,1784.6 728.6,1784.7 729.0,1784.8 729.4,1784.7 729.8,1784.2 730.2,1784.3 730.6,1784.1 731.0,1784.0 731.4,1784.2 731.8,1783.8 732.2,1783.6 732.6,1783.5 733.0,1783.5 733.4,1783.6 733.8,1783.9 734.2,1783.8 734.6,1783.4 735.0,1783.3 735.4,1783.0 735.8,1782.9 736.2,1783.3 736.6,1783.4 737.0,1783.5 737.4,1783.6 737.8,1783.2 738.2,1783.2 738.6,1782.8 739.0,1782.6 739.4,1782.3 739.8,1782.0 740.2,1781.8 740.6,1781.7 741.0,1782.1 741.4,1782.4 741.8,1782.5 742.2,1782.2 742.6,1781.9 743.0,1781.2 743.4,1780.7 743.8,1780.5 744.2,1780.1 744.6,1779.7 745.0,1779.9 745.4,1779.6 745.8,1779.3 746.2,1779.3 746.6,1778.6 747.0,1778.2 747.4,1777.9 747.8,1777.5 748.2,1777.3 748.6,1777.2 749.0,1776.8 749.4,1776.1 749.8,1775.6 750.2,1774.7 750.6,1774.1 751.0,1773.4 751.4,1772.6 751.8,1772.3 752.2,1772.1 752.6,1771.5 753.0,1771.7 753.4,1771.5 753.8,1771.3 754.2,1772.1 754.6,1771.8 755.0,1772.0 755.4,1772.0 755.8,1771.8 756.2,1771.7 756.6,1771.7 757.0,1771.4 757.4,1770.9 757.8,1771.1 758.2,1770.8 758.6,1769.9 759.0,1769.7 759.4,1769.3 759.8,1769.1 760.2,1769.0 760.6,1768.2 761.0,1767.1 761.4,1766.3 761.8,1765.6 762.2,1765.3 762.6,1764.6 763.0,1764.2 763.4,1763.9 763.8,1764.0 764.2,1764.5 764.6,1764.9 765.0,1765.4 765.4,1765.7 765.8,1765.6 766.2,1765.7 766.6,1766.0 767.0,1766.1 767.4,1766.0 767.8,1765.6 768.2,1765.3 768.6,1765.4 769.0,1765.5 769.4,1765.1 769.8,1764.1 770.2,1762.1 770.6,1759.0 771.0,1754.6 771.4,1748.5 771.8,1740.8 772.2,1732.3 772.6,1723.4 773.0,1715.8 773.4,1711.9 773.8,1713.4 774.2,1720.3 774.6,1729.4 775.0,1739.2 775.4,1748.1 775.8,1754.3 776.2,1759.8 776.6,1763.0 777.0,1764.9 777.4,1766.9 777.8,1767.7 778.2,1768.4 778.6,1769.0 779.0,1769.1 779.4,1769.4 779.8,1769.3 780.2,1769.3 780.6,1769.1 781.0,1768.6 781.4,1768.5 781.8,1767.8 782.2,1768.0 782.6,1768.2 783.0,1768.3 783.4,1769.3 783.8,1769.2 784.2,1770.3 784.6,1770.7 785.0,1771.5 785.4,1772.7 785.8,1773.3 786.2,1774.3 786.6,1774.7 787.0,1775.3 787.4,1775.1 787.8,1775.6 788.2,1776.2 788.6,1776.9 789.0,1777.6 789.4,1777.8 789.8,1777.9 790.2,1777.5 790.6,1777.6 791.0,1777.8 791.4,1777.6 791.8,1777.5 792.2,1777.0 792.6,1776.3 793.0,1775.7 793.4,1774.2 793.8,1772.5 794.2,1770.0 794.6,1766.7 795.0,1762.9 795.4,1758.0 795.8,1752.2 796.2,1746.1 796.6,1741.2 797.0,1738.3 797.4,1738.0 797.8,1740.8 798.2,1745.0 798.6,1750.2 799.0,1756.3 799.4,1761.3 799.8,1766.4 800.2,1770.6 800.6,1773.5 801.0,1776.5 801.4,1778.0 801.8,1779.2 802.2,1779.7 802.6,1779.8 803.0,1780.4 803.4,1780.8 803.8,1781.5 804.2,1782.0 804.6,1782.2 805.0,1782.1 805.4,1782.3 805.8,1782.5 806.2,1782.6 806.6,1782.9 807.0,1783.3 807.4,1783.6 807.8,1784.1 808.2,1784.5 808.6,1784.2 809.0,1784.0 809.4,1783.9 809.8,1783.8 810.2,1783.7 810.6,1783.8 811.0,1783.7 811.4,1784.0 811.8,1783.9 812.2,1784.4 812.6,1784.2 813.0,1784.0 813.4,1784.3 813.8,1783.6 814.2,1783.7 814.6,1783.8 815.0,1782.9 815.4,1782.9 815.8,1782.7 816.2,1782.5 816.6,1783.0 817.0,1782.9 817.4,1783.1 817.8,1783.1 818.2,1782.7 818.6,1782.0 819.0,1781.3 819.4,1780.1 819.8,1779.1 820.2,1778.7 820.6,1777.9 821.0,1777.1 821.4,1776.4 821.8,1776.0 822.2,1775.8 822.6,1776.4 823.0,1776.6 823.4,1776.7 823.8,1777.3 824.2,1777.6 824.6,1778.7 825.0,1779.8 825.4,1780.6 825.8,1781.4 826.2,1782.1 826.6,1782.7 827.0,1783.1 827.4,1783.2 827.8,1783.6 828.2,1783.8 828.6,1784.0 829.0,1784.4 829.4,1783.9 829.8,1784.1 830.2,1784.0 830.6,1783.7 831.0,1784.4 831.4,1784.2 831.8,1784.4 832.2,1784.9 832.6,1785.0 833.0,1784.7 833.4,1784.5 833.8,1784.5 834.2,1784.0 834.6,1783.8 835.0,1784.0 835.4,1783.9 835.8,1784.2 836.2,1784.9 836.6,1784.8 837.0,1784.8 837.4,1784.6 837.8,1784.5 838.2,1784.6 838.6,1784.6 839.0,1784.4 839.4,1784.7 839.8,1784.9 840.2,1784.9 840.6,1784.6 841.0,1784.4 841.4,1784.2 841.8,1783.8 842.2,1784.5 842.6,1784.1 843.0,1784.4 843.4,1784.7 843.8,1784.4 844.2,1785.0 844.6,1784.8 845.0,1784.8 845.4,1784.6 845.8,1784.4 846.2,1784.6 846.6,1784.7 847.0,1784.7 847.4,1784.8 847.8,1784.8 848.2,1784.8 848.6,1784.9 849.0,1784.3 849.4,1783.7 849.8,1783.4 850.2,1783.4 850.6,1783.8 851.0,1783.7 851.4,1783.4 851.8,1783.2 852.2,1782.7 852.6,1783.0 853.0,1782.9 853.4,1783.0 853.8,1783.2 854.2,1782.5 854.6,1782.7 855.0,1782.3 855.4,1781.7 855.8,1781.2 856.2,1780.5 856.6,1780.1 857.0,1778.9 857.4,1777.8 857.8,1775.6 858.2,1771.9 858.6,1767.4 859.0,1760.4 859.4,1751.3 859.8,1740.2 860.2,1727.4 860.6,1715.7 861.0,1707.2 861.4,1705.0 861.8,1710.4 862.2,1720.8 862.6,1733.2 863.0,1745.6 863.4,1756.4 863.8,1764.8 864.2,1770.6 864.6,1774.6 865.0,1777.0 865.4,1778.3 865.8,1779.8 866.2,1780.4 866.6,1781.0 867.0,1781.5 867.4,1781.6 867.8,1782.0 868.2,1782.2 868.6,1782.3 869.0,1782.4 869.4,1782.3 869.8,1782.3 870.2,1782.7 870.6,1782.8 871.0,1782.5 871.4,1783.0 871.8,1783.2 872.2,1783.5 872.6,1784.5 873.0,1784.0 873.4,1783.7 873.8,1783.4 874.2,1783.1 874.6,1783.1 875.0,1783.2 875.4,1783.3 875.8,1782.9 876.2,1783.0 876.6,1783.3 877.0,1782.9 877.4,1783.2 877.8,1783.1 878.2,1782.5 878.6,1782.3 879.0,1782.1 879.4,1781.9 879.8,1782.2 880.2,1782.3 880.6,1782.2 881.0,1782.2 881.4,1782.0 881.8,1781.7 882.2,1781.5 882.6,1781.1 883.0,1781.3 883.4,1780.8 883.8,1780.7 884.2,1780.3 884.6,1779.6 885.0,1779.9 885.4,1779.5 885.8,1779.8 886.2,1779.4 886.6,1778.8 887.0,1778.3 887.4,1777.6 887.8,1777.2 888.2,1776.6 888.6,1776.1 889.0,1775.6 889.4,1774.9 889.8,1774.1 890.2,1773.0 890.6,1771.4 891.0,1769.6 891.4,1767.7 891.8,1765.6 892.2,1762.7 892.6,1759.6 893.0,1755.1 893.4,1748.8 893.8,1741.0 894.2,1730.5 894.6,1717.2 895.0,1700.5 895.4,1680.3 895.8,1656.2 896.2,1627.9 896.6,1597.5 897.0,1565.3 897.4,1534.0 897.8,1508.1 898.2,1490.2 898.6,1483.9 899.0,1490.5 899.4,1508.8 899.8,1534.8 900.2,1565.4 900.6,1597.6 901.0,1628.0 901.4,1655.7 901.8,1679.9 902.2,1700.1 902.6,1717.0 903.0,1730.8 903.4,1741.7 903.8,1749.9 904.2,1755.7 904.6,1760.3 905.0,1763.6 905.4,1766.1 905.8,1768.2 906.2,1769.8 906.6,1771.3 907.0,1772.8 907.4,1773.9 907.8,1775.1 908.2,1775.5 908.6,1776.0 909.0,1777.1 909.4,1777.5 909.8,1778.1 910.2,1778.7 910.6,1779.1 911.0,1779.3 911.4,1779.7 911.8,1780.1 912.2,1779.8 912.6,1779.9 913.0,1780.0 913.4,1779.8 913.8,1780.2 914.2,1780.4 914.6,1780.4 915.0,1780.5 915.4,1780.9 915.8,1780.7 916.2,1781.0 916.6,1780.8 917.0,1780.0 917.4,1779.2 917.8,1778.1 918.2,1776.5 918.6,1774.6 919.0,1771.6 919.4,1767.0 919.8,1761.6 920.2,1755.5 920.6,1750.1 921.0,1748.0 921.4,1749.1 921.8,1752.8 922.2,1758.6 922.6,1764.4 923.0,1769.4 923.4,1774.0 923.8,1777.1 924.2,1778.6 924.6,1779.8 925.0,1780.5 925.4,1781.1 925.8,1781.7 926.2,1782.4 926.6,1783.2 927.0,1783.5 927.4,1783.9 927.8,1783.8 928.2,1783.4 928.6,1783.8 929.0,1783.9 929.4,1784.3 929.8,1784.5 930.2,1783.8 930.6,1784.0 931.0,1783.4 931.4,1783.5 931.8,1783.8 932.2,1783.6 932.6,1784.3 933.0,1784.5 933.4,1784.2 933.8,1784.4 934.2,1783.9 934.6,1783.9 935.0,1784.3 935.4,1783.9 935.8,1784.2 936.2,1783.8 936.6,1783.9 937.0,1784.4 937.4,1784.6 937.8,1784.9 938.2,1785.2 938.6,1785.1 939.0,1785.4 939.4,1785.5 939.8,1785.2 940.2,1785.1 940.6,1784.5 941.0,1784.3 941.4,1784.4 941.8,1784.6 942.2,1785.0 942.6,1785.0 943.0,1785.2 943.4,1784.9 943.8,1784.6 944.2,1784.1 944.6,1783.9 945.0,1783.9 945.4,1784.6 945.8,1784.8 946.2,1785.0 946.6,1785.0 947.0,1784.2 947.4,1784.5 947.8,1784.5 948.2,1784.3 948.6,1784.1 949.0,1784.1 949.4,1783.8 949.8,1784.2 950.2,1784.6 950.6,1784.7 951.0,1785.0 951.4,1785.1 951.8,1785.3 952.2,1785.5 952.6,1785.5 953.0,1785.0 953.4,1784.5 953.8,1784.0 954.2,1784.0 954.6,1783.9 955.0,1784.6 955.4,1784.5 955.8,1784.4 956.2,1784.3 956.6,1783.3 957.0,1783.3 957.4,1783.1 957.8,1783.0 958.2,1782.8 958.6,1782.4 959.0,1782.1 959.4,1782.2 959.8,1782.1 960.2,1782.4 960.6,1782.9 961.0,1782.8 961.4,1783.2 961.8,1783.6 962.2,1783.6 962.6,1784.2 963.0,1784.7 963.4,1784.9 963.8,1785.0 964.2,1784.4 964.6,1784.5 965.0,1784.3 965.4,1784.5 965.8,1784.9 966.2,1785.2 966.6,1785.3 967.0,1785.4 967.4,1785.7 967.8,1785.4 968.2,1785.5 968.6,1785.4 969.0,1785.0 969.4,1785.3 969.8,1785.1 970.2,1784.8 970.6,1784.9 971.0,1784.6 971.4,1784.8 971.8,1785.1 972.2,1785.1 972.6,1784.6 973.0,1784.7 973.4,1785.2 973.8,1785.1 974.2,1785.2 974.6,1785.2 975.0,1784.8 975.4,1784.2 975.8,1784.4 976.2,1783.9 976.6,1783.7 977.0,1785.0 977.4,1785.3 977.8,1785.6 978.2,1785.9 978.6,1785.8 979.0,1785.3 979.4,1785.5 979.8,1785.4 980.2,1785.3 980.6,1785.5 981.0,1785.2 981.4,1785.6 981.8,1785.5 982.2,1785.9 982.6,1785.9 983.0,1785.8 983.4,1785.5 983.8,1785.4 984.2,1785.3 984.6,1785.3 985.0,1785.7 985.4,1785.5 985.8,1785.8 986.2,1785.8 986.6,1785.6 987.0,1785.7 987.4,1785.5 987.8,1785.1 988.2,1785.3 988.6,1784.9 989.0,1785.4 989.4,1785.8 989.8,1786.2 990.2,1786.7 990.6,1786.4 991.0,1786.5 991.4,1785.6 991.8,1785.4 992.2,1785.2 992.6,1785.0 993.0,1784.9 993.4,1784.4 993.8,1784.6 994.2,1784.6 994.6,1785.0 995.0,1785.4 995.4,1785.1 995.8,1785.0 996.2,1785.2 996.6,1785.2 997.0,1785.5 997.4,1785.4 997.8,1784.9 998.2,1784.8 998.6,1784.6 999.0,1784.6 999.4,1784.8 999.8,1784.9 1000.2,1785.1 1000.6,1785.5 1001.0,1785.8 1001.4,1785.8 1001.8,1785.6 1002.2,1785.7 1002.6,1785.5 1003.0,1785.7 1003.4,1785.5 1003.8,1785.4 1004.2,1785.4 1004.6,1785.6 1005.0,1785.7 1005.4,1786.0 1005.8,1785.9 1006.2,1785.5 1006.6,1785.5 1007.0,1785.2 1007.4,1785.5 1007.8,1785.6 1008.2,1785.5 1008.6,1785.3 1009.0,1785.0 1009.4,1784.6 1009.8,1784.9 1010.2,1785.2 1010.6,1785.1 1011.0,1785.4 1011.4,1785.2 1011.8,1784.8 1012.2,1785.1 1012.6,1785.2 1013.0,1785.3 1013.4,1785.2 1013.8,1784.8 1014.2,1784.6 1014.6,1784.2 1015.0,1784.5 1015.4,1785.0 1015.8,1785.3 1016.2,1785.7 1016.6,1785.1 1017.0,1785.2 1017.4,1784.9 1017.8,1785.1 1018.2,1786.1 1018.6,1785.9 1019.0,1786.3 1019.4,1786.1 1019.8,1785.4 1020.2,1785.1 1020.6,1784.8 1021.0,1784.7 1021.4,1785.2 1021.8,1785.4 1022.2,1785.8 1022.6,1785.7 1023.0,1785.2 1023.4,1785.2 1023.8,1785.0 1024.2,1784.8 1024.6,1785.3 1025.0,1785.1 1025.4,1784.9 1025.8,1785.3 1026.2,1784.8 1026.6,1785.2 1027.0,1785.4 1027.4,1785.4 1027.8,1785.7 1028.2,1785.4 1028.6,1785.2 1029.0,1785.2 1029.4,1785.5 1029.8,1785.7 1030.2,1785.9 1030.6,1786.1 1031.0,1786.1 1031.4,1785.7 1031.8,1785.6 1032.2,1785.6 1032.6,1785.2 1033.0,1785.4 1033.4,1785.5 1033.8,1785.2 1034.2,1785.6 1034.6,1785.6 1035.0,1785.6 1035.4,1786.2 1035.8,1786.2 1036.2,1786.0 1036.6,1785.6 1037.0,1784.9 1037.4,1784.7 1037.8,1784.7 1038.2,1785.0 1038.6,1785.6 1039.0,1785.9 1039.4,1786.0 1039.8,1785.8 1040.2,1785.4 1040.6,1784.9 1041.0,1785.4 1041.4,1785.3 1041.8,1785.2 1042.2,1785.4 1042.6,1785.1 1043.0,1785.6 1043.4,1786.1 1043.8,1786.0 1044.2,1785.5 1044.6,1785.3 1045.0,1785.2 1045.4,1785.6 1045.8,1785.7 1046.2,1785.3 1046.6,1785.5 1047.0,1785.4 1047.4,1786.0 1047.8,1786.2 1048.2,1786.2 1048.6,1785.7 1049.0,1785.2 1049.4,1785.2 1049.8,1785.0 1050.2,1785.2 1050.6,1785.7 1051.0,1785.4 1051.4,1785.4 1051.8,1785.3 1052.2,1784.8 1052.6,1785.1 1053.0,1785.1 1053.4,1785.1 1053.8,1785.1 1054.2,1785.1 1054.6,1784.8 1055.0,1784.8 1055.4,1784.9 1055.8,1784.9 1056.2,1785.3 1056.6,1785.2 1057.0,1785.0 1057.4,1785.3 1057.8,1785.4 1058.2,1785.5 1058.6,1785.5 1059.0,1785.5 1059.4,1785.2 1059.8,1784.7 1060.2,1784.9 1060.6,1785.0 1061.0,1785.1 1061.4,1785.6 1061.8,1785.9 1062.2,1785.5 1062.6,1785.5 1063.0,1785.4 1063.4,1785.3 1063.8,1785.1 1064.2,1785.2 1064.6,1785.3 1065.0,1785.1 1065.4,1785.4 1065.8,1785.4 1066.2,1785.2 1066.6,1785.2 1067.0,1785.1 1067.4,1784.9 1067.8,1784.9 1068.2,1784.8 1068.6,1784.7 1069.0,1784.9 1069.4,1785.0 1069.8,1785.1 1070.2,1785.1 1070.6,1785.1 1071.0,1784.7 1071.4,1784.9 1071.8,1784.7 1072.2,1784.4 1072.6,1784.6 1073.0,1784.3 1073.4,1783.8 1073.8,1783.8 1074.2,1783.4 1074.6,1783.2 1075.0,1783.6 1075.4,1783.3 1075.8,1783.2 1076.2,1782.9 1076.6,1782.6 1077.0,1782.2 1077.4,1781.8 1077.8,1781.5 1078.2,1781.4 1078.6,1781.3 1079.0,1781.3 1079.4,1780.8 1079.8,1780.3 1080.2,1780.1 1080.6,1779.7 1081.0,1779.9 1081.4,1779.9 1081.8,1779.6 1082.2,1780.0 1082.6,1780.4 1083.0,1780.7 1083.4,1781.5 1083.8,1781.6 1084.2,1781.6 1084.6,1781.7 1085.0,1781.6 1085.4,1781.9 1085.8,1782.3 1086.2,1782.1 1086.6,1782.1 1087.0,1782.4 1087.4,1781.9 1087.8,1781.5 1088.2,1781.3 1088.6,1780.5 1089.0,1780.1 1089.4,1779.5 1089.8,1779.0 1090.2,1778.7 1090.6,1778.9 1091.0,1779.2 1091.4,1779.2 1091.8,1779.4 1092.2,1779.5 1092.6,1779.8 1093.0,1780.3 1093.4,1781.0 1093.8,1781.4 1094.2,1781.9 1094.6,1782.1 1095.0,1782.2 1095.4,1781.9 1095.8,1782.1 1096.2,1782.2 1096.6,1782.0 1097.0,1782.4 1097.4,1781.4 1097.8,1781.1 1098.2,1780.1 1098.6,1779.0 1099.0,1777.8 1099.4,1775.9 1099.8,1774.5 1100.2,1772.7 1100.6,1771.2 1101.0,1769.8 1101.4,1769.0 1101.8,1768.7 1102.2,1769.1 1102.6,1770.3 1103.0,1771.4 1103.4,1773.3 1103.8,1774.9 1104.2,1776.6 1104.6,1777.9 1105.0,1779.3 1105.4,1780.6 1105.8,1781.3 1106.2,1781.9 1106.6,1782.0 1107.0,1781.6 1107.4,1781.9 1107.8,1782.1 1108.2,1781.9 1108.6,1782.2 1109.0,1782.0 1109.4,1781.4 1109.8,1780.4 1110.2,1779.1 1110.6,1777.6 1111.0,1775.7 1111.4,1773.7 1111.8,1771.5 1112.2,1769.0 1112.6,1767.2 1113.0,1766.2 1113.4,1765.3 1113.8,1765.8 1114.2,1766.7 1114.6,1768.0 1115.0,1770.2 1115.4,1772.2 1115.8,1774.1 1116.2,1775.9 1116.6,1777.4 1117.0,1778.8 1117.4,1780.4 1117.8,1781.4 1118.2,1782.2 1118.6,1782.7 1119.0,1783.0 1119.4,1783.2 1119.8,1783.4 1120.2,1783.5 1120.6,1783.4 1121.0,1783.8 1121.4,1783.8 1121.8,1784.2 1122.2,1784.6 1122.6,1784.1 1123.0,1784.1 1123.4,1783.9 1123.8,1783.6 1124.2,1784.0 1124.6,1784.5 1125.0,1784.6 1125.4,1784.8 1125.8,1784.7 1126.2,1784.8 1126.6,1784.7 1127.0,1785.1 1127.4,1785.5 1127.8,1785.1 1128.2,1785.3 1128.6,1785.2 1129.0,1784.6 1129.4,1784.8 1129.8,1784.8 1130.2,1784.2 1130.6,1784.3 1131.0,1784.1 1131.4,1783.7 1131.8,1784.0 1132.2,1783.6 1132.6,1783.8 1133.0,1783.7 1133.4,1782.9 1133.8,1782.6 1134.2,1781.5 1134.6,1781.1 1135.0,1780.8 1135.4,1780.0 1135.8,1779.6 1136.2,1779.1 1136.6,1778.5 1137.0,1778.2 1137.4,1778.4 1137.8,1778.5 1138.2,1778.3 1138.6,1779.0 1139.0,1778.7 1139.4,1778.9 1139.8,1779.5 1140.2,1779.6 1140.6,1780.5 1141.0,1780.8 1141.4,1781.4 1141.8,1782.2 1142.2,1782.6 1142.6,1783.4 1143.0,1783.9 1143.4,1783.5 1143.8,1783.9 1144.2,1783.9 1144.6,1784.0 1145.0,1784.3 1145.4,1783.9 1145.8,1783.5 1146.2,1783.4 1146.6,1783.4 1147.0,1783.4 1147.4,1783.5 1147.8,1782.9 1148.2,1782.6 1148.6,1782.2 1149.0,1781.9 1149.4,1781.7 1149.8,1781.2 1150.2,1780.6 1150.6,1779.6 1151.0,1778.7 1151.4,1777.8 1151.8,1776.5 1152.2,1775.1 1152.6,1773.8 1153.0,1772.3 1153.4,1771.2 1153.8,1770.0 1154.2,1769.2 1154.6,1768.7 1155.0,1768.7 1155.4,1769.6 1155.8,1770.5 1156.2,1771.8 1156.6,1773.4 1157.0,1774.9 1157.4,1776.2 1157.8,1777.6 1158.2,1778.4 1158.6,1779.7 1159.0,1780.6 1159.4,1781.4 1159.8,1782.0 1160.2,1782.5 1160.6,1783.0 1161.0,1783.0 1161.4,1783.3 1161.8,1783.3 1162.2,1783.1 1162.6,1783.1 1163.0,1783.4 1163.4,1783.5 1163.8,1784.1 1164.2,1784.0 1164.6,1783.9 1165.0,1783.4 1165.4,1783.4 1165.8,1783.4 1166.2,1783.4 1166.6,1784.1 1167.0,1783.9 1167.4,1783.9 1167.8,1784.3 1168.2,1783.8 1168.6,1783.1 1169.0,1783.1 1169.4,1782.4 1169.8,1782.0 1170.2,1781.2 1170.6,1780.8 1171.0,1779.4 1171.4,1778.2 1171.8,1777.6 1172.2,1775.8 1172.6,1774.5 1173.0,1772.5 1173.4,1770.3 1173.8,1768.4 1174.2,1766.3 1174.6,1764.7 1175.0,1763.0 1175.4,1761.6 1175.8,1761.0 1176.2,1761.3 1176.6,1762.5 1177.0,1764.1 1177.4,1766.5 1177.8,1768.6 1178.2,1770.7 1178.6,1772.7 1179.0,1774.3 1179.4,1775.9 1179.8,1777.2 1180.2,1778.5 1180.6,1779.4 1181.0,1780.4 1181.4,1780.8 1181.8,1781.1 1182.2,1781.8 1182.6,1782.2 1183.0,1782.9 1183.4,1783.4 1183.8,1783.4 1184.2,1783.8 1184.6,1783.5 1185.0,1783.5 1185.4,1783.8 1185.8,1783.7 1186.2,1783.9 1186.6,1783.6 1187.0,1782.8 1187.4,1782.1 1187.8,1781.5 1188.2,1781.0 1188.6,1780.6 1189.0,1779.9 1189.4,1778.9 1189.8,1777.6 1190.2,1776.3 1190.6,1775.1 1191.0,1774.2 1191.4,1772.9 1191.8,1772.1 1192.2,1771.2 1192.6,1770.7 1193.0,1771.4 1193.4,1771.8 1193.8,1772.4 1194.2,1773.2 1194.6,1774.1 1195.0,1775.2 1195.4,1776.7 1195.8,1777.8 1196.2,1778.8 1196.6,1779.7 1197.0,1780.7 1197.4,1781.7 1197.8,1782.5 1198.2,1782.8 1198.6,1782.9 1199.0,1783.1 1199.4,1783.1 1199.8,1783.5 1200.2,1783.6 1200.6,1784.1 1201.0,1784.3 1201.4,1784.3 1201.8,1784.5 1202.2,1784.7 1202.6,1784.9 1203.0,1785.0 1203.4,1785.1 1203.8,1784.7 1204.2,1784.6 1204.6,1784.4 1205.0,1784.3 1205.4,1784.3 1205.8,1784.0 1206.2,1784.4 1206.6,1784.6 1207.0,1784.8 1207.4,1785.3 1207.8,1785.3 1208.2,1785.4 1208.6,1785.4 1209.0,1785.4 1209.4,1785.4 1209.8,1785.3 1210.2,1785.3 1210.6,1785.2 1211.0,1785.3 1211.4,1785.5 1211.8,1785.7 1212.2,1785.5 1212.6,1785.3 1213.0,1785.0 1213.4,1784.8 1213.8,1785.1 1214.2,1785.1 1214.6,1785.7 1215.0,1785.5 1215.4,1785.4 1215.8,1785.4 1216.2,1785.4 1216.6,1785.4 1217.0,1785.6 1217.4,1785.6 1217.8,1785.1 1218.2,1785.1 1218.6,1784.8 1219.0,1785.1 1219.4,1785.3 1219.8,1785.4 1220.2,1785.8 1220.6,1785.5 1221.0,1785.5 1221.4,1785.4 1221.8,1784.7 1222.2,1784.7 1222.6,1785.0 1223.0,1785.1 1223.4,1785.2 1223.8,1785.2 1224.2,1784.9 1224.6,1785.0 1225.0,1785.3 1225.4,1785.2 1225.8,1785.1 1226.2,1785.3 1226.6,1784.9 1227.0,1784.6 1227.4,1784.6 1227.8,1784.2 1228.2,1784.8 1228.6,1784.6 1229.0,1784.7 1229.4,1785.1 1229.8,1784.8 1230.2,1785.3 1230.6,1785.0 1231.0,1784.8 1231.4,1784.9 1231.8,1784.8 1232.2,1784.6 1232.6,1784.4 1233.0,1783.8 1233.4,1783.8 1233.8,1784.2 1234.2,1784.3 1234.6,1784.5 1235.0,1784.2 1235.4,1783.9 1235.8,1783.9 1236.2,1783.7 1236.6,1783.6 1237.0,1782.7 1237.4,1781.9 1237.8,1780.6 1238.2,1779.4 1238.6,1778.6 1239.0,1777.3 1239.4,1776.4 1239.8,1774.8 1240.2,1773.2 1240.6,1772.0 1241.0,1770.9 1241.4,1770.7 1241.8,1770.8 1242.2,1771.3 1242.6,1772.5 1243.0,1773.5 1243.4,1775.0 1243.8,1776.5 1244.2,1777.8 1244.6,1779.3 1245.0,1780.4 1245.4,1781.2 1245.8,1781.7 1246.2,1782.1 1246.6,1782.9 1247.0,1783.4 1247.4,1784.0 1247.8,1784.4 1248.2,1784.1 1248.6,1784.3 1249.0,1784.1 1249.4,1784.1 1249.8,1784.5 1250.2,1784.4 1250.6,1784.6 1251.0,1784.7 1251.4,1784.7 1251.8,1785.1 1252.2,1784.9 1252.6,1784.9 1253.0,1785.0 1253.4,1784.7 1253.8,1784.9 1254.2,1784.9 1254.6,1784.7 1255.0,1785.0 1255.4,1785.3 1255.8,1785.5 1256.2,1785.8 1256.6,1785.8 1257.0,1785.2 1257.4,1785.3 1257.8,1784.7 1258.2,1784.7 1258.6,1785.0 1259.0,1784.6 1259.4,1785.0 1259.8,1784.9 1260.2,1784.9 1260.6,1785.1 1261.0,1785.2 1261.4,1785.3 1261.8,1785.4 1262.2,1785.4 1262.6,1785.4 1263.0,1785.5 1263.4,1785.3 1263.8,1785.5 1264.2,1785.6 1264.6,1785.1 1265.0,1785.0 1265.4,1785.1 1265.8,1784.9 1266.2,1785.9 1266.6,1786.2 1267.0,1786.0 1267.4,1785.9 1267.8,1785.4 1268.2,1785.3 1268.6,1785.4 1269.0,1785.5 1269.4,1785.5 1269.8,1785.3 1270.2,1785.1 1270.6,1785.0 1271.0,1785.0 1271.4,1785.0 1271.8,1784.9 1272.2,1784.9 1272.6,1784.5 1273.0,1784.3 1273.4,1784.3 1273.8,1784.5 1274.2,1784.8 1274.6,1784.9 1275.0,1785.2 1275.4,1785.0 1275.8,1785.4 1276.2,1785.6 1276.6,1785.3 1277.0,1785.3 1277.4,1785.3 1277.8,1785.7 1278.2,1785.8 1278.6,1786.1 1279.0,1785.5 1279.4,1785.4 1279.8,1785.5 1280.2,1785.3 1280.6,1785.5 1281.0,1785.3 1281.4,1785.2 1281.8,1785.1 1282.2,1784.9 1282.6,1785.1 1283.0,1785.0 1283.4,1785.1 1283.8,1785.5 1284.2,1785.4 1284.6,1785.8 1285.0,1785.7 1285.4,1785.5 1285.8,1785.2 1286.2,1784.6 1286.6,1784.9 1287.0,1784.6 1287.4,1784.6 1287.8,1785.1 1288.2,1785.1 1288.6,1785.3 1289.0,1785.5 1289.4,1785.5 1289.8,1785.0 1290.2,1785.1 1290.6,1785.0 1291.0,1784.9 1291.4,1785.2 1291.8,1785.2 1292.2,1785.5 1292.6,1785.3 1293.0,1785.6 1293.4,1785.4 1293.8,1785.0 1294.2,1785.3 1294.6,1785.0 1295.0,1785.1 1295.4,1785.3 1295.8,1785.1 1296.2,1785.4 1296.6,1785.2 1297.0,1785.2 1297.4,1784.8 1297.8,1784.5 1298.2,1784.6 1298.6,1784.3 1299.0,1784.7 1299.4,1785.2 1299.8,1785.6 1300.2,1786.0 1300.6,1786.1 1301.0,1785.8 1301.4,1785.0 1301.8,1784.6 1302.2,1784.3 1302.6,1784.3 1303.0,1784.5 1303.4,1784.3 1303.8,1784.2 1304.2,1784.1 1304.6,1784.2 1305.0,1784.1 1305.4,1783.7 1305.8,1783.3 1306.2,1783.0 1306.6,1782.8 1307.0,1782.9 1307.4,1782.8 1307.8,1782.7 1308.2,1782.2 1308.6,1781.6 1309.0,1781.2 1309.4,1780.4 1309.8,1780.1 1310.2,1779.6 1310.6,1778.7 1311.0,1778.4 1311.4,1777.5 1311.8,1777.1 1312.2,1776.5 1312.6,1775.7 1313.0,1775.4 1313.4,1774.9 1313.8,1775.0 1314.2,1775.4 1314.6,1775.7 1315.0,1776.3 1315.4,1776.3 1315.8,1776.8 1316.2,1778.0 1316.6,1778.4 1317.0,1779.5 1317.4,1780.0 1317.8,1780.3 1318.2,1780.9 1318.6,1781.4 1319.0,1781.5 1319.4,1781.9 1319.8,1782.4 1320.2,1782.7 1320.6,1783.8 1321.0,1783.9 1321.4,1784.0 1321.8,1783.9 1322.2,1783.8 1322.6,1784.1 1323.0,1784.1 1323.4,1784.6 1323.8,1784.7 1324.2,1785.0 1324.6,1785.4 1325.0,1785.3 1325.4,1785.1 1325.8,1784.5 1326.2,1784.3 1326.6,1784.5 1327.0,1784.6 1327.4,1784.9 1327.8,1785.1 1328.2,1785.0 1328.6,1785.6 1329.0,1785.6 1329.4,1785.5 1329.8,1785.2 1330.2,1784.5 1330.6,1784.9 1331.0,1784.9 1331.4,1784.9 1331.8,1785.3 1332.2,1785.4 1332.6,1785.6 1333.0,1785.7 1333.4,1785.3 1333.8,1785.2 1334.2,1784.8 1334.6,1784.9 1335.0,1784.9 1335.4,1785.0 1335.8,1785.1 1336.2,1785.1 1336.6,1785.3 1337.0,1784.8 1337.4,1784.7 1337.8,1784.9 1338.2,1785.0 1338.6,1785.4 1339.0,1785.3 1339.4,1785.2 1339.8,1785.5 1340.2,1785.0 1340.6,1785.3 1341.0,1785.1 1341.4,1784.7 1341.8,1784.9 1342.2,1784.5 1342.6,1784.5 1343.0,1784.4 1343.4,1784.7 1343.8,1785.3 1344.2,1785.6 1344.6,1785.8 1345.0,1785.6 1345.4,1785.7 1345.8,1785.7 1346.2,1786.0 1346.6,1785.6 1347.0,1785.2 1347.4,1785.3 1347.8,1785.3 1348.2,1785.6 1348.6,1785.7 1349.0,1785.8 1349.4,1785.9 1349.8,1785.8 1350.2,1785.5 1350.6,1785.1 1351.0,1785.1 1351.4,1785.2 1351.8,1785.3 1352.2,1784.8 1352.6,1784.4 1353.0,1784.7 1353.4,1784.9 1353.8,1785.1 1354.2,1785.4 1354.6,1785.1 1355.0,1784.7 1355.4,1785.1 1355.8,1784.6 1356.2,1784.7 1356.6,1784.8 1357.0,1784.6 1357.4,1785.0 1357.8,1785.0 1358.2,1785.0 1358.6,1784.9 1359.0,1784.4 1359.4,1784.5 1359.8,1785.0 1360.2,1785.2 1360.6,1785.9 1361.0,1785.9 1361.4,1785.6 1361.8,1785.6 1362.2,1785.5 1362.6,1785.6 1363.0,1785.5 1363.4,1785.4 1363.8,1785.0 1364.2,1785.0 1364.6,1785.2 1365.0,1785.1 1365.4,1785.2 1365.8,1785.1 1366.2,1785.3 1366.6,1785.4 1367.0,1785.9 1367.4,1785.7 1367.8,1785.6 1368.2,1785.5 1368.6,1784.8 1369.0,1785.0 1369.4,1784.6 1369.8,1784.6 1370.2,1785.0 1370.6,1784.8 1371.0,1785.2 1371.4,1785.1 1371.8,1785.3 1372.2,1785.6 1372.6,1785.3 1373.0,1785.2 1373.4,1785.2 1373.8,1785.0 1374.2,1784.9 1374.6,1785.2 1375.0,1785.4 1375.4,1785.6 1375.8,1786.1 1376.2,1786.4 1376.6,1786.2 1377.0,1786.0 1377.4,1785.5 1377.8,1785.4 1378.2,1785.3 1378.6,1785.4 1379.0,1785.9 1379.4,1785.7 1379.8,1785.5 1380.2,1785.2 1380.6,1784.8 1381.0,1785.0 1381.4,1785.3 1381.8,1785.4 1382.2,1785.3 1382.6,1785.1 1383.0,1785.2 1383.4,1785.3 1383.8,1785.4 1384.2,1785.4 1384.6,1785.1 1385.0,1784.8 1385.4,1784.9 1385.8,1784.7 1386.2,1785.1 1386.6,1784.7 1387.0,1784.8 1387.4,1784.8 1387.8,1784.4 1388.2,1784.8 1388.6,1784.9 1389.0,1784.9 1389.4,1785.0 1389.8,1785.2 1390.2,1785.0 1390.6,1785.3 1391.0,1785.4 1391.4,1785.4 1391.8,1785.6 1392.2,1785.6 1392.6,1785.4 1393.0,1785.5 1393.4,1785.2 1393.8,1785.0 1394.2,1785.3 1394.6,1785.0 1395.0,1785.0 1395.4,1784.6 1395.8,1784.3 1396.2,1784.2 1396.6,1784.4 1397.0,1784.7 1397.4,1784.6 1397.8,1784.6 1398.2,1784.7 1398.6,1784.6 1399.0,1784.8 1399.4,1784.8 1399.8,1784.8 1400.2,1785.0 1400.6,1785.2 1401.0,1784.6 1401.4,1784.4 1401.8,1783.8 1402.2,1783.4 1402.6,1783.2 1403.0,1782.5 1403.4,1781.9 1403.8,1780.7 1404.2,1779.9 1404.6,1777.8 1405.0,1775.5 1405.4,1772.1 1405.8,1767.0 1406.2,1762.1 1406.6,1756.0 1407.0,1749.8 1407.4,1744.9 1407.8,1741.4 1408.2,1741.7 1408.6,1744.6 1409.0,1749.6 1409.4,1755.4 1409.8,1761.2 1410.2,1767.0 1410.6,1771.7 1411.0,1775.9 1411.4,1778.5 1411.8,1780.1 1412.2,1781.4 1412.6,1781.9 1413.0,1782.6 1413.4,1783.0 1413.8,1783.0 1414.2,1783.4 1414.6,1783.8 1415.0,1784.2 1415.4,1784.5 1415.8,1784.2 1416.2,1784.1 1416.6,1784.1 1417.0,1784.2 1417.4,1784.7 1417.8,1784.9 1418.2,1785.0 1418.6,1784.6 1419.0,1784.9 1419.4,1785.1 1419.8,1785.1 1420.2,1785.4 1420.6,1785.6 1421.0,1785.5 1421.4,1785.1 1421.8,1785.5 1422.2,1785.3 1422.6,1785.1 1423.0,1785.2 1423.4,1784.6 1423.8,1784.6 1424.2,1784.9 1424.6,1785.3 1425.0,1785.7 1425.4,1785.5 1425.8,1785.1 1426.2,1785.3 1426.6,1785.1 1427.0,1785.6 1427.4,1785.8 1427.8,1785.6 1428.2,1785.8 1428.6,1785.3 1429.0,1785.1 1429.4,1784.8 1429.8,1784.8 1430.2,1784.6 1430.6,1785.0 1431.0,1785.3 1431.4,1785.0 1431.8,1785.4 1432.2,1785.0 1432.6,1784.9 1433.0,1785.3 1433.4,1785.0 1433.8,1785.0 1434.2,1785.1 1434.6,1785.1 1435.0,1785.2 1435.4,1785.3 1435.8,1784.7 1436.2,1784.8 1436.6,1785.0 1437.0,1785.1 1437.4,1785.6 1437.8,1785.5 1438.2,1785.5 1438.6,1785.4 1439.0,1785.5 1439.4,1785.2 1439.8,1785.1 1440.2,1785.1 1440.6,1785.2 1441.0,1785.3 1441.4,1785.8 1441.8,1785.7 1442.2,1785.7 1442.6,1785.9 1443.0,1785.8 1443.4,1785.7 1443.8,1785.4 1444.2,1785.1 1444.6,1784.7 1445.0,1784.9 1445.4,1784.4 1445.8,1785.0 1446.2,1785.0 1446.6,1785.1 1447.0,1785.8 1447.4,1785.5 1447.8,1785.5 1448.2,1785.4 1448.6,1785.4 1449.0,1785.4 1449.4,1785.5 1449.8,1785.3 1450.2,1785.1 1450.6,1785.1 1451.0,1785.4 1451.4,1785.4 1451.8,1785.6 1452.2,1785.6 1452.6,1785.5 1453.0,1785.5 1453.4,1785.0 1453.8,1785.1 1454.2,1785.1 1454.6,1785.1 1455.0,1785.6 1455.4,1785.3 1455.8,1785.2 1456.2,1785.3 1456.6,1785.0 1457.0,1785.0 1457.4,1785.1 1457.8,1784.7 1458.2,1784.8 1458.6,1785.1 1459.0,1785.5 1459.4,1785.9 1459.8,1786.2 1460.2,1785.8 1460.6,1785.6 1461.0,1785.6 1461.4,1785.4 1461.8,1785.7 1462.2,1785.3 1462.6,1785.2 1463.0,1785.2 1463.4,1784.9 1463.8,1784.9 1464.2,1784.5 1464.6,1784.3 1465.0,1784.6 1465.4,1784.9 1465.8,1785.5 1466.2,1785.6 1466.6,1785.5 1467.0,1785.1 1467.4,1784.7 1467.8,1785.1 1468.2,1785.0 1468.6,1785.1 1469.0,1785.4 1469.4,1785.4 1469.8,1785.5 1470.2,1785.5 1470.6,1785.5 1471.0,1785.3 1471.4,1785.2 1471.8,1784.8 1472.2,1784.6 1472.6,1784.6 1473.0,1784.4 1473.4,1785.2 1473.8,1785.9 1474.2,1786.2 1474.6,1786.3 1475.0,1786.0 1475.4,1785.6 1475.8,1785.4 1476.2,1785.2 1476.6,1785.3 1477.0,1785.6 1477.4,1785.6 1477.8,1786.4 1478.2,1786.1 1478.6,1785.9 1479.0,1786.0 1479.4,1785.4 1479.8,1785.4 1480.2,1785.2 1480.6,1785.1 1481.0,1785.0 1481.4,1785.1 1481.8,1785.1 1482.2,1785.1 1482.6,1785.3 1483.0,1785.2 1483.4,1785.3 1483.8,1785.0 1484.2,1785.0 1484.6,1784.9 1485.0,1784.8 1485.4,1785.0 1485.8,1784.9 1486.2,1784.9 1486.6,1784.9 1487.0,1784.8 1487.4,1784.7 1487.8,1784.2 1488.2,1784.1 1488.6,1784.3 1489.0,1784.5 1489.4,1785.1 1489.8,1785.0 1490.2,1784.8 1490.6,1784.5 1491.0,1784.4 1491.4,1784.3 1491.8,1784.4 1492.2,1784.8 1492.6,1785.0 1493.0,1785.5 1493.4,1785.5 1493.8,1785.4 1494.2,1785.3 1494.6,1784.9 1495.0,1784.4 1495.4,1784.5 1495.8,1784.0 1496.2,1783.9 1496.6,1784.1 1497.0,1784.0 1497.4,1783.6 1497.8,1783.8 1498.2,1784.0 1498.6,1783.8 1499.0,1783.6 1499.4,1783.4 1499.8,1782.8 1500.2,1782.9 1500.6,1783.2 1501.0,1783.0 1501.4,1783.1 1501.8,1782.4 1502.2,1781.9 1502.6,1781.8 1503.0,1781.3 1503.4,1781.5 1503.8,1781.5 1504.2,1780.9 1504.6,1780.2 1505.0,1780.1 1505.4,1780.0 1505.8,1780.0 1506.2,1780.0 1506.6,1779.4 1507.0,1779.0 1507.4,1778.8 1507.8,1779.0 1508.2,1779.2 1508.6,1779.0 1509.0,1778.7 1509.4,1778.4 1509.8,1777.9 1510.2,1777.5 1510.6,1777.4 1511.0,1776.9 1511.4,1776.5 1511.8,1776.3 1512.2,1776.0 1512.6,1775.9 1513.0,1776.2 1513.4,1776.3 1513.8,1776.1 1514.2,1776.0 1514.6,1775.7 1515.0,1775.6 1515.4,1776.0 1515.8,1776.4 1516.2,1776.7 1516.6,1777.0 1517.0,1777.1 1517.4,1777.0 1517.8,1777.3 1518.2,1777.5 1518.6,1777.6 1519.0,1778.0 1519.4,1778.0 1519.8,1778.2 1520.2,1778.6 1520.6,1778.7 1521.0,1779.5 1521.4,1780.0 1521.8,1780.5 1522.2,1781.1 1522.6,1781.1 1523.0,1781.0 1523.4,1781.6 1523.8,1781.5 1524.2,1781.8 1524.6,1782.1 1525.0,1782.3 1525.4,1782.6 1525.8,1782.6 1526.2,1782.5 1526.6,1782.3 1527.0,1782.4 1527.4,1782.8 1527.8,1783.1 1528.2,1783.4 1528.6,1783.6 1529.0,1783.5 1529.4,1783.6 1529.8,1783.8 1530.2,1783.7 1530.6,1784.2 1531.0,1784.5 1531.4,1784.4 1531.8,1784.7 1532.2,1784.5 1532.6,1784.4 1533.0,1784.6 1533.4,1784.7 1533.8,1784.8 1534.2,1784.9 1534.6,1785.0 1535.0,1785.0 1535.4,1785.3 1535.8,1785.1 1536.2,1785.1 1536.6,1784.6 1537.0,1784.2 1537.4,1784.2 1537.8,1783.8 1538.2,1784.1 1538.6,1783.9 1539.0,1784.1 1539.4,1783.9 1539.8,1784.2 1540.2,1783.8 1540.6,1783.8 1541.0,1784.6 1541.4,1784.1 1541.8,1784.9 1542.2,1785.2 1542.6,1784.9 1543.0,1785.0 1543.4,1784.6 1543.8,1784.4 1544.2,1784.6 1544.6,1784.9 1545.0,1784.5 1545.4,1784.5 1545.8,1784.4 1546.2,1783.8 1546.6,1784.3 1547.0,1784.2 1547.4,1784.2 1547.8,1784.3 1548.2,1784.1 1548.6,1784.1 1549.0,1783.6 1549.4,1783.4 1549.8,1783.0 1550.2,1782.8 1550.6,1782.8 1551.0,1782.6 1551.4,1782.3 1551.8,1781.7 1552.2,1781.6 1552.6,1781.8 1553.0,1782.1 1553.4,1782.1 1553.8,1781.7 1554.2,1781.3 1554.6,1780.9 1555.0,1780.8 1555.4,1781.3 1555.8,1781.6 1556.2,1781.7 1556.6,1781.6 1557.0,1781.7 1557.4,1781.9 1557.8,1782.1 1558.2,1782.9 1558.6,1782.7 1559.0,1782.8 1559.4,1782.8 1559.8,1782.9 1560.2,1783.2 1560.6,1783.0 1561.0,1783.0 1561.4,1783.3 1561.8,1783.7 1562.2,1784.0 1562.6,1784.2 1563.0,1784.0 1563.4,1784.0 1563.8,1783.9 1564.2,1784.3 1564.6,1784.3 1565.0,1784.1 1565.4,1784.4 1565.8,1784.6 1566.2,1784.7 1566.6,1784.9 1567.0,1784.7 1567.4,1784.5 1567.8,1784.7 1568.2,1784.8 1568.6,1785.0 1569.0,1785.0 1569.4,1785.1 1569.8,1785.1 1570.2,1785.1 1570.6,1784.9 1571.0,1784.7 1571.4,1785.0 1571.8,1784.9 1572.2,1785.1 1572.6,1785.4 1573.0,1785.0 1573.4,1785.4 1573.8,1785.5 1574.2,1785.0 1574.6,1785.3 1575.0,1785.0 1575.4,1784.9 1575.8,1784.9 1576.2,1784.4 1576.6,1784.5 1577.0,1784.8 1577.4,1785.6 1577.8,1786.5 1578.2,1786.8 1578.6,1786.7 1579.0,1786.4 1579.4,1786.0 1579.8,1785.7 1580.2,1785.3 1580.6,1785.3 1581.0,1785.2 1581.4,1785.2 1581.8,1785.1 1582.2,1784.8 1582.6,1785.4 1583.0,1785.4 1583.4,1785.9 1583.8,1786.3 1584.2,1785.9 1584.6,1785.9 1585.0,1786.0 1585.4,1785.8 1585.8,1785.5 1586.2,1785.5 1586.6,1785.0 1587.0,1785.4 1587.4,1785.3 1587.8,1785.3 1588.2,1785.3 1588.6,1785.0 1589.0,1785.0 1589.4,1785.0 1589.8,1784.8 1590.2,1784.9 1590.6,1785.0 1591.0,1785.2 1591.4,1785.3 1591.8,1785.2 1592.2,1785.5 1592.6,1785.4 1593.0,1785.3 1593.4,1785.2 1593.8,1785.1 1594.2,1785.4 1594.6,1785.4 1595.0,1785.7 1595.4,1785.6 1595.8,1785.7 1596.2,1785.6 1596.6,1785.3 1597.0,1785.0 1597.4,1784.6 1597.8,1784.6 1598.2,1784.2 1598.6,1784.5 1599.0,1784.9 1599.4,1785.1 1599.8,1785.5 1600.2,1785.6 1600.6,1785.4 1601.0,1785.1 1601.4,1785.3 1601.8,1785.1 1602.2,1785.4 1602.6,1785.4 1603.0,1785.4 1603.4,1785.6 1603.8,1785.4 1604.2,1785.8 1604.6,1786.0 1605.0,1785.2 1605.4,1785.8 1605.8,1785.1 1606.2,1785.3 1606.6,1785.6 1607.0,1784.6 1607.4,1784.6 1607.8,1784.2 1608.2,1784.2 1608.6,1784.4 1609.0,1784.9 1609.4,1784.6 1609.8,1784.9 1610.2,1785.2 1610.6,1784.5 1611.0,1784.5 1611.4,1784.4 1611.8,1784.1 1612.2,1784.4 1612.6,1784.2 1613.0,1783.9 1613.4,1783.9 1613.8,1783.9 1614.2,1784.4 1614.6,1784.4 1615.0,1784.0 1615.4,1783.5 1615.8,1782.8 1616.2,1782.2 1616.6,1782.2 1617.0,1781.8 1617.4,1781.1 1617.8,1780.5 1618.2,1779.0 1618.6,1777.6 1619.0,1775.7 1619.4,1773.8 1619.8,1771.1 1620.2,1768.2 1620.6,1765.3 1621.0,1762.3 1621.4,1759.8 1621.8,1757.9 1622.2,1757.0"/>
<polyline fill="none" stroke="#000000" stroke-width="6.8" stroke-linejoin="round" stroke-linecap="round" points="535.0,2289.2 535.4,2289.1 535.8,2289.2 536.2,2289.6 536.6,2289.8 537.0,2289.7 537.4,2289.5 537.8,2289.5 538.2,2289.7 538.6,2289.9 539.0,2289.8 539.4,2289.5 539.8,2289.5 540.2,2289.5 540.6,2289.4 541.0,2289.5 541.4,2289.1 541.8,2288.9 542.2,2289.1 542.6,2289.0 543.0,2289.3 543.4,2289.4 543.8,2289.4 544.2,2289.6 544.6,2289.6 545.0,2289.4 545.4,2289.4 545.8,2289.2 546.2,2289.0 546.6,2289.1 547.0,2289.1 547.4,2289.3 547.8,2289.3 548.2,2289.3 548.6,2289.2 549.0,2289.0 549.4,2288.8 549.8,2289.1 550.2,2288.9 550.6,2289.3 551.0,2289.7 551.4,2289.3 551.8,2289.6 552.2,2289.2 552.6,2289.0 553.0,2289.4 553.4,2289.0 553.8,2289.1 554.2,2289.1 554.6,2289.2 555.0,2289.4 555.4,2289.6 555.8,2289.4 556.2,2289.2 556.6,2289.2 557.0,2289.4 557.4,2289.6 557.8,2290.1 558.2,2290.4 558.6,2290.3 559.0,2290.3 559.4,2289.8 559.8,2289.7 560.2,2289.7 560.6,2289.5 561.0,2289.7 561.4,2289.7 561.8,2289.5 562.2,2289.5 562.6,2289.5 563.0,2289.5 563.4,2289.4 563.8,2289.3 564.2,2289.5 564.6,2289.2 565.0,2289.0 565.4,2288.9 565.8,2288.9 566.2,2289.1 566.6,2289.1 567.0,2289.1 567.4,2289.0 567.8,2288.9 568.2,2288.9 568.6,2289.2 569.0,2288.9 569.4,2289.0 569.8,2289.2 570.2,2289.0 570.6,2289.2 571.0,2289.5 571.4,2289.4 571.8,2289.2 572.2,2288.9 572.6,2288.6 573.0,2288.6 573.4,2288.9 573.8,2289.1 574.2,2289.0 574.6,2288.9 575.0,2288.8 575.4,2288.8 575.8,2288.8 576.2,2288.9 576.6,2289.3 577.0,2289.3 577.4,2289.1 577.8,2289.3 578.2,2289.0 578.6,2288.7 579.0,2289.0 579.4,2288.6 579.8,2288.4 580.2,2288.3 580.6,2287.9 581.0,2287.7 581.4,2287.8 581.8,2287.7 582.2,2287.7 582.6,2287.7 583.0,2286.9 583.4,2286.4 583.8,2285.5 584.2,2283.8 584.6,2282.0 585.0,2279.2 585.4,2275.4 585.8,2270.0 586.2,2263.1 586.6,2254.9 587.0,2246.2 587.4,2239.0 587.8,2235.3 588.2,2236.6 588.6,2242.7 589.0,2251.0 589.4,2259.6 589.8,2267.4 590.2,2273.2 590.6,2277.8 591.0,2281.2 591.4,2283.4 591.8,2285.3 592.2,2286.3 592.6,2286.6 593.0,2287.3 593.4,2287.6 593.8,2287.7 594.2,2288.4 594.6,2288.3 595.0,2287.9 595.4,2288.2 595.8,2288.0 596.2,2288.3 596.6,2288.6 597.0,2288.7 597.4,2288.8 597.8,2288.5 598.2,2288.6 598.6,2288.7 599.0,2289.0 599.4,2289.2 599.8,2289.2 600.2,2289.0 600.6,2288.9 601.0,2288.7 601.4,2288.8 601.8,2288.7 602.2,2289.0 602.6,2289.3 603.0,2289.3 603.4,2289.8 603.8,2289.7 604.2,2289.1 604.6,2289.2 605.0,2289.0 605.4,2288.9 605.8,2289.3 606.2,2289.3 606.6,2289.4 607.0,2289.6 607.4,2290.0 607.8,2290.0 608.2,2289.8 608.6,2290.0 609.0,2289.4 609.4,2289.4 609.8,2289.6 610.2,2289.2 610.6,2289.6 611.0,2289.8 611.4,2289.6 611.8,2289.6 612.2,2289.5 612.6,2289.8 613.0,2289.9 613.4,2289.6 613.8,2289.4 614.2,2289.3 614.6,2289.2 615.0,2289.1 615.4,2289.2 615.8,2288.9 616.2,2289.2 616.6,2289.4 617.0,2289.6 617.4,2289.8 617.8,2289.4 618.2,2289.6 618.6,2289.8 619.0,2289.9 619.4,2290.2 619.8,2290.3 620.2,2290.2 620.6,2289.9 621.0,2289.7 621.4,2289.5 621.8,2289.3 622.2,2289.3 622.6,2289.8 623.0,2289.9 623.4,2290.2 623.8,2290.4 624.2,2289.9 624.6,2290.1 625.0,2289.5 625.4,2289.3 625.8,2289.5 626.2,2288.9 626.6,2289.1 627.0,2289.2 627.4,2289.0 627.8,2289.3 628.2,2289.4 628.6,2289.1 629.0,2289.3 629.4,2289.6 629.8,2289.6 630.2,2289.6 630.6,2289.4 631.0,2289.6 631.4,2289.7 631.8,2289.9 632.2,2289.9 632.6,2289.4 633.0,2289.3 633.4,2289.3 633.8,2289.3 634.2,2289.4 634.6,2289.2 635.0,2289.1 635.4,2289.0 635.8,2289.1 636.2,2289.4 636.6,2289.4 637.0,2289.5 637.4,2289.7 637.8,2290.0 638.2,2290.1 638.6,2290.2 639.0,2290.0 639.4,2289.8 639.8,2289.7 640.2,2289.5 640.6,2289.6 641.0,2289.9 641.4,2289.6 641.8,2289.4 642.2,2289.5 642.6,2289.3 643.0,2289.6 643.4,2289.6 643.8,2289.7 644.2,2289.9 644.6,2289.7 645.0,2289.9 645.4,2289.6 645.8,2289.4 646.2,2289.4 646.6,2289.3 647.0,2289.5 647.4,2289.5 647.8,2289.6 648.2,2289.8 648.6,2289.1 649.0,2289.2 649.4,2289.2 649.8,2289.1 650.2,2289.5 650.6,2289.3 651.0,2289.5 651.4,2289.4 651.8,2289.2 652.2,2289.2 652.6,2289.1 653.0,2289.4 653.4,2289.4 653.8,2289.3 654.2,2289.5 654.6,2289.2 655.0,2289.5 655.4,2289.7 655.8,2289.4 656.2,2289.5 656.6,2289.4 657.0,2289.5 657.4,2289.6 657.8,2289.9 658.2,2290.2 658.6,2290.0 659.0,2289.8 659.4,2289.5 659.8,2288.9 660.2,2288.8 660.6,2288.9 661.0,2288.8 661.4,2289.2 661.8,2288.8 662.2,2288.7 662.6,2289.3 663.0,2289.4 663.4,2289.9 663.8,2290.2 664.2,2290.2 664.6,2290.1 665.0,2290.0 665.4,2289.7 665.8,2289.4 666.2,2289.2 666.6,2289.0 667.0,2289.1 667.4,2289.1 667.8,2289.2 668.2,2289.5 668.6,2289.4 669.0,2289.4 669.4,2289.7 669.8,2289.6 670.2,2290.0 670.6,2290.3 671.0,2290.2 671.4,2290.3 671.8,2289.8 672.2,2289.6 672.6,2289.3 673.0,2288.9 673.4,2289.1 673.8,2288.9 674.2,2288.7 674.6,2289.0 675.0,2289.0 675.4,2289.1 675.8,2289.3 676.2,2289.1 676.6,2289.1 677.0,2289.1 677.4,2289.3 677.8,2289.3 678.2,2289.4 678.6,2289.6 679.0,2289.7 679.4,2289.6 679.8,2289.4 680.2,2289.4 680.6,2289.3 681.0,2289.4 681.4,2289.1 681.8,2288.6 682.2,2288.7 682.6,2288.7 683.0,2289.4 683.4,2290.0 683.8,2290.0 684.2,2289.9 684.6,2289.4 685.0,2289.5 685.4,2289.3 685.8,2289.4 686.2,2289.7 686.6,2289.6 687.0,2289.8 687.4,2289.7 687.8,2289.6 688.2,2289.4 688.6,2289.1 689.0,2289.5 689.4,2289.5 689.8,2289.9 690.2,2290.1 690.6,2289.9 691.0,2290.1 691.4,2289.7 691.8,2289.7 692.2,2289.8 692.6,2289.5 693.0,2289.7 693.4,2289.5 693.8,2289.3 694.2,2289.2 694.6,2289.5 695.0,2289.6 695.4,2289.3 695.8,2289.8 696.2,2289.6 696.6,2289.8 697.0,2290.2 697.4,2289.8 697.8,2289.6 698.2,2289.6 698.6,2289.7 699.0,2289.9 699.4,2290.0 699.8,2289.8 700.2,2289.6 700.6,2289.6 701.0,2289.8 701.4,2289.8 701.8,2289.8 702.2,2289.8 702.6,2289.7 703.0,2289.9 703.4,2289.7 703.8,2289.4 704.2,2289.2 704.6,2289.1 705.0,2289.1 705.4,2289.3 705.8,2289.5 706.2,2289.5 706.6,2289.6 707.0,2289.4 707.4,2289.6 707.8,2289.2 708.2,2289.5 708.6,2289.6 709.0,2289.2 709.4,2289.7 709.8,2289.5 710.2,2289.6 710.6,2289.8 711.0,2289.7 711.4,2290.1 711.8,2290.1 712.2,2290.2 712.6,2290.0 713.0,2289.5 713.4,2289.5 713.8,2289.4 714.2,2289.6 714.6,2289.9 715.0,2289.5 715.4,2289.4 715.8,2289.2 716.2,2289.1 716.6,2289.2 717.0,2289.1 717.4,2289.3 717.8,2289.5 718.2,2289.4 718.6,2289.4 719.0,2289.6 719.4,2289.2 719.8,2289.7 720.2,2289.9 720.6,2289.7 721.0,2289.8 721.4,2289.8 721.8,2289.9 722.2,2289.9 722.6,2289.9 723.0,2289.3 723.4,2289.1 723.8,2289.2 724.2,2289.3 724.6,2289.7 725.0,2289.9 725.4,2289.6 725.8,2289.5 726.2,2289.2 726.6,2289.2 727.0,2289.1 727.4,2289.0 727.8,2289.3 728.2,2289.1 728.6,2289.4 729.0,2289.5 729.4,2289.4 729.8,2289.7 730.2,2289.3 730.6,2289.0 731.0,2289.0 731.4,2288.9 731.8,2289.5 732.2,2289.9 732.6,2289.9 733.0,2289.6 733.4,2289.4 733.8,2289.3 734.2,2289.0 734.6,2288.9 735.0,2288.8 735.4,2288.7 735.8,2288.3 736.2,2288.5 736.6,2288.5 737.0,2288.4 737.4,2288.9 737.8,2289.0 738.2,2288.7 738.6,2288.8 739.0,2288.7 739.4,2288.4 739.8,2288.6 740.2,2288.7 740.6,2288.5 741.0,2288.3 741.4,2287.9 741.8,2288.0 742.2,2288.1 742.6,2288.4 743.0,2288.5 743.4,2287.9 743.8,2287.5 744.2,2287.5 744.6,2287.6 745.0,2287.4 745.4,2287.5 745.8,2287.2 746.2,2287.0 746.6,2287.3 747.0,2287.5 747.4,2287.7 747.8,2287.6 748.2,2287.5 748.6,2286.8 749.0,2286.0 749.4,2285.6 749.8,2284.8 750.2,2284.5 750.6,2283.7 751.0,2282.6 751.4,2282.3 751.8,2282.1 752.2,2282.3 752.6,2282.7 753.0,2282.5 753.4,2282.9 753.8,2283.5 754.2,2284.3 754.6,2285.0 755.0,2285.2 755.4,2285.1 755.8,2285.2 756.2,2285.6 756.6,2285.6 757.0,2285.8 757.4,2285.5 757.8,2285.0 758.2,2284.4 758.6,2284.0 759.0,2283.7 759.4,2283.1 759.8,2282.8 760.2,2281.7 760.6,2281.2 761.0,2280.8 761.4,2280.3 761.8,2280.3 762.2,2279.6 762.6,2279.3 763.0,2279.3 763.4,2279.6 763.8,2280.1 764.2,2280.5 764.6,2281.3 765.0,2281.4 765.4,2281.8 765.8,2281.8 766.2,2281.4 766.6,2281.1 767.0,2280.9 767.4,2280.3 767.8,2279.5 768.2,2278.6 768.6,2276.1 769.0,2272.9 769.4,2268.0 769.8,2261.2 770.2,2252.6 770.6,2242.0 771.0,2231.2 771.4,2221.7 771.8,2216.7 772.2,2218.5 772.6,2226.0 773.0,2236.4 773.4,2247.4 773.8,2257.4 774.2,2265.2 774.6,2271.8 775.0,2275.8 775.4,2278.4 775.8,2280.2 776.2,2280.9 776.6,2281.6 777.0,2281.9 777.4,2282.3 777.8,2282.4 778.2,2282.7 778.6,2283.0 779.0,2282.6 779.4,2282.6 779.8,2282.1 780.2,2281.5 780.6,2281.8 781.0,2281.5 781.4,2281.1 781.8,2280.8 782.2,2279.9 782.6,2279.9 783.0,2279.9 783.4,2280.3 783.8,2281.3 784.2,2281.9 784.6,2283.1 785.0,2283.9 785.4,2284.7 785.8,2285.0 786.2,2285.3 786.6,2285.7 787.0,2285.6 787.4,2286.3 787.8,2286.4 788.2,2286.2 788.6,2286.9 789.0,2287.1 789.4,2287.2 789.8,2287.3 790.2,2287.6 790.6,2287.2 791.0,2286.9 791.4,2286.7 791.8,2286.2 792.2,2285.9 792.6,2285.7 793.0,2285.1 793.4,2283.7 793.8,2282.1 794.2,2280.1 794.6,2278.1 795.0,2276.0 795.4,2274.6 795.8,2274.4 796.2,2274.4 796.6,2275.5 797.0,2277.1 797.4,2278.8 797.8,2280.7 798.2,2282.2 798.6,2283.7 799.0,2285.1 799.4,2286.0 799.8,2286.9 800.2,2287.3 800.6,2287.0 801.0,2287.0 801.4,2287.6 801.8,2287.9 802.2,2288.2 802.6,2288.3 803.0,2288.1 803.4,2288.2 803.8,2288.3 804.2,2288.3 804.6,2288.5 805.0,2288.8 805.4,2288.8 805.8,2288.9 806.2,2289.0 806.6,2288.5 807.0,2288.5 807.4,2288.6 807.8,2288.4 808.2,2288.7 808.6,2288.6 809.0,2288.7 809.4,2288.5 809.8,2288.3 810.2,2288.1 810.6,2288.1 811.0,2288.1 811.4,2288.4 811.8,2288.9 812.2,2288.9 812.6,2289.2 813.0,2289.0 813.4,2288.9 813.8,2288.6 814.2,2288.4 814.6,2288.7 815.0,2288.4 815.4,2288.8 815.8,2289.0 816.2,2288.6 816.6,2288.7 817.0,2288.5 817.4,2288.0 817.8,2287.6 818.2,2287.1 818.6,2286.6 819.0,2286.5 819.4,2286.3 819.8,2285.9 820.2,2285.3 820.6,2285.0 821.0,2284.8 821.4,2284.6 821.8,2284.3 822.2,2284.1 822.6,2284.0 823.0,2284.3 823.4,2285.1 823.8,2285.6 824.2,2285.8 824.6,2286.0 825.0,2286.4 825.4,2286.7 825.8,2287.4 826.2,2287.9 826.6,2287.8 827.0,2288.0 827.4,2288.3 827.8,2288.6 828.2,2288.7 828.6,2288.7 829.0,2288.4 829.4,2288.4 829.8,2288.9 830.2,2289.3 830.6,2289.5 831.0,2289.4 831.4,2289.2 831.8,2288.9 832.2,2288.8 832.6,2288.9 833.0,2288.9 833.4,2288.7 833.8,2288.9 834.2,2288.8 834.6,2288.6 835.0,2288.9 835.4,2288.8 835.8,2289.1 836.2,2289.4 836.6,2289.3 837.0,2289.3 837.4,2288.9 837.8,2288.9 838.2,2288.8 838.6,2289.0 839.0,2288.7 839.4,2288.6 839.8,2288.9 840.2,2288.8 840.6,2289.1 841.0,2289.3 841.4,2289.0 841.8,2288.7 842.2,2288.7 842.6,2288.7 843.0,2288.9 843.4,2289.1 843.8,2289.1 844.2,2288.9 844.6,2288.6 845.0,2288.1 845.4,2287.9 845.8,2287.5 846.2,2287.6 846.6,2287.8 847.0,2287.8 847.4,2288.1 847.8,2288.2 848.2,2288.4 848.6,2288.7 849.0,2288.5 849.4,2288.4 849.8,2288.5 850.2,2288.0 850.6,2287.7 851.0,2287.9 851.4,2287.6 851.8,2287.8 852.2,2288.0 852.6,2287.7 853.0,2287.2 853.4,2286.7 853.8,2285.9 854.2,2285.0 854.6,2284.1 855.0,2282.8 855.4,2281.4 855.8,2279.7 856.2,2276.8 856.6,2273.9 857.0,2270.3 857.4,2265.8 857.8,2261.5 858.2,2257.0 858.6,2252.6 859.0,2248.5 859.4,2245.6 859.8,2243.6 860.2,2243.3 860.6,2244.5 861.0,2247.4 861.4,2250.8 861.8,2254.9 862.2,2259.1 862.6,2263.3 863.0,2267.6 863.4,2271.3 863.8,2274.5 864.2,2277.1 864.6,2279.5 865.0,2281.8 865.4,2283.6 865.8,2284.6 866.2,2285.3 866.6,2285.7 867.0,2285.9 867.4,2286.5 867.8,2286.9 868.2,2287.1 868.6,2287.1 869.0,2286.8 869.4,2286.7 869.8,2286.4 870.2,2286.5 870.6,2286.9 871.0,2286.8 871.4,2287.1 871.8,2287.0 872.2,2287.3 872.6,2287.6 873.0,2287.3 873.4,2287.4 873.8,2287.1 874.2,2286.9 874.6,2287.1 875.0,2287.1 875.4,2287.1 875.8,2287.2 876.2,2287.0 876.6,2286.8 877.0,2286.3 877.4,2285.9 877.8,2285.9 878.2,2285.6 878.6,2285.7 879.0,2286.3 879.4,2286.4 879.8,2286.3 880.2,2285.8 880.6,2285.1 881.0,2284.6 881.4,2284.2 881.8,2284.5 882.2,2284.4 882.6,2284.5 883.0,2285.2 883.4,2284.9 883.8,2284.7 884.2,2284.4 884.6,2283.5 885.0,2282.9 885.4,2282.5 885.8,2282.2 886.2,2281.7 886.6,2281.1 887.0,2280.3 887.4,2279.3 887.8,2278.7 888.2,2278.2 888.6,2277.6 889.0,2277.0 889.4,2275.8 889.8,2274.5 890.2,2272.9 890.6,2270.9 891.0,2268.3 891.4,2265.4 891.8,2261.3 892.2,2256.0 892.6,2249.9 893.0,2240.7 893.4,2229.5 893.8,2214.3 894.2,2194.2 894.6,2169.7 895.0,2139.7 895.4,2105.5 895.8,2067.6 896.2,2027.4 896.6,1988.1 897.0,1953.8 897.4,1930.1 897.8,1921.4 898.2,1929.8 898.6,1953.5 899.0,1987.5 899.4,2026.9 899.8,2067.3 900.2,2105.1 900.6,2139.6 901.0,2169.3 901.4,2193.7 901.8,2213.6 902.2,2228.7 902.6,2240.8 903.0,2250.1 903.4,2256.7 903.8,2262.1 904.2,2265.9 904.6,2268.5 905.0,2270.6 905.4,2272.3 905.8,2273.6 906.2,2275.1 906.6,2276.6 907.0,2277.7 907.4,2278.9 907.8,2279.9 908.2,2280.7 908.6,2281.1 909.0,2281.5 909.4,2281.6 909.8,2282.3 910.2,2282.7 910.6,2283.0 911.0,2283.6 911.4,2283.8 911.8,2284.3 912.2,2284.9 912.6,2285.0 913.0,2284.8 913.4,2284.8 913.8,2284.4 914.2,2284.6 914.6,2284.6 915.0,2284.5 915.4,2284.7 915.8,2284.6 916.2,2284.6 916.6,2284.6 917.0,2284.5 917.4,2283.9 917.8,2283.8 918.2,2283.5 918.6,2283.3 919.0,2283.6 919.4,2283.8 919.8,2284.1 920.2,2284.6 920.6,2285.3 921.0,2285.9 921.4,2286.1 921.8,2286.2 922.2,2286.5 922.6,2286.5 923.0,2286.8 923.4,2287.3 923.8,2287.5 924.2,2287.9 924.6,2288.2 925.0,2288.2 925.4,2288.2 925.8,2288.1 926.2,2287.9 926.6,2288.1 927.0,2287.9 927.4,2287.6 927.8,2287.8 928.2,2287.9 928.6,2288.1 929.0,2288.5 929.4,2288.3 929.8,2288.3 930.2,2288.3 930.6,2288.7 931.0,2288.8 931.4,2288.6 931.8,2288.7 932.2,2288.5 932.6,2288.5 933.0,2288.3 933.4,2288.2 933.8,2288.4 934.2,2288.3 934.6,2288.6 935.0,2288.8 935.4,2288.7 935.8,2289.2 936.2,2289.2 936.6,2289.0 937.0,2289.0 937.4,2288.4 937.8,2288.2 938.2,2288.3 938.6,2288.3 939.0,2288.9 939.4,2289.2 939.8,2289.0 940.2,2289.3 940.6,2289.1 941.0,2289.4 941.4,2289.3 941.8,2289.2 942.2,2289.2 942.6,2289.1 943.0,2289.5 943.4,2289.6 943.8,2289.5 944.2,2289.3 944.6,2289.3 945.0,2289.1 945.4,2289.3 945.8,2289.6 946.2,2289.5 946.6,2289.3 947.0,2289.1 947.4,2289.0 947.8,2288.9 948.2,2289.3 948.6,2289.4 949.0,2289.2 949.4,2289.2 949.8,2288.9 950.2,2289.1 950.6,2289.0 951.0,2289.1 951.4,2288.9 951.8,2288.9 952.2,2288.6 952.6,2288.5 953.0,2288.8 953.4,2288.8 953.8,2288.9 954.2,2289.1 954.6,2288.5 955.0,2288.2 955.4,2288.1 955.8,2287.4 956.2,2287.2 956.6,2286.7 957.0,2286.4 957.4,2286.3 957.8,2286.3 958.2,2286.3 958.6,2286.1 959.0,2285.6 959.4,2285.5 959.8,2285.3 960.2,2285.5 960.6,2285.9 961.0,2286.5 961.4,2286.9 961.8,2287.5 962.2,2287.9 962.6,2288.0 963.0,2288.3 963.4,2288.1 963.8,2288.8 964.2,2288.8 964.6,2288.9 965.0,2288.9 965.4,2288.7 965.8,2288.7 966.2,2289.1 966.6,2289.3 967.0,2289.2 967.4,2289.3 967.8,2289.1 968.2,2288.9 968.6,2288.8 969.0,2289.1 969.4,2289.5 969.8,2289.6 970.2,2289.7 970.6,2289.2 971.0,2288.8 971.4,2288.9 971.8,2289.0 972.2,2289.3 972.6,2289.6 973.0,2289.5 973.4,2289.4 973.8,2289.7 974.2,2289.2 974.6,2289.0 975.0,2289.0 975.4,2288.5 975.8,2288.8 976.2,2288.9 976.6,2288.9 977.0,2289.0 977.4,2289.3 977.8,2289.3 978.2,2289.5 978.6,2289.3 979.0,2289.0 979.4,2289.0 979.8,2289.1 980.2,2289.4 980.6,2289.7 981.0,2290.0 981.4,2290.0 981.8,2289.8 982.2,2289.8 982.6,2289.8 983.0,2290.0 983.4,2290.2 983.8,2290.1 984.2,2289.9 984.6,2289.6 985.0,2289.2 985.4,2289.1 985.8,2289.1 986.2,2289.2 986.6,2289.4 987.0,2289.5 987.4,2289.8 987.8,2289.6 988.2,2289.8 988.6,2289.7 989.0,2289.4 989.4,2289.5 989.8,2289.5 990.2,2289.6 990.6,2289.4 991.0,2289.6 991.4,2289.5 991.8,2289.7 992.2,2290.0 992.6,2289.9 993.0,2289.8 993.4,2289.7 993.8,2289.2 994.2,2289.1 994.6,2289.1 995.0,2289.1 995.4,2289.7 995.8,2289.8 996.2,2289.9 996.6,2289.7 997.0,2289.5 997.4,2289.6 997.8,2289.5 998.2,2289.8 998.6,2289.6 999.0,2289.3 999.4,2289.4 999.8,2289.0 1000.2,2289.0 1000.6,2288.7 1001.0,2289.1 1001.4,2289.5 1001.8,2289.6 1002.2,2289.9 1002.6,2289.7 1003.0,2289.6 1003.4,2289.6 1003.8,2289.5 1004.2,2289.5 1004.6,2289.2 1005.0,2289.0 1005.4,2288.9 1005.8,2289.0 1006.2,2289.2 1006.6,2289.7 1007.0,2289.7 1007.4,2289.6 1007.8,2289.8 1008.2,2289.6 1008.6,2290.0 1009.0,2290.2 1009.4,2290.0 1009.8,2289.8 1010.2,2289.7 1010.6,2289.6 1011.0,2289.8 1011.4,2289.8 1011.8,2289.9 1012.2,2290.1 1012.6,2290.2 1013.0,2290.2 1013.4,2289.7 1013.8,2289.2 1014.2,2289.1 1014.6,2289.1 1015.0,2288.9 1015.4,2289.1 1015.8,2289.2 1016.2,2289.3 1016.6,2289.7 1017.0,2289.9 1017.4,2289.7 1017.8,2289.5 1018.2,2289.8 1018.6,2289.9 1019.0,2289.8 1019.4,2289.6 1019.8,2289.2 1020.2,2288.8 1020.6,2289.1 1021.0,2289.6 1021.4,2289.8 1021.8,2290.3 1022.2,2289.9 1022.6,2289.6 1023.0,2289.7 1023.4,2289.6 1023.8,2289.7 1024.2,2289.4 1024.6,2289.0 1025.0,2288.9 1025.4,2288.8 1025.8,2289.1 1026.2,2289.2 1026.6,2289.3 1027.0,2289.4 1027.4,2289.5 1027.8,2289.6 1028.2,2289.5 1028.6,2289.5 1029.0,2289.5 1029.4,2289.5 1029.8,2289.4 1030.2,2289.3 1030.6,2289.2 1031.0,2289.3 1031.4,2289.7 1031.8,2289.8 1032.2,2290.0 1032.6,2289.8 1033.0,2289.6 1033.4,2289.5 1033.8,2289.4 1034.2,2289.6 1034.6,2289.7 1035.0,2289.7 1035.4,2289.3 1035.8,2289.2 1036.2,2289.1 1036.6,2289.2 1037.0,2289.3 1037.4,2289.1 1037.8,2289.1 1038.2,2289.2 1038.6,2289.5 1039.0,2289.7 1039.4,2289.8 1039.8,2289.7 1040.2,2289.5 1040.6,2289.3 1041.0,2289.4 1041.4,2289.5 1041.8,2289.8 1042.2,2289.9 1042.6,2289.8 1043.0,2289.5 1043.4,2289.3 1043.8,2289.4 1044.2,2289.5 1044.6,2289.6 1045.0,2289.7 1045.4,2289.6 1045.8,2289.6 1046.2,2289.6 1046.6,2289.4 1047.0,2289.5 1047.4,2289.4 1047.8,2289.2 1048.2,2289.1 1048.6,2289.1 1049.0,2289.0 1049.4,2288.9 1049.8,2288.9 1050.2,2288.7 1050.6,2288.8 1051.0,2289.1 1051.4,2289.6 1051.8,2289.9 1052.2,2290.3 1052.6,2290.0 1053.0,2289.8 1053.4,2289.8 1053.8,2289.2 1054.2,2289.2 1054.6,2289.2 1055.0,2289.2 1055.4,2289.6 1055.8,2289.6 1056.2,2289.3 1056.6,2289.1 1057.0,2288.8 1057.4,2289.2 1057.8,2289.4 1058.2,2289.7 1058.6,2289.8 1059.0,2289.8 1059.4,2289.8 1059.8,2289.7 1060.2,2289.5 1060.6,2289.5 1061.0,2289.4 1061.4,2288.9 1061.8,2289.3 1062.2,2289.3 1062.6,2289.7 1063.0,2290.0 1063.4,2289.9 1063.8,2289.8 1064.2,2289.7 1064.6,2289.5 1065.0,2289.7 1065.4,2289.5 1065.8,2289.7 1066.2,2289.7 1066.6,2289.6 1067.0,2289.8 1067.4,2289.5 1067.8,2289.8 1068.2,2289.7 1068.6,2289.5 1069.0,2289.4 1069.4,2289.2 1069.8,2288.8 1070.2,2289.1 1070.6,2289.2 1071.0,2288.7 1071.4,2289.1 1071.8,2289.0 1072.2,2288.5 1072.6,2288.7 1073.0,2288.6 1073.4,2288.4 1073.8,2288.7 1074.2,2288.6 1074.6,2288.5 1075.0,2288.4 1075.4,2288.1 1075.8,2287.9 1076.2,2287.9 1076.6,2287.3 1077.0,2287.0 1077.4,2286.7 1077.8,2286.2 1078.2,2286.3 1078.6,2286.1 1079.0,2286.5 1079.4,2286.6 1079.8,2286.6 1080.2,2287.0 1080.6,2286.8 1081.0,2286.5 1081.4,2286.6 1081.8,2286.6 1082.2,2286.6 1082.6,2287.1 1083.0,2287.2 1083.4,2287.3 1083.8,2287.3 1084.2,2287.0 1084.6,2287.1 1085.0,2287.2 1085.4,2287.7 1085.8,2288.0 1086.2,2287.9 1086.6,2287.9 1087.0,2287.5 1087.4,2287.7 1087.8,2287.5 1088.2,2286.8 1088.6,2286.3 1089.0,2285.5 1089.4,2284.9 1089.8,2284.8 1090.2,2284.6 1090.6,2284.5 1091.0,2284.6 1091.4,2284.9 1091.8,2285.2 1092.2,2285.6 1092.6,2286.0 1093.0,2285.9 1093.4,2285.9 1093.8,2286.0 1094.2,2286.3 1094.6,2286.6 1095.0,2287.0 1095.4,2287.3 1095.8,2287.6 1096.2,2287.9 1096.6,2287.8 1097.0,2287.7 1097.4,2287.1 1097.8,2286.7 1098.2,2286.5 1098.6,2285.6 1099.0,2284.9 1099.4,2284.3 1099.8,2283.6 1100.2,2283.0 1100.6,2282.4 1101.0,2282.2 1101.4,2282.1 1101.8,2282.7 1102.2,2283.3 1102.6,2284.1 1103.0,2284.9 1103.4,2285.5 1103.8,2286.0 1104.2,2286.6 1104.6,2286.5 1105.0,2286.7 1105.4,2287.3 1105.8,2287.0 1106.2,2287.5 1106.6,2287.8 1107.0,2287.7 1107.4,2287.6 1107.8,2287.1 1108.2,2286.1 1108.6,2285.1 1109.0,2284.0 1109.4,2282.6 1109.8,2281.3 1110.2,2279.5 1110.6,2277.3 1111.0,2275.5 1111.4,2273.8 1111.8,2272.7 1112.2,2272.3 1112.6,2272.1 1113.0,2272.7 1113.4,2273.7 1113.8,2275.2 1114.2,2277.0 1114.6,2278.4 1115.0,2280.1 1115.4,2282.0 1115.8,2283.1 1116.2,2284.4 1116.6,2285.4 1117.0,2285.9 1117.4,2286.9 1117.8,2287.2 1118.2,2287.3 1118.6,2287.6 1119.0,2287.8 1119.4,2288.4 1119.8,2288.4 1120.2,2288.5 1120.6,2288.3 1121.0,2288.1 1121.4,2288.1 1121.8,2288.4 1122.2,2288.5 1122.6,2288.7 1123.0,2288.6 1123.4,2288.6 1123.8,2288.7 1124.2,2288.4 1124.6,2288.6 1125.0,2288.7 1125.4,2288.4 1125.8,2289.0 1126.2,2289.2 1126.6,2288.5 1127.0,2288.9 1127.4,2288.6 1127.8,2288.8 1128.2,2289.1 1128.6,2288.9 1129.0,2288.9 1129.4,2288.6 1129.8,2288.3 1130.2,2288.4 1130.6,2288.0 1131.0,2288.2 1131.4,2288.3 1131.8,2287.9 1132.2,2287.8 1132.6,2286.9 1133.0,2286.9 1133.4,2286.6 1133.8,2286.3 1134.2,2286.6 1134.6,2286.0 1135.0,2286.0 1135.4,2285.7 1135.8,2285.3 1136.2,2285.1 1136.6,2285.0 1137.0,2284.8 1137.4,2284.8 1137.8,2284.8 1138.2,2285.0 1138.6,2285.0 1139.0,2285.3 1139.4,2285.8 1139.8,2286.0 1140.2,2286.7 1140.6,2287.2 1141.0,2287.8 1141.4,2287.9 1141.8,2287.8 1142.2,2287.6 1142.6,2287.2 1143.0,2287.5 1143.4,2287.9 1143.8,2288.4 1144.2,2288.5 1144.6,2288.5 1145.0,2288.6 1145.4,2288.3 1145.8,2288.3 1146.2,2288.8 1146.6,2288.7 1147.0,2288.6 1147.4,2288.2 1147.8,2287.8 1148.2,2287.7 1148.6,2287.6 1149.0,2288.2 1149.4,2288.0 1149.8,2287.4 1150.2,2287.1 1150.6,2286.3 1151.0,2285.7 1151.4,2285.1 1151.8,2284.7 1152.2,2284.0 1152.6,2282.7 1153.0,2281.7 1153.4,2280.2 1153.8,2279.2 1154.2,2278.9 1154.6,2278.7 1155.0,2278.7 1155.4,2278.7 1155.8,2279.1 1156.2,2279.5 1156.6,2280.2 1157.0,2281.1 1157.4,2282.1 1157.8,2283.3 1158.2,2284.4 1158.6,2285.1 1159.0,2285.7 1159.4,2285.9 1159.8,2286.3 1160.2,2286.7 1160.6,2286.8 1161.0,2287.2 1161.4,2287.5 1161.8,2287.8 1162.2,2287.8 1162.6,2288.1 1163.0,2288.0 1163.4,2288.0 1163.8,2288.0 1164.2,2288.0 1164.6,2287.8 1165.0,2287.8 1165.4,2287.8 1165.8,2287.6 1166.2,2287.7 1166.6,2288.0 1167.0,2287.5 1167.4,2287.3 1167.8,2287.1 1168.2,2286.5 1168.6,2286.0 1169.0,2285.4 1169.4,2284.4 1169.8,2283.2 1170.2,2282.3 1170.6,2280.6 1171.0,2279.0 1171.4,2276.7 1171.8,2274.5 1172.2,2272.2 1172.6,2269.8 1173.0,2267.8 1173.4,2266.4 1173.8,2265.9 1174.2,2266.3 1174.6,2267.5 1175.0,2268.8 1175.4,2270.7 1175.8,2272.8 1176.2,2274.9 1176.6,2276.8 1177.0,2278.5 1177.4,2280.2 1177.8,2281.7 1178.2,2283.1 1178.6,2284.6 1179.0,2285.3 1179.4,2286.3 1179.8,2287.1 1180.2,2287.0 1180.6,2287.1 1181.0,2287.2 1181.4,2287.0 1181.8,2287.6 1182.2,2288.1 1182.6,2288.0 1183.0,2288.3 1183.4,2288.5 1183.8,2288.6 1184.2,2288.5 1184.6,2288.3 1185.0,2287.9 1185.4,2287.9 1185.8,2287.9 1186.2,2287.7 1186.6,2287.6 1187.0,2287.1 1187.4,2286.8 1187.8,2286.5 1188.2,2286.0 1188.6,2285.5 1189.0,2285.1 1189.4,2284.4 1189.8,2283.6 1190.2,2282.8 1190.6,2281.7 1191.0,2281.3 1191.4,2280.9 1191.8,2280.7 1192.2,2280.4 1192.6,2280.9 1193.0,2281.6 1193.4,2282.4 1193.8,2283.6 1194.2,2284.1 1194.6,2285.1 1195.0,2285.5 1195.4,2286.3 1195.8,2286.8 1196.2,2286.9 1196.6,2287.5 1197.0,2287.6 1197.4,2287.9 1197.8,2287.9 1198.2,2288.4 1198.6,2288.8 1199.0,2288.7 1199.4,2288.7 1199.8,2288.4 1200.2,2288.5 1200.6,2288.5 1201.0,2289.2 1201.4,2289.3 1201.8,2289.1 1202.2,2289.1 1202.6,2288.8 1203.0,2288.8 1203.4,2289.0 1203.8,2289.4 1204.2,2289.5 1204.6,2289.6 1205.0,2289.8 1205.4,2289.7 1205.8,2289.7 1206.2,2289.7 1206.6,2289.4 1207.0,2289.3 1207.4,2289.4 1207.8,2289.1 1208.2,2289.3 1208.6,2289.3 1209.0,2289.4 1209.4,2289.4 1209.8,2289.5 1210.2,2289.6 1210.6,2289.5 1211.0,2289.7 1211.4,2289.5 1211.8,2289.3 1212.2,2289.5 1212.6,2289.4 1213.0,2289.2 1213.4,2289.2 1213.8,2289.3 1214.2,2289.4 1214.6,2289.4 1215.0,2289.3 1215.4,2289.0 1215.8,2289.3 1216.2,2289.3 1216.6,2289.5 1217.0,2289.5 1217.4,2289.4 1217.8,2289.5 1218.2,2289.7 1218.6,2289.8 1219.0,2289.6 1219.4,2290.0 1219.8,2289.6 1220.2,2289.2 1220.6,2289.5 1221.0,2289.1 1221.4,2289.3 1221.8,2289.6 1222.2,2289.5 1222.6,2289.4 1223.0,2289.3 1223.4,2289.1 1223.8,2288.8 1224.2,2288.7 1224.6,2289.0 1225.0,2289.3 1225.4,2289.5 1225.8,2289.5 1226.2,2289.5 1226.6,2289.2 1227.0,2289.1 1227.4,2289.3 1227.8,2289.0 1228.2,2289.1 1228.6,2289.1 1229.0,2288.8 1229.4,2288.8 1229.8,2288.9 1230.2,2288.6 1230.6,2288.7 1231.0,2289.2 1231.4,2289.0 1231.8,2289.4 1232.2,2289.1 1232.6,2288.8 1233.0,2288.7 1233.4,2288.5 1233.8,2288.7 1234.2,2288.9 1234.6,2288.8 1235.0,2288.9 1235.4,2288.6 1235.8,2288.1 1236.2,2287.6 1236.6,2286.8 1237.0,2286.1 1237.4,2285.1 1237.8,2284.3 1238.2,2283.2 1238.6,2282.0 1239.0,2280.9 1239.4,2279.7 1239.8,2278.8 1240.2,2277.4 1240.6,2276.1 1241.0,2275.0 1241.4,2274.5 1241.8,2274.5 1242.2,2275.1 1242.6,2275.7 1243.0,2276.9 1243.4,2278.7 1243.8,2280.3 1244.2,2282.1 1244.6,2283.4 1245.0,2284.3 1245.4,2285.4 1245.8,2285.8 1246.2,2286.4 1246.6,2286.9 1247.0,2287.2 1247.4,2288.1 1247.8,2288.3 1248.2,2288.6 1248.6,2289.1 1249.0,2288.9 1249.4,2289.1 1249.8,2289.0 1250.2,2288.9 1250.6,2288.6 1251.0,2288.4 1251.4,2288.4 1251.8,2288.5 1252.2,2289.0 1252.6,2289.2 1253.0,2289.5 1253.4,2289.4 1253.8,2289.2 1254.2,2289.5 1254.6,2289.5 1255.0,2289.4 1255.4,2289.3 1255.8,2289.1 1256.2,2288.9 1256.6,2289.1 1257.0,2289.2 1257.4,2289.4 1257.8,2289.2 1258.2,2289.0 1258.6,2289.0 1259.0,2288.9 1259.4,2288.8 1259.8,2288.6 1260.2,2288.6 1260.6,2288.3 1261.0,2288.8 1261.4,2289.2 1261.8,2289.6 1262.2,2289.9 1262.6,2289.9 1263.0,2289.7 1263.4,2289.7 1263.8,2289.9 1264.2,2289.7 1264.6,2290.0 1265.0,2289.9 1265.4,2289.7 1265.8,2289.7 1266.2,2289.2 1266.6,2289.1 1267.0,2289.2 1267.4,2288.9 1267.8,2289.3 1268.2,2289.6 1268.6,2289.6 1269.0,2290.1 1269.4,2290.0 1269.8,2290.2 1270.2,2290.0 1270.6,2289.9 1271.0,2290.0 1271.4,2289.5 1271.8,2289.8 1272.2,2289.9 1272.6,2289.6 1273.0,2289.5 1273.4,2289.0 1273.8,2289.2 1274.2,2289.0 1274.6,2289.0 1275.0,2289.5 1275.4,2289.3 1275.8,2289.6 1276.2,2289.8 1276.6,2289.6 1277.0,2289.3 1277.4,2289.1 1277.8,2289.2 1278.2,2289.5 1278.6,2289.9 1279.0,2290.0 1279.4,2289.5 1279.8,2289.4 1280.2,2289.1 1280.6,2288.7 1281.0,2289.3 1281.4,2289.3 1281.8,2289.3 1282.2,2289.8 1282.6,2289.6 1283.0,2289.6 1283.4,2289.6 1283.8,2289.6 1284.2,2289.6 1284.6,2289.7 1285.0,2290.1 1285.4,2290.1 1285.8,2289.9 1286.2,2289.7 1286.6,2289.4 1287.0,2289.4 1287.4,2289.5 1287.8,2289.6 1288.2,2289.5 1288.6,2289.6 1289.0,2289.8 1289.4,2289.9 1289.8,2289.9 1290.2,2289.5 1290.6,2289.1 1291.0,2289.0 1291.4,2289.0 1291.8,2289.2 1292.2,2289.2 1292.6,2289.1 1293.0,2288.8 1293.4,2288.6 1293.8,2288.7 1294.2,2288.8 1294.6,2289.0 1295.0,2289.0 1295.4,2289.2 1295.8,2289.1 1296.2,2289.3 1296.6,2289.5 1297.0,2289.5 1297.4,2289.5 1297.8,2289.4 1298.2,2289.2 1298.6,2288.9 1299.0,2289.1 1299.4,2288.8 1299.8,2289.0 1300.2,2289.3 1300.6,2289.3 1301.0,2288.8 1301.4,2288.6 1301.8,2288.7 1302.2,2288.2 1302.6,2288.7 1303.0,2288.8 1303.4,2288.3 1303.8,2288.5 1304.2,2288.0 1304.6,2288.0 1305.0,2288.3 1305.4,2287.9 1305.8,2287.9 1306.2,2287.8 1306.6,2287.3 1307.0,2287.2 1307.4,2287.2 1307.8,2286.3 1308.2,2285.7 1308.6,2285.3 1309.0,2284.4 1309.4,2284.3 1309.8,2283.4 1310.2,2282.7 1310.6,2282.0 1311.0,2281.4 1311.4,2281.3 1311.8,2280.6 1312.2,2280.1 1312.6,2279.5 1313.0,2279.0 1313.4,2279.1 1313.8,2279.5 1314.2,2279.7 1314.6,2280.7 1315.0,2281.3 1315.4,2281.8 1315.8,2282.3 1316.2,2282.6 1316.6,2283.4 1317.0,2284.2 1317.4,2285.3 1317.8,2286.1 1318.2,2286.6 1318.6,2286.8 1319.0,2286.9 1319.4,2287.1 1319.8,2287.0 1320.2,2287.5 1320.6,2287.5 1321.0,2287.7 1321.4,2288.1 1321.8,2288.3 1322.2,2289.0 1322.6,2288.9 1323.0,2289.1 1323.4,2289.4 1323.8,2288.9 1324.2,2289.1 1324.6,2289.1 1325.0,2288.8 1325.4,2288.8 1325.8,2288.9 1326.2,2289.0 1326.6,2289.5 1327.0,2289.8 1327.4,2289.6 1327.8,2289.6 1328.2,2288.7 1328.6,2288.8 1329.0,2289.1 1329.4,2289.1 1329.8,2289.6 1330.2,2289.5 1330.6,2289.3 1331.0,2289.1 1331.4,2289.4 1331.8,2289.3 1332.2,2289.2 1332.6,2289.8 1333.0,2289.5 1333.4,2289.5 1333.8,2289.9 1334.2,2289.6 1334.6,2289.8 1335.0,2289.8 1335.4,2289.2 1335.8,2289.2 1336.2,2289.3 1336.6,2289.3 1337.0,2289.7 1337.4,2289.8 1337.8,2289.6 1338.2,2289.7 1338.6,2289.8 1339.0,2289.7 1339.4,2289.5 1339.8,2289.7 1340.2,2289.7 1340.6,2289.8 1341.0,2290.0 1341.4,2289.3 1341.8,2289.3 1342.2,2289.2 1342.6,2288.7 1343.0,2289.6 1343.4,2289.6 1343.8,2289.5 1344.2,2289.8 1344.6,2289.5 1345.0,2289.4 1345.4,2289.2 1345.8,2289.2 1346.2,2289.2 1346.6,2289.3 1347.0,2289.8 1347.4,2289.7 1347.8,2289.5 1348.2,2289.4 1348.6,2289.2 1349.0,2289.4 1349.4,2289.4 1349.8,2289.4 1350.2,2289.5 1350.6,2289.6 1351.0,2289.7 1351.4,2289.5 1351.8,2289.3 1352.2,2289.2 1352.6,2289.1 1353.0,2289.0 1353.4,2289.1 1353.8,2289.2 1354.2,2289.5 1354.6,2289.9 1355.0,2290.3 1355.4,2290.1 1355.8,2289.8 1356.2,2289.5 1356.6,2289.2 1357.0,2289.5 1357.4,2289.6 1357.8,2289.9 1358.2,2290.5 1358.6,2290.5 1359.0,2290.3 1359.4,2290.4 1359.8,2289.8 1360.2,2289.6 1360.6,2289.4 1361.0,2289.1 1361.4,2289.1 1361.8,2289.3 1362.2,2289.3 1362.6,2289.6 1363.0,2290.0 1363.4,2289.7 1363.8,2290.1 1364.2,2290.4 1364.6,2290.2 1365.0,2290.2 1365.4,2290.2 1365.8,2289.9 1366.2,2289.7 1366.6,2289.8 1367.0,2289.6 1367.4,2289.2 1367.8,2289.3 1368.2,2289.1 1368.6,2288.9 1369.0,2289.1 1369.4,2289.4 1369.8,2289.1 1370.2,2289.2 1370.6,2289.2 1371.0,2288.9 1371.4,2289.2 1371.8,2289.3 1372.2,2289.0 1372.6,2289.2 1373.0,2288.8 1373.4,2288.9 1373.8,2289.1 1374.2,2288.9 1374.6,2288.9 1375.0,2288.5 1375.4,2288.9 1375.8,2289.0 1376.2,2289.2 1376.6,2289.4 1377.0,2288.9 1377.4,2289.2 1377.8,2288.8 1378.2,2289.1 1378.6,2289.2 1379.0,2289.1 1379.4,2289.6 1379.8,2289.5 1380.2,2289.4 1380.6,2289.5 1381.0,2289.5 1381.4,2289.3 1381.8,2289.5 1382.2,2289.6 1382.6,2289.6 1383.0,2289.9 1383.4,2290.1 1383.8,2289.5 1384.2,2289.4 1384.6,2289.4 1385.0,2289.1 1385.4,2289.1 1385.8,2288.7 1386.2,2288.9 1386.6,2288.9 1387.0,2289.2 1387.4,2289.4 1387.8,2289.1 1388.2,2289.6 1388.6,2289.3 1389.0,2289.4 1389.4,2289.2 1389.8,2288.6 1390.2,2288.7 1390.6,2288.7 1391.0,2289.0 1391.4,2289.6 1391.8,2289.7 1392.2,2289.4 1392.6,2289.3 1393.0,2289.0 1393.4,2289.0 1393.8,2289.1 1394.2,2288.9 1394.6,2289.2 1395.0,2289.5 1395.4,2289.9 1395.8,2290.0 1396.2,2289.5 1396.6,2289.2 1397.0,2289.0 1397.4,2288.9 1397.8,2288.8 1398.2,2288.6 1398.6,2288.7 1399.0,2288.5 1399.4,2288.6 1399.8,2288.6 1400.2,2288.4 1400.6,2288.4 1401.0,2288.2 1401.4,2288.1 1401.8,2287.6 1402.2,2286.8 1402.6,2286.1 1403.0,2285.5 1403.4,2284.4 1403.8,2282.9 1404.2,2281.1 1404.6,2277.5 1405.0,2273.7 1405.4,2269.2 1405.8,2263.5 1406.2,2258.5 1406.6,2254.3 1407.0,2251.7 1407.4,2251.9 1407.8,2254.4 1408.2,2258.8 1408.6,2264.0 1409.0,2269.2 1409.4,2274.2 1409.8,2278.0 1410.2,2280.9 1410.6,2283.2 1411.0,2284.5 1411.4,2285.4 1411.8,2286.0 1412.2,2286.6 1412.6,2287.0 1413.0,2287.5 1413.4,2288.2 1413.8,2288.5 1414.2,2288.7 1414.6,2288.8 1415.0,2288.8 1415.4,2288.3 1415.8,2288.4 1416.2,2288.9 1416.6,2289.0 1417.0,2289.6 1417.4,2289.8 1417.8,2289.7 1418.2,2290.0 1418.6,2289.8 1419.0,2289.4 1419.4,2289.4 1419.8,2289.3 1420.2,2289.4 1420.6,2289.8 1421.0,2289.4 1421.4,2289.3 1421.8,2289.3 1422.2,2288.9 1422.6,2288.8 1423.0,2288.8 1423.4,2288.4 1423.8,2288.8 1424.2,2289.2 1424.6,2289.2 1425.0,2289.6 1425.4,2289.2 1425.8,2289.1 1426.2,2289.2 1426.6,2289.3 1427.0,2289.8 1427.4,2289.7 1427.8,2290.0 1428.2,2290.0 1428.6,2289.9 1429.0,2290.1 1429.4,2289.7 1429.8,2289.4 1430.2,2289.4 1430.6,2289.0 1431.0,2289.0 1431.4,2289.4 1431.8,2289.1 1432.2,2289.1 1432.6,2289.0 1433.0,2288.6 1433.4,2289.2 1433.8,2289.4 1434.2,2289.8 1434.6,2289.7 1435.0,2288.9 1435.4,2288.6 1435.8,2288.6 1436.2,2289.2 1436.6,2289.3 1437.0,2289.2 1437.4,2289.1 1437.8,2288.9 1438.2,2289.4 1438.6,2289.8 1439.0,2289.5 1439.4,2289.5 1439.8,2289.3 1440.2,2289.4 1440.6,2289.6 1441.0,2289.2 1441.4,2289.5 1441.8,2289.6 1442.2,2289.8 1442.6,2290.1 1443.0,2289.7 1443.4,2289.6 1443.8,2289.3 1444.2,2289.4 1444.6,2289.8 1445.0,2289.6 1445.4,2289.3 1445.8,2289.3 1446.2,2289.0 1446.6,2288.7 1447.0,2289.1 1447.4,2289.0 1447.8,2289.2 1448.2,2289.5 1448.6,2289.2 1449.0,2289.3 1449.4,2289.6 1449.8,2289.5 1450.2,2289.7 1450.6,2289.6 1451.0,2289.5 1451.4,2289.5 1451.8,2289.4 1452.2,2289.2 1452.6,2289.2 1453.0,2289.5 1453.4,2289.6 1453.8,2290.3 1454.2,2290.0 1454.6,2289.9 1455.0,2289.6 1455.4,2289.1 1455.8,2289.1 1456.2,2289.1 1456.6,2289.4 1457.0,2289.5 1457.4,2289.4 1457.8,2289.3 1458.2,2289.1 1458.6,2289.2 1459.0,2289.5 1459.4,2289.7 1459.8,2289.4 1460.2,2289.7 1460.6,2289.6 1461.0,2289.4 1461.4,2289.8 1461.8,2289.7 1462.2,2289.8 1462.6,2289.5 1463.0,2289.6 1463.4,2289.2 1463.8,2289.2 1464.2,2289.5 1464.6,2289.0 1465.0,2289.2 1465.4,2289.1 1465.8,2289.0 1466.2,2289.6 1466.6,2289.6 1467.0,2289.6 1467.4,2290.0 1467.8,2289.7 1468.2,2289.6 1468.6,2289.3 1469.0,2289.1 1469.4,2289.3 1469.8,2289.6 1470.2,2289.8 1470.6,2289.9 1471.0,2290.0 1471.4,2289.7 1471.8,2289.9 1472.2,2289.4 1472.6,2289.2 1473.0,2289.0 1473.4,2288.7 1473.8,2289.1 1474.2,2289.0 1474.6,2289.1 1475.0,2289.7 1475.4,2289.5 1475.8,2289.2 1476.2,2288.8 1476.6,2288.5 1477.0,2288.6 1477.4,2288.8 1477.8,2288.8 1478.2,2288.6 1478.6,2288.4 1479.0,2288.5 1479.4,2288.7 1479.8,2288.7 1480.2,2288.9 1480.6,2288.8 1481.0,2289.0 1481.4,2288.5 1481.8,2288.3 1482.2,2288.6 1482.6,2288.6 1483.0,2289.0 1483.4,2289.2 1483.8,2288.9 1484.2,2288.7 1484.6,2289.2 1485.0,2289.1 1485.4,2289.3 1485.8,2289.2 1486.2,2288.8 1486.6,2288.5 1487.0,2288.4 1487.4,2288.4 1487.8,2288.5 1488.2,2288.8 1488.6,2288.9 1489.0,2289.0 1489.4,2289.0 1489.8,2289.2 1490.2,2289.3 1490.6,2289.4 1491.0,2289.4 1491.4,2289.3 1491.8,2289.2 1492.2,2288.6 1492.6,2288.6 1493.0,2288.3 1493.4,2288.0 1493.8,2288.0 1494.2,2287.9 1494.6,2288.2 1495.0,2288.5 1495.4,2288.9 1495.8,2289.1 1496.2,2288.8 1496.6,2288.8 1497.0,2288.1 1497.4,2288.1 1497.8,2287.6 1498.2,2287.4 1498.6,2287.5 1499.0,2287.4 1499.4,2287.7 1499.8,2287.8 1500.2,2287.7 1500.6,2287.3 1501.0,2287.0 1501.4,2286.9 1501.8,2286.7 1502.2,2286.5 1502.6,2286.0 1503.0,2285.2 1503.4,2284.9 1503.8,2284.7 1504.2,2284.8 1504.6,2284.7 1505.0,2284.5 1505.4,2284.4 1505.8,2284.4 1506.2,2284.3 1506.6,2284.3 1507.0,2284.0 1507.4,2283.8 1507.8,2283.1 1508.2,2282.5 1508.6,2282.1 1509.0,2281.7 1509.4,2282.0 1509.8,2281.6 1510.2,2281.4 1510.6,2281.2 1511.0,2280.8 1511.4,2281.0 1511.8,2281.1 1512.2,2281.1 1512.6,2281.2 1513.0,2281.3 1513.4,2281.2 1513.8,2281.4 1514.2,2281.5 1514.6,2281.8 1515.0,2281.8 1515.4,2281.8 1515.8,2281.9 1516.2,2281.9 1516.6,2282.3 1517.0,2282.4 1517.4,2282.8 1517.8,2283.1 1518.2,2283.1 1518.6,2283.7 1519.0,2283.8 1519.4,2284.2 1519.8,2284.7 1520.2,2285.1 1520.6,2285.5 1521.0,2285.5 1521.4,2285.2 1521.8,2285.2 1522.2,2285.6 1522.6,2286.0 1523.0,2286.5 1523.4,2286.7 1523.8,2286.7 1524.2,2286.6 1524.6,2286.4 1525.0,2286.3 1525.4,2286.4 1525.8,2286.5 1526.2,2286.8 1526.6,2286.9 1527.0,2287.3 1527.4,2287.6 1527.8,2288.0 1528.2,2288.0 1528.6,2287.8 1529.0,2287.6 1529.4,2287.6 1529.8,2288.4 1530.2,2288.7 1530.6,2289.0 1531.0,2289.0 1531.4,2288.5 1531.8,2288.7 1532.2,2288.8 1532.6,2288.7 1533.0,2288.4 1533.4,2288.3 1533.8,2288.5 1534.2,2288.7 1534.6,2288.9 1535.0,2288.8 1535.4,2288.6 1535.8,2288.7 1536.2,2288.8 1536.6,2289.1 1537.0,2289.2 1537.4,2289.0 1537.8,2289.3 1538.2,2288.9 1538.6,2288.8 1539.0,2289.3 1539.4,2289.0 1539.8,2289.5 1540.2,2289.2 1540.6,2289.1 1541.0,2289.0 1541.4,2288.7 1541.8,2289.2 1542.2,2288.4 1542.6,2288.3 1543.0,2288.3 1543.4,2288.7 1543.8,2289.0 1544.2,2289.6 1544.6,2289.5 1545.0,2289.1 1545.4,2289.0 1545.8,2288.6 1546.2,2288.3 1546.6,2287.8 1547.0,2288.1 1547.4,2287.8 1547.8,2287.7 1548.2,2288.0 1548.6,2287.5 1549.0,2287.3 1549.4,2287.4 1549.8,2287.2 1550.2,2287.5 1550.6,2287.4 1551.0,2287.4 1551.4,2287.5 1551.8,2287.1 1552.2,2287.2 1552.6,2287.0 1553.0,2286.7 1553.4,2286.6 1553.8,2286.8 1554.2,2286.6 1554.6,2286.7 1555.0,2287.1 1555.4,2287.0 1555.8,2287.2 1556.2,2287.2 1556.6,2287.0 1557.0,2286.9 1557.4,2286.9 1557.8,2287.4 1558.2,2287.6 1558.6,2287.5 1559.0,2287.7 1559.4,2287.7 1559.8,2287.7 1560.2,2288.2 1560.6,2288.3 1561.0,2287.9 1561.4,2288.1 1561.8,2288.0 1562.2,2288.3 1562.6,2288.8 1563.0,2288.9 1563.4,2289.6 1563.8,2289.4 1564.2,2289.5 1564.6,2289.7 1565.0,2289.5 1565.4,2289.8 1565.8,2289.2 1566.2,2289.1 1566.6,2289.0 1567.0,2288.9 1567.4,2289.1 1567.8,2289.1 1568.2,2289.0 1568.6,2289.2 1569.0,2289.3 1569.4,2289.5 1569.8,2289.2 1570.2,2288.8 1570.6,2288.8 1571.0,2289.1 1571.4,2289.4 1571.8,2289.5 1572.2,2289.6 1572.6,2289.5 1573.0,2289.3 1573.4,2289.3 1573.8,2289.3 1574.2,2289.3 1574.6,2289.2 1575.0,2289.5 1575.4,2289.2 1575.8,2288.9 1576.2,2288.9 1576.6,2288.9 1577.0,2289.1 1577.4,2289.1 1577.8,2289.2 1578.2,2289.1 1578.6,2289.2 1579.0,2289.2 1579.4,2289.0 1579.8,2289.1 1580.2,2289.3 1580.6,2289.6 1581.0,2290.1 1581.4,2290.2 1581.8,2290.2 1582.2,2290.1 1582.6,2290.1 1583.0,2289.9 1583.4,2289.8 1583.8,2290.0 1584.2,2289.7 1584.6,2289.6 1585.0,2289.8 1585.4,2289.9 1585.8,2289.8 1586.2,2290.0 1586.6,2289.7 1587.0,2289.3 1587.4,2289.5 1587.8,2289.4 1588.2,2289.6 1588.6,2289.8 1589.0,2289.6 1589.4,2289.9 1589.8,2289.8 1590.2,2289.5 1590.6,2289.4 1591.0,2288.8 1591.4,2289.1 1591.8,2289.2 1592.2,2289.6 1592.6,2289.7 1593.0,2289.7 1593.4,2290.0 1593.8,2289.7 1594.2,2289.8 1594.6,2289.2 1595.0,2289.3 1595.4,2289.3 1595.8,2289.5 1596.2,2289.8 1596.6,2289.5 1597.0,2289.3 1597.4,2289.3 1597.8,2289.4 1598.2,2289.3 1598.6,2289.6 1599.0,2289.1 1599.4,2289.1 1599.8,2289.1 1600.2,2289.3 1600.6,2289.7 1601.0,2289.7 1601.4,2289.7 1601.8,2289.9 1602.2,2289.6 1602.6,2290.0 1603.0,2290.2 1603.4,2289.8 1603.8,2289.6 1604.2,2289.4 1604.6,2289.2 1605.0,2288.9 1605.4,2289.3 1605.8,2289.0 1606.2,2289.2 1606.6,2289.2 1607.0,2289.1 1607.4,2289.3 1607.8,2289.0 1608.2,2289.0 1608.6,2288.8 1609.0,2288.6 1609.4,2288.6 1609.8,2289.1 1610.2,2289.2 1610.6,2289.2 1611.0,2289.2 1611.4,2288.7 1611.8,2288.6 1612.2,2288.6 1612.6,2288.5 1613.0,2288.5 1613.4,2288.3 1613.8,2288.0 1614.2,2288.0 1614.6,2287.9 1615.0,2287.9 1615.4,2287.8 1615.8,2287.6 1616.2,2287.3 1616.6,2286.5 1617.0,2285.8 1617.4,2284.9 1617.8,2284.1 1618.2,2283.2 1618.6,2282.0 1619.0,2280.3 1619.4,2278.2 1619.8,2275.8 1620.2,2273.1 1620.6,2270.5 1621.0,2268.1 1621.4,2266.2 1621.8,2265.2 1622.2,2265.1"/>
<g fill="none" stroke="#000" stroke-width="10.5" stroke-linejoin="miter">
<rect x="321.0" y="29.0" width="1520.5" height="2293.5"/>
<line x1="321.0" y1="948.5" x2="1841.5" y2="948.5"/>
</g>
<g stroke="#000" stroke-width="10" stroke-linecap="round">
<line x1="321.0" y1="121" x2="349" y2="121"/>
<line x1="321.0" y1="304" x2="349" y2="304"/>
<line x1="321.0" y1="487.2" x2="349" y2="487.2"/>
<line x1="321.0" y1="544.7" x2="349" y2="544.7"/>
<line x1="321.0" y1="716.9" x2="349" y2="716.9"/>
<line x1="321.0" y1="889.2" x2="349" y2="889.2"/>
<line x1="321.0" y1="1011.1" x2="349" y2="1011.1"/>
<line x1="321.0" y1="1143.0" x2="349" y2="1143.0"/>
<line x1="321.0" y1="1274.2" x2="349" y2="1274.2"/>
<line x1="321.0" y1="1405.6" x2="349" y2="1405.6"/>
<line x1="321.0" y1="1482" x2="349" y2="1482"/>
<line x1="321.0" y1="1634.5" x2="349" y2="1634.5"/>
<line x1="321.0" y1="1788.1" x2="349" y2="1788.1"/>
<line x1="321.0" y1="1986.2" x2="349" y2="1986.2"/>
<line x1="321.0" y1="2139.6" x2="349" y2="2139.6"/>
<line x1="321.0" y1="2293" x2="349" y2="2293"/>
<line x1="321.0" y1="212.5" x2="335" y2="212.5"/>
<line x1="321.0" y1="395.6" x2="335" y2="395.6"/>
<line x1="321.0" y1="630.8" x2="335" y2="630.8"/>
<line x1="321.0" y1="803" x2="335" y2="803"/>
<line x1="321.0" y1="1077.5" x2="335" y2="1077.5"/>
<line x1="321.0" y1="1209" x2="335" y2="1209"/>
<line x1="321.0" y1="1339.9" x2="335" y2="1339.9"/>
<line x1="321.0" y1="1558.3" x2="335" y2="1558.3"/>
<line x1="321.0" y1="1711" x2="335" y2="1711"/>
<line x1="321.0" y1="1864" x2="335" y2="1864"/>
<line x1="321.0" y1="1909" x2="335" y2="1909"/>
<line x1="321.0" y1="2063" x2="335" y2="2063"/>
<line x1="321.0" y1="2216.3" x2="335" y2="2216.3"/>
<line x1="754.5" y1="2322.5" x2="754.5" y2="2297.5"/>
<line x1="754.5" y1="948.5" x2="754.5" y2="919.5"/>
<line x1="1188.0" y1="2322.5" x2="1188.0" y2="2297.5"/>
<line x1="1188.0" y1="948.5" x2="1188.0" y2="919.5"/>
<line x1="1621.5" y1="2322.5" x2="1621.5" y2="2297.5"/>
<line x1="1621.5" y1="948.5" x2="1621.5" y2="919.5"/>
<line x1="537.8" y1="2322.5" x2="537.8" y2="2310"/>
<line x1="537.8" y1="948.5" x2="537.8" y2="935.5"/>
<line x1="971.2" y1="2322.5" x2="971.2" y2="2310"/>
<line x1="971.2" y1="948.5" x2="971.2" y2="935.5"/>
<line x1="1404.8" y1="2322.5" x2="1404.8" y2="2310"/>
<line x1="1404.8" y1="948.5" x2="1404.8" y2="935.5"/>
</g>
<g class="tk" text-anchor="end">
<text x="288" y="134.3">20000</text>
<text x="288" y="317.3">10000</text>
<text x="288" y="500.5">0</text>
<text x="288" y="558.0">3000</text>
<text x="288" y="730.2">1500</text>
<text x="288" y="902.5">0</text>
<text x="288" y="1024.4">30000</text>
<text x="288" y="1156.3">20000</text>
<text x="288" y="1287.5">10000</text>
<text x="288" y="1418.9">0</text>
<text x="288" y="1495.3">40000</text>
<text x="288" y="1647.8">20000</text>
<text x="288" y="1801.4">0</text>
<text x="288" y="1999.5">50000</text>
<text x="288" y="2152.9">25000</text>
<text x="288" y="2306.3">0</text>
</g>
<g class="tk" text-anchor="middle">
<text x="319.5" y="2396">0</text>
<text x="753.0" y="2396">20</text>
<text x="1186.5" y="2396">40</text>
<text x="1620.0" y="2396">60</text>
</g>
<g class="sl">
<text transform="translate(462,440.5) rotate(-90)">P25</text>
<text transform="translate(457,927.7) rotate(-90)">HTOP</text>
<text transform="translate(462,1456) rotate(-90)">MZTC-2.5</text>
<text transform="translate(462,1807) rotate(-90)">MZ</text>
<text transform="translate(462,2265.5) rotate(-90)">NZ</text>
</g>
<text class="bt" font-size="96" transform="translate(92.5,1656) rotate(-90)" textLength="607" lengthAdjust="spacingAndGlyphs">Intensity (a.u.)</text>
<text class="bt" font-size="96" x="911" y="2503">2 Theta</text>
<text class="bt" font-size="96" x="1500" y="128.8" textLength="329" lengthAdjust="spacingAndGlyphs">Anatase</text>
<text class="bt" font-size="96" x="1502" y="243.2" textLength="250" lengthAdjust="spacingAndGlyphs">Rutile</text>
<text class="bt" font-size="62"><tspan x="1213" y="1040">K</tspan><tspan x="1262.5" y="1052.5" font-size="42">2.04</tspan><tspan x="1338" y="1040">Na</tspan><tspan x="1415.5" y="1052.5" font-size="42">0.06</tspan><tspan x="1492" y="1040">Al</tspan><tspan x="1551.5" y="1052.5" font-size="42">2</tspan><tspan x="1576" y="1040">Si</tspan><tspan x="1632" y="1052.5" font-size="42">7.8</tspan><tspan x="1682.5" y="1040">O</tspan><tspan x="1730" y="1052.5" font-size="42">20.7</tspan></text>
<text class="bt" font-size="96" x="1211" y="1158.8">SiO<tspan font-size="62" dy="20">2</tspan></text>
<g fill="#2A95D5">
<polygon points="1387.5,76.3 1453.3,76.3 1420.4,130.8"/>
<polygon points="837,86.5 902.4,86.5 869.7,143.5"/>
<polygon points="1107.2,352 1172.5,352 1139.8,406"/>
<polygon points="1331.4,323.5 1397,323.5 1364.2,379.5"/>
<polygon points="1459.7,354.5 1524.6,354.5 1492.2,409"/>
<polygon points="837,502 902.4,502 869.7,558"/>
<polygon points="1107.2,716 1172.5,716 1139.8,769"/>
<polygon points="1331.4,716 1397,716 1364.2,769"/>
<polygon points="1471.6,718 1537.3,718 1504.4,771"/>
<circle cx="1421.5" cy="212.3" r="24.3"/>
<circle cx="917" cy="387" r="23.3"/>
<circle cx="1104" cy="415" r="23"/>
<circle cx="1527.5" cy="404" r="23"/>
<polygon points="1127.3,998.3 1133.9,1018.7 1155.4,1018.7 1138.0,1031.3 1144.6,1051.7 1127.3,1039.1 1110.0,1051.7 1116.6,1031.3 1099.2,1018.7 1120.7,1018.7"/>
<polygon points="589.5,1300.2 596.1,1320.6 617.6,1320.6 600.2,1333.2 606.8,1353.6 589.5,1341.0 572.2,1353.6 578.8,1333.2 561.4,1320.6 582.9,1320.6"/>
<polygon points="857.9,1294.1 864.5,1314.5 886.0,1314.5 868.6,1327.1 875.2,1347.5 857.9,1334.9 840.6,1347.5 847.2,1327.1 829.8,1314.5 851.3,1314.5"/>
<polygon points="589.5,1624.5 596.1,1644.9 617.6,1644.9 600.2,1657.5 606.8,1677.9 589.5,1665.3 572.2,1677.9 578.8,1657.5 561.4,1644.9 582.9,1644.9"/>
<polygon points="860.4,1635.0 867.0,1655.4 888.5,1655.4 871.1,1668.0 877.7,1688.4 860.4,1675.8 843.1,1688.4 849.7,1668.0 832.3,1655.4 853.8,1655.4"/>
<polygon points="588.0,2173.5 594.6,2193.9 616.1,2193.9 598.7,2206.5 605.3,2226.9 588.0,2214.3 570.7,2226.9 577.3,2206.5 559.9,2193.9 581.4,2193.9"/>
<polygon points="858.2,2178.2 864.8,2198.6 886.3,2198.6 868.9,2211.2 875.5,2231.6 858.2,2219.0 840.9,2231.6 847.5,2211.2 830.1,2198.6 851.6,2198.6"/>
<polygon points="1100.0,1132.4 1132,1110.4 1164.0,1132.4 1132,1154.4"/>
<polygon points="737.7,1319.2 769.7,1297.2 801.7,1319.2 769.7,1341.2"/>
<polygon points="868.0,1054.5 900,1032.5 932.0,1054.5 900,1076.5"/>
<polygon points="1380.7,1332 1412.7,1310.0 1444.7,1332 1412.7,1354.0"/>
<polygon points="737.7,1672.4 769.7,1650.4 801.7,1672.4 769.7,1694.4"/>
<polygon points="868.0,1444.5 900,1422.5 932.0,1444.5 900,1466.5"/>
<polygon points="1380.3,1695 1412.3,1673.0 1444.3,1695 1412.3,1717.0"/>
<polygon points="738.0,2179.6 770,2157.6 802.0,2179.6 770,2201.6"/>
<polygon points="868.0,1886.7 900,1864.7 932.0,1886.7 900,1908.7"/>
<polygon points="1381.0,2211 1413,2189.0 1445.0,2211 1413,2233.0"/>
</g>
</svg></body></html>
